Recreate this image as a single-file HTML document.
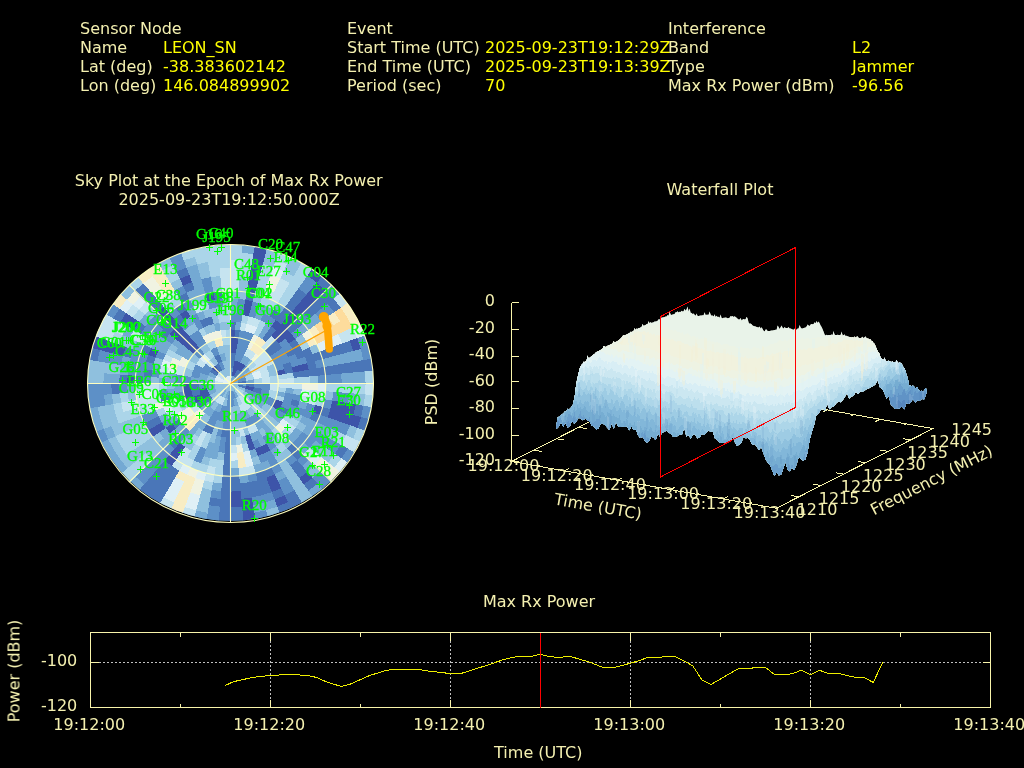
<!DOCTYPE html>
<html><head><meta charset="utf-8"><title>Interference Event Report</title>
<style>
html,body{margin:0;padding:0;background:#000;}
body{width:1024px;height:768px;overflow:hidden;}
svg{display:block;shape-rendering:crispEdges;font-family:"DejaVu Sans","Liberation Sans",sans-serif;}
.sat{font-family:"Liberation Serif","DejaVu Serif",serif;font-size:15px;fill:#00ff00;stroke:#00ff00;stroke-width:0.3px;}
</style></head><body>
<svg width="1024" height="768" viewBox="0 0 1024 768">
<rect width="1024" height="768" fill="#000"/>
<g style="will-change:opacity">
<text x="80" y="34" fill="#f4f0b0" text-anchor="start" font-size="16" >Sensor Node</text>
<text x="80" y="53" fill="#f4f0b0" text-anchor="start" font-size="16" >Name</text>
<text x="80" y="72" fill="#f4f0b0" text-anchor="start" font-size="16" >Lat (deg)</text>
<text x="80" y="91" fill="#f4f0b0" text-anchor="start" font-size="16" >Lon (deg)</text>
<text x="163" y="53" fill="#ffff00" text-anchor="start" font-size="16" >LEON_SN</text>
<text x="163" y="72" fill="#ffff00" text-anchor="start" font-size="16" >-38.383602142</text>
<text x="163" y="91" fill="#ffff00" text-anchor="start" font-size="16" >146.084899902</text>
<text x="347" y="34" fill="#f4f0b0" text-anchor="start" font-size="16" >Event</text>
<text x="347" y="53" fill="#f4f0b0" text-anchor="start" font-size="16" >Start Time (UTC)</text>
<text x="347" y="72" fill="#f4f0b0" text-anchor="start" font-size="16" >End Time (UTC)</text>
<text x="347" y="91" fill="#f4f0b0" text-anchor="start" font-size="16" >Period (sec)</text>
<text x="485" y="53" fill="#ffff00" text-anchor="start" font-size="16" >2025-09-23T19:12:29Z</text>
<text x="485" y="72" fill="#ffff00" text-anchor="start" font-size="16" >2025-09-23T19:13:39Z</text>
<text x="485" y="91" fill="#ffff00" text-anchor="start" font-size="16" >70</text>
<text x="668" y="34" fill="#f4f0b0" text-anchor="start" font-size="16" >Interference</text>
<text x="668" y="53" fill="#f4f0b0" text-anchor="start" font-size="16" >Band</text>
<text x="668" y="72" fill="#f4f0b0" text-anchor="start" font-size="16" >Type</text>
<text x="668" y="91" fill="#f4f0b0" text-anchor="start" font-size="16" >Max Rx Power (dBm)</text>
<text x="852" y="53" fill="#ffff00" text-anchor="start" font-size="16" >L2</text>
<text x="852" y="72" fill="#ffff00" text-anchor="start" font-size="16" >Jammer</text>
<text x="852" y="91" fill="#ffff00" text-anchor="start" font-size="16" >-96.56</text>
<text x="228.7" y="186" fill="#f4f0b0" text-anchor="middle" font-size="16" >Sky Plot at the Epoch of Max Rx Power</text>
<text x="229" y="205" fill="#f4f0b0" text-anchor="middle" font-size="16" >2025-09-23T19:12:50.000Z</text>
<text x="720" y="195" fill="#f4f0b0" text-anchor="middle" font-size="16" >Waterfall Plot</text>
<text x="539" y="607" fill="#f4f0b0" text-anchor="middle" font-size="16" >Max Rx Power</text>
<text x="538.3" y="758" fill="#f4f0b0" text-anchor="middle" font-size="16" >Time (UTC)</text>
<clipPath id="skyclip"><ellipse cx="230.5" cy="382.8" rx="143.0" ry="138.0"/></clipPath>
<g clip-path="url(#skyclip)">
<ellipse cx="230.5" cy="383.5" rx="143.0" ry="139.0" fill="#74a9d3"/>
<polygon fill="#abd5e9" points="230.5,383.5 230.5,375.2 230.9,375.2 231.3,375.2 230.5,383.5"/>
<polygon fill="#5d90c7" points="230.5,375.8 230.4,367.5 231.2,367.5 232.0,367.5 231.2,375.8"/>
<polygon fill="#4a76b8" points="230.4,368.1 230.4,352.0 231.9,352.0 233.5,352.2 232.0,368.1"/>
<polygon fill="#3d54a9" points="230.4,352.6 230.3,328.9 233.0,328.8 235.6,329.1 233.4,352.7"/>
<polygon fill="#4a76b8" points="230.3,329.4 230.2,321.1 233.3,321.1 236.4,321.4 235.6,329.7"/>
<polygon fill="#5d90c7" points="230.2,321.7 230.2,313.4 233.7,313.3 237.1,313.7 236.3,322.0"/>
<polygon fill="#74a9d3" points="230.2,314.0 230.1,298.0 234.3,297.9 238.6,298.3 237.0,314.3"/>
<polygon fill="#8fc0de" points="230.1,298.6 230.1,290.3 234.7,290.2 239.3,290.6 238.5,298.9"/>
<polygon fill="#c6e4f0" points="230.1,290.8 229.9,259.4 236.1,259.2 242.2,259.9 239.2,291.2"/>
<polygon fill="#abd5e9" points="229.9,259.9 229.9,242.6 236.8,242.4 243.8,243.1 242.1,260.5"/>
<polygon fill="#abd5e9" points="230.5,383.5 231.2,375.2 231.6,375.2 232.0,375.3 230.5,383.5"/>
<polygon fill="#5d90c7" points="231.2,375.8 231.9,367.5 232.7,367.6 233.4,367.7 231.9,375.9"/>
<polygon fill="#4a76b8" points="231.8,368.1 233.2,352.1 234.7,352.2 236.3,352.5 233.3,368.3"/>
<polygon fill="#3d54a9" points="233.1,352.7 234.5,336.7 236.8,336.9 239.1,337.3 236.2,353.1"/>
<polygon fill="#4a76b8" points="234.4,337.3 235.2,329.0 237.9,329.2 240.5,329.7 239.0,337.9"/>
<polygon fill="#74a9d3" points="235.1,329.6 235.8,321.4 238.9,321.5 241.9,322.1 240.4,330.3"/>
<polygon fill="#5d90c7" points="235.8,321.9 237.8,298.3 242.0,298.5 246.2,299.3 241.8,322.7"/>
<polygon fill="#8fc0de" points="237.7,298.8 239.8,275.2 245.1,275.5 250.4,276.5 246.1,299.9"/>
<polygon fill="#abd5e9" points="239.7,275.8 241.7,252.1 248.2,252.5 254.6,253.7 250.3,277.1"/>
<polygon fill="#74a9d3" points="241.7,252.7 242.5,243.0 249.5,243.5 256.3,244.8 254.5,254.3"/>
<polygon fill="#74a9d3" points="230.5,383.5 231.9,375.3 232.4,375.4 232.7,375.5 230.5,383.5"/>
<polygon fill="#3d54a9" points="231.8,375.9 234.6,360.1 235.8,360.3 236.9,360.6 232.6,376.0"/>
<polygon fill="#5d90c7" points="234.5,360.7 240.0,329.7 242.7,330.0 245.3,330.8 236.8,361.1"/>
<polygon fill="#c6e4f0" points="239.9,330.2 241.4,322.0 244.4,322.5 247.4,323.3 245.1,331.3"/>
<polygon fill="#abd5e9" points="241.3,322.6 242.7,314.4 246.1,314.9 249.5,315.9 247.2,323.9"/>
<polygon fill="#3d54a9" points="242.6,315.0 245.4,299.2 249.6,299.8 253.6,301.0 249.3,316.4"/>
<polygon fill="#4a76b8" points="245.3,299.8 246.7,291.6 251.3,292.3 255.7,293.5 253.5,301.5"/>
<polygon fill="#3d54a9" points="246.6,292.2 255.1,244.6 261.9,245.6 268.6,247.5 255.6,294.1"/>
<polygon fill="#74a9d3" points="230.5,383.5 232.7,375.5 233.1,375.6 233.5,375.7 230.5,383.5"/>
<polygon fill="#3d54a9" points="232.5,376.0 236.7,360.5 237.9,360.8 239.0,361.2 233.2,376.3"/>
<polygon fill="#5d90c7" points="236.6,361.1 244.8,330.7 247.4,331.3 250.0,332.2 238.7,361.8"/>
<polygon fill="#dff0f6" points="244.7,331.2 246.8,323.2 249.8,323.9 252.7,325.0 249.7,332.8"/>
<polygon fill="#c6e4f0" points="246.7,323.8 248.9,315.7 252.2,316.5 255.5,317.7 252.5,325.5"/>
<polygon fill="#5d90c7" points="248.7,316.3 252.9,300.8 257.0,301.8 261.0,303.3 255.2,318.3"/>
<polygon fill="#8fc0de" points="252.7,301.4 256.9,285.9 261.8,287.0 266.5,288.8 260.7,303.8"/>
<polygon fill="#abd5e9" points="256.8,286.4 263.0,263.5 269.0,264.9 274.7,267.0 266.2,289.3"/>
<polygon fill="#8fc0de" points="262.9,264.0 267.4,247.2 274.2,248.8 280.7,251.3 274.5,267.6"/>
<polygon fill="#74a9d3" points="230.5,383.5 233.4,375.7 233.8,375.8 234.1,376.0 230.5,383.5"/>
<polygon fill="#3d54a9" points="233.2,376.2 238.8,361.1 239.9,361.5 240.9,362.0 233.9,376.5"/>
<polygon fill="#5d90c7" points="238.6,361.7 249.5,332.1 252.1,332.9 254.5,334.1 240.7,362.5"/>
<polygon fill="#dff0f6" points="249.3,332.6 252.2,324.8 255.1,325.8 257.9,327.1 254.2,334.6"/>
<polygon fill="#c6e4f0" points="252.0,325.4 254.9,317.5 258.1,318.6 261.3,320.1 257.6,327.6"/>
<polygon fill="#74a9d3" points="254.7,318.1 260.2,303.0 264.2,304.3 268.0,306.1 261.0,320.6"/>
<polygon fill="#abd5e9" points="260.0,303.6 262.9,295.7 267.3,297.2 271.4,299.2 267.8,306.7"/>
<polygon fill="#c6e4f0" points="262.7,296.3 265.6,288.5 270.3,290.0 274.8,292.2 271.2,299.7"/>
<polygon fill="#f0f3e2" points="265.4,289.0 271.0,273.9 276.4,275.7 281.6,278.2 274.6,292.7"/>
<polygon fill="#dff0f6" points="270.8,274.5 273.7,266.7 279.5,268.6 285.0,271.2 281.3,278.7"/>
<polygon fill="#c6e4f0" points="273.5,267.2 276.3,259.4 282.5,261.4 288.4,264.2 284.7,271.7"/>
<polygon fill="#abd5e9" points="276.1,259.9 279.5,250.8 286.1,253.0 292.4,256.0 288.1,264.8"/>
<polygon fill="#74a9d3" points="230.5,383.5 234.1,376.0 234.5,376.1 234.8,376.3 230.5,383.5"/>
<polygon fill="#4a76b8" points="233.8,376.5 237.4,368.9 238.1,369.3 238.8,369.7 234.5,376.8"/>
<polygon fill="#3d54a9" points="237.2,369.5 240.7,361.9 241.8,362.4 242.8,363.0 238.5,370.2"/>
<polygon fill="#74a9d3" points="240.5,362.5 244.1,354.9 245.5,355.5 246.8,356.3 242.5,363.5"/>
<polygon fill="#c6e4f0" points="243.8,355.4 247.4,347.9 249.2,348.7 250.8,349.6 246.5,356.8"/>
<polygon fill="#f0f3e2" points="247.1,348.4 254.0,333.9 256.5,334.9 258.8,336.3 250.5,350.1"/>
<polygon fill="#abd5e9" points="253.8,334.4 260.7,319.9 263.9,321.2 266.8,323.0 258.5,336.8"/>
<polygon fill="#5d90c7" points="260.4,320.4 264.0,312.8 267.5,314.3 270.8,316.3 266.5,323.5"/>
<polygon fill="#74a9d3" points="263.8,313.4 267.3,305.8 271.2,307.5 274.8,309.6 270.5,316.8"/>
<polygon fill="#abd5e9" points="267.1,306.4 270.7,298.8 274.9,300.6 278.8,302.9 274.5,310.1"/>
<polygon fill="#c6e4f0" points="270.4,299.3 280.6,277.8 285.9,280.0 290.8,282.9 278.5,303.5"/>
<polygon fill="#abd5e9" points="280.4,278.3 284.0,270.8 289.6,273.2 294.8,276.3 290.5,283.4"/>
<polygon fill="#8fc0de" points="283.7,271.3 291.2,255.5 297.6,258.2 303.5,261.7 294.5,276.8"/>
<polygon fill="#74a9d3" points="230.5,383.5 234.7,376.3 235.1,376.5 235.4,376.7 230.5,383.5"/>
<polygon fill="#4a76b8" points="234.4,376.8 238.7,369.6 239.4,370.0 240.0,370.4 235.1,377.2"/>
<polygon fill="#3d54a9" points="238.4,370.1 242.6,362.9 243.7,363.4 244.6,364.1 239.7,370.9"/>
<polygon fill="#74a9d3" points="242.3,363.4 246.6,356.2 247.9,356.9 249.2,357.8 244.3,364.6"/>
<polygon fill="#c6e4f0" points="246.3,356.7 250.5,349.5 252.2,350.4 253.8,351.5 248.8,358.3"/>
<polygon fill="#f8edc4" points="250.2,350.0 258.4,336.1 260.8,337.3 262.9,338.9 253.4,352.0"/>
<polygon fill="#74a9d3" points="258.1,336.6 266.3,322.7 269.3,324.3 272.1,326.3 262.6,339.4"/>
<polygon fill="#5d90c7" points="266.0,323.2 270.2,315.9 273.6,317.7 276.7,320.0 271.8,326.7"/>
<polygon fill="#4a76b8" points="269.9,316.5 274.2,309.2 277.9,311.2 281.3,313.7 276.4,320.4"/>
<polygon fill="#74a9d3" points="273.9,309.8 278.1,302.5 282.1,304.7 285.9,307.3 280.9,314.1"/>
<polygon fill="#abd5e9" points="277.8,303.0 302.5,261.1 308.6,264.4 314.2,268.4 285.5,307.8"/>
<polygon fill="#74a9d3" points="230.5,383.5 235.4,376.7 235.7,376.9 236.0,377.2 230.5,383.5"/>
<polygon fill="#4a76b8" points="235.0,377.2 239.9,370.3 240.6,370.8 241.2,371.3 235.6,377.6"/>
<polygon fill="#3d54a9" points="239.6,370.8 244.4,364.0 245.4,364.6 246.3,365.4 240.8,371.7"/>
<polygon fill="#74a9d3" points="244.1,364.5 249.0,357.6 250.2,358.5 251.4,359.5 245.9,365.8"/>
<polygon fill="#c6e4f0" points="248.6,358.1 253.5,351.3 255.1,352.3 256.6,353.6 251.0,359.9"/>
<polygon fill="#f8edc4" points="253.1,351.8 262.5,338.6 264.8,340.1 266.8,341.8 256.2,354.0"/>
<polygon fill="#4a76b8" points="262.2,339.1 271.6,325.9 274.5,327.8 277.1,330.0 266.4,342.2"/>
<polygon fill="#3d54a9" points="271.3,326.4 276.1,319.6 279.3,321.6 282.2,324.1 276.7,330.5"/>
<polygon fill="#4a76b8" points="275.8,320.1 298.8,287.8 303.6,291.0 307.9,294.6 281.8,324.6"/>
<polygon fill="#5d90c7" points="298.4,288.3 307.8,275.2 313.2,278.7 318.2,282.9 307.5,295.1"/>
<polygon fill="#3d54a9" points="307.5,275.6 313.1,267.7 318.9,271.5 324.2,275.9 317.8,283.3"/>
<polygon fill="#74a9d3" points="230.5,383.5 236.0,377.1 236.3,377.4 236.6,377.7 230.5,383.5"/>
<polygon fill="#5d90c7" points="235.6,377.6 246.1,365.2 247.0,366.0 247.9,366.8 236.1,378.1"/>
<polygon fill="#8fc0de" points="245.7,365.7 251.2,359.3 252.4,360.2 253.5,361.3 247.4,367.2"/>
<polygon fill="#f0f3e2" points="250.8,359.8 256.3,353.4 257.8,354.5 259.1,355.9 253.1,361.8"/>
<polygon fill="#f8edc4" points="255.9,353.8 261.4,347.4 263.2,348.8 264.8,350.5 258.7,356.3"/>
<polygon fill="#c6e4f0" points="261.0,347.9 271.5,335.6 273.9,337.4 276.1,339.6 264.4,350.9"/>
<polygon fill="#3d54a9" points="271.1,336.0 317.2,282.1 322.3,286.1 326.8,290.7 275.6,340.0"/>
<polygon fill="#4a76b8" points="316.9,282.6 323.2,275.1 328.7,279.4 333.5,284.3 326.4,291.1"/>
<polygon fill="#74a9d3" points="230.5,383.5 247.7,366.6 248.6,367.4 249.3,368.3 230.5,383.5"/>
<polygon fill="#abd5e9" points="247.3,367.0 253.3,361.1 254.4,362.2 255.4,363.4 248.8,368.7"/>
<polygon fill="#c6e4f0" points="252.9,361.6 264.5,350.2 266.2,351.7 267.6,353.5 254.9,363.7"/>
<polygon fill="#4a76b8" points="264.1,350.6 275.7,339.2 277.9,341.3 279.8,343.6 267.1,353.9"/>
<polygon fill="#3d54a9" points="275.2,339.6 286.9,328.2 289.6,330.8 292.0,333.7 279.4,344.0"/>
<polygon fill="#4a76b8" points="286.4,328.7 298.0,317.3 301.4,320.4 304.3,323.9 291.6,334.1"/>
<polygon fill="#5d90c7" points="297.6,317.7 303.6,311.8 307.2,315.1 310.4,318.9 303.8,324.2"/>
<polygon fill="#4a76b8" points="303.2,312.2 326.0,289.9 330.7,294.2 334.8,299.2 309.9,319.3"/>
<polygon fill="#5d90c7" points="325.6,290.3 332.6,283.4 337.6,288.1 342.0,293.4 334.3,299.6"/>
<polygon fill="#74a9d3" points="230.5,383.5 249.1,368.2 249.9,369.0 250.6,370.0 230.5,383.5"/>
<polygon fill="#abd5e9" points="248.7,368.5 255.2,363.2 256.2,364.3 257.1,365.6 250.1,370.3"/>
<polygon fill="#c6e4f0" points="254.8,363.5 267.3,353.2 268.9,354.9 270.2,356.8 256.6,365.9"/>
<polygon fill="#4a76b8" points="266.9,353.6 279.5,343.2 281.5,345.5 283.2,348.0 269.7,357.1"/>
<polygon fill="#5d90c7" points="279.0,343.6 285.5,338.2 287.8,340.8 289.7,343.6 282.7,348.3"/>
<polygon fill="#3d54a9" points="285.1,338.6 291.6,333.2 294.1,336.0 296.3,339.2 289.2,343.9"/>
<polygon fill="#5d90c7" points="291.1,333.6 297.7,328.2 300.4,331.3 302.8,334.7 295.8,339.5"/>
<polygon fill="#74a9d3" points="297.2,328.6 315.8,313.3 319.4,317.2 322.4,321.5 302.3,335.1"/>
<polygon fill="#5d90c7" points="315.4,313.6 328.0,303.3 332.0,307.8 335.4,312.7 321.9,321.9"/>
<polygon fill="#4a76b8" points="327.5,303.7 334.0,298.3 338.3,303.1 342.0,308.3 334.9,313.1"/>
<polygon fill="#c6e4f0" points="333.6,298.7 341.2,292.4 345.8,297.5 349.6,303.2 341.5,308.7"/>
<polygon fill="#74a9d3" points="230.5,383.5 244.0,374.2 244.4,374.9 244.8,375.5 230.5,383.5"/>
<polygon fill="#8fc0de" points="243.5,374.6 250.5,369.8 251.1,370.7 251.7,371.7 244.3,375.8"/>
<polygon fill="#c6e4f0" points="250.0,370.1 269.9,356.4 271.3,358.2 272.4,360.2 251.2,372.0"/>
<polygon fill="#5d90c7" points="269.4,356.8 289.4,343.1 291.4,345.8 293.1,348.7 271.9,360.5"/>
<polygon fill="#4a76b8" points="288.9,343.4 295.9,338.6 298.1,341.6 300.0,344.9 292.6,349.0"/>
<polygon fill="#8fc0de" points="295.4,338.9 302.4,334.1 304.9,337.5 306.9,341.1 299.5,345.2"/>
<polygon fill="#f0f3e2" points="301.9,334.5 308.8,329.7 311.6,333.3 313.8,337.2 306.4,341.3"/>
<polygon fill="#f8edc4" points="308.4,330.0 315.3,325.2 318.3,329.1 320.7,333.4 313.3,337.5"/>
<polygon fill="#fddc9c" points="314.8,325.6 328.3,316.3 331.7,320.8 334.5,325.7 320.2,333.7"/>
<polygon fill="#f8edc4" points="327.8,316.6 334.8,311.9 338.4,316.7 341.4,321.9 334.0,326.0"/>
<polygon fill="#fddc9c" points="334.3,312.2 341.3,307.4 345.1,312.5 348.3,318.1 340.9,322.2"/>
<polygon fill="#f8edc4" points="340.8,307.7 348.9,302.2 353.0,307.6 356.4,313.6 347.8,318.4"/>
<polygon fill="#74a9d3" points="230.5,383.5 244.7,375.4 245.2,376.1 245.5,376.8 230.5,383.5"/>
<polygon fill="#8fc0de" points="244.2,375.7 251.6,371.5 252.2,372.5 252.7,373.6 244.9,377.0"/>
<polygon fill="#c6e4f0" points="251.1,371.8 272.2,359.9 273.4,361.8 274.3,363.9 252.1,373.8"/>
<polygon fill="#5d90c7" points="271.7,360.2 285.9,352.1 287.5,354.6 288.8,357.4 273.8,364.1"/>
<polygon fill="#4a76b8" points="285.4,352.4 299.6,344.3 301.6,347.5 303.2,350.9 288.2,357.6"/>
<polygon fill="#abd5e9" points="299.1,344.6 306.5,340.4 308.7,343.9 310.4,347.7 302.6,351.2"/>
<polygon fill="#f8edc4" points="306.0,340.7 313.4,336.5 315.8,340.4 317.6,344.5 309.9,347.9"/>
<polygon fill="#fddc9c" points="312.9,336.8 347.7,317.1 351.1,322.5 353.7,328.3 317.1,344.7"/>
<polygon fill="#f8edc4" points="347.2,317.4 355.8,312.5 359.4,318.3 362.2,324.5 353.1,328.5"/>
<polygon fill="#74a9d3" points="230.5,383.5 238.2,380.0 238.4,380.3 238.5,380.7 230.5,383.5"/>
<polygon fill="#5d90c7" points="237.7,380.2 245.4,376.7 245.8,377.4 246.0,378.1 238.0,380.9"/>
<polygon fill="#abd5e9" points="244.9,376.9 252.6,373.4 253.1,374.4 253.5,375.5 245.5,378.3"/>
<polygon fill="#dff0f6" points="252.1,373.6 259.8,370.1 260.5,371.4 261.0,372.9 252.9,375.7"/>
<polygon fill="#c6e4f0" points="259.2,370.3 267.0,366.8 267.8,368.5 268.5,370.3 260.4,373.1"/>
<polygon fill="#8fc0de" points="266.4,367.0 274.2,363.5 275.2,365.5 275.9,367.6 267.9,370.5"/>
<polygon fill="#5d90c7" points="273.6,363.7 295.7,353.6 297.2,356.6 298.4,359.8 275.4,367.8"/>
<polygon fill="#4a76b8" points="295.2,353.9 310.1,347.0 312.0,350.7 313.3,354.6 297.8,360.0"/>
<polygon fill="#8fc0de" points="309.5,347.3 317.3,343.7 319.3,347.7 320.8,352.0 312.7,354.8"/>
<polygon fill="#dff0f6" points="316.7,344.0 338.8,333.8 341.4,338.9 343.2,344.2 320.2,352.2"/>
<polygon fill="#c6e4f0" points="338.3,334.1 353.2,327.3 356.1,332.9 358.2,338.9 342.7,344.4"/>
<polygon fill="#dff0f6" points="352.7,327.5 361.6,323.4 364.7,329.5 367.0,335.9 357.6,339.1"/>
<polygon fill="#74a9d3" points="230.5,383.5 238.5,380.6 238.7,381.0 238.8,381.4 230.5,383.5"/>
<polygon fill="#5d90c7" points="238.0,380.8 246.0,378.0 246.3,378.7 246.4,379.4 238.2,381.5"/>
<polygon fill="#abd5e9" points="245.4,378.2 253.4,375.3 253.8,376.3 254.1,377.5 245.9,379.6"/>
<polygon fill="#dff0f6" points="252.9,375.5 260.9,372.6 261.4,374.0 261.8,375.5 253.5,377.6"/>
<polygon fill="#c6e4f0" points="260.3,372.8 268.3,369.9 269.0,371.7 269.5,373.5 261.2,375.6"/>
<polygon fill="#8fc0de" points="267.8,370.1 275.8,367.3 276.6,369.4 277.2,371.6 268.9,373.7"/>
<polygon fill="#5d90c7" points="275.2,367.5 283.2,364.6 284.2,367.0 284.9,369.6 276.6,371.7"/>
<polygon fill="#4a76b8" points="282.7,364.8 290.7,361.9 291.8,364.7 292.5,367.6 284.3,369.7"/>
<polygon fill="#5d90c7" points="290.1,362.1 305.6,356.6 307.0,360.1 307.9,363.7 292.0,367.8"/>
<polygon fill="#4a76b8" points="305.0,356.8 350.3,340.5 352.5,346.1 354.0,351.9 307.3,363.8"/>
<polygon fill="#3d54a9" points="349.8,340.7 357.8,337.9 360.1,343.8 361.7,349.9 353.4,352.0"/>
<polygon fill="#5d90c7" points="357.2,338.1 366.5,334.7 369.1,341.0 370.7,347.6 361.1,350.1"/>
<polygon fill="#74a9d3" points="230.5,383.5 238.7,381.3 238.9,381.7 238.9,382.1 230.5,383.5"/>
<polygon fill="#5d90c7" points="238.2,381.5 246.4,379.3 246.6,380.0 246.8,380.8 238.3,382.2"/>
<polygon fill="#abd5e9" points="245.8,379.4 254.1,377.3 254.4,378.3 254.6,379.5 246.2,380.9"/>
<polygon fill="#dff0f6" points="253.5,377.4 261.7,375.2 262.2,376.7 262.4,378.2 254.0,379.6"/>
<polygon fill="#c6e4f0" points="261.2,375.4 269.4,373.2 269.9,375.0 270.2,376.9 261.8,378.3"/>
<polygon fill="#8fc0de" points="268.8,373.3 277.1,371.2 277.7,373.3 278.1,375.6 269.6,377.0"/>
<polygon fill="#3d54a9" points="276.5,371.3 284.7,369.1 285.5,371.7 285.9,374.2 277.5,375.7"/>
<polygon fill="#4a76b8" points="284.2,369.3 292.4,367.1 293.3,370.0 293.7,372.9 285.3,374.3"/>
<polygon fill="#3d54a9" points="291.8,367.3 307.7,363.0 308.8,366.6 309.4,370.3 293.1,373.0"/>
<polygon fill="#4a76b8" points="307.1,363.2 315.4,361.0 316.6,365.0 317.2,369.0 308.8,370.4"/>
<polygon fill="#5d90c7" points="314.8,361.2 323.1,359.0 324.3,363.3 325.0,367.7 316.6,369.1"/>
<polygon fill="#74a9d3" points="322.5,359.1 361.4,348.8 363.2,354.9 364.2,361.2 324.5,367.8"/>
<polygon fill="#5d90c7" points="360.8,349.0 370.4,346.4 372.3,352.9 373.4,359.6 363.6,361.3"/>
<polygon fill="#74a9d3" points="230.5,383.5 238.9,382.0 239.0,382.4 239.0,382.8 230.5,383.5"/>
<polygon fill="#4a76b8" points="238.3,382.1 246.7,380.6 246.9,381.4 246.9,382.2 238.4,382.9"/>
<polygon fill="#74a9d3" points="246.1,380.8 254.5,379.3 254.8,380.4 254.8,381.5 246.3,382.2"/>
<polygon fill="#abd5e9" points="254.0,379.4 262.4,377.9 262.7,379.4 262.8,380.9 254.3,381.6"/>
<polygon fill="#c6e4f0" points="261.8,378.0 270.2,376.5 270.6,378.4 270.7,380.3 262.2,380.9"/>
<polygon fill="#abd5e9" points="269.6,376.6 293.6,372.4 294.2,375.3 294.4,378.3 270.1,380.3"/>
<polygon fill="#4a76b8" points="293.0,372.5 373.2,358.4 374.5,365.1 375.0,371.8 293.8,378.4"/>
<polygon fill="#74a9d3" points="230.5,383.5 239.0,382.7 239.1,383.1 239.0,383.5 230.5,383.5"/>
<polygon fill="#4a76b8" points="238.4,382.8 246.9,382.0 247.0,382.8 247.0,383.6 238.4,383.5"/>
<polygon fill="#74a9d3" points="246.3,382.1 254.8,381.3 255.0,382.5 254.9,383.6 246.4,383.6"/>
<polygon fill="#abd5e9" points="254.2,381.4 262.7,380.6 262.9,382.1 262.9,383.6 254.3,383.6"/>
<polygon fill="#c6e4f0" points="262.1,380.7 270.7,379.9 270.9,381.8 270.8,383.7 262.3,383.6"/>
<polygon fill="#abd5e9" points="270.1,380.0 278.6,379.2 278.8,381.4 278.8,383.7 270.2,383.7"/>
<polygon fill="#c6e4f0" points="278.0,379.3 294.4,377.8 294.7,380.8 294.7,383.8 278.2,383.7"/>
<polygon fill="#abd5e9" points="293.8,377.8 310.2,376.4 310.6,380.1 310.5,383.8 294.1,383.8"/>
<polygon fill="#8fc0de" points="309.6,376.4 318.1,375.7 318.6,379.8 318.5,383.9 309.9,383.8"/>
<polygon fill="#5d90c7" points="317.5,375.7 341.9,373.6 342.4,378.7 342.3,384.0 317.9,383.9"/>
<polygon fill="#74a9d3" points="341.3,373.6 365.6,371.4 366.3,377.7 366.2,384.1 341.7,384.0"/>
<polygon fill="#abd5e9" points="365.0,371.5 374.9,370.6 375.7,377.3 375.5,384.1 365.6,384.1"/>
<polygon fill="#8fc0de" points="230.5,383.5 239.0,383.5 239.1,383.9 239.0,384.3 230.5,383.5"/>
<polygon fill="#74a9d3" points="238.4,383.5 247.0,383.4 247.0,384.2 246.9,385.0 238.4,384.2"/>
<polygon fill="#4a76b8" points="246.4,383.4 254.9,383.4 255.0,384.5 254.8,385.7 246.3,384.9"/>
<polygon fill="#5d90c7" points="254.3,383.4 270.8,383.3 270.9,385.2 270.7,387.1 254.2,385.6"/>
<polygon fill="#c6e4f0" points="270.2,383.3 302.6,383.2 302.7,386.6 302.3,389.9 270.1,387.0"/>
<polygon fill="#f0f3e2" points="302.0,383.2 318.5,383.1 318.6,387.2 318.1,391.3 301.7,389.9"/>
<polygon fill="#dff0f6" points="317.9,383.1 326.4,383.1 326.5,387.6 326.0,392.0 317.5,391.3"/>
<polygon fill="#abd5e9" points="325.8,383.1 366.2,382.9 366.3,389.3 365.6,395.6 325.4,392.0"/>
<polygon fill="#c6e4f0" points="365.6,382.9 375.5,382.9 375.7,389.7 374.9,396.4 365.0,395.5"/>
<polygon fill="#8fc0de" points="230.5,383.5 239.0,384.2 239.0,384.6 238.9,385.0 230.5,383.5"/>
<polygon fill="#74a9d3" points="238.4,384.1 246.9,384.8 246.9,385.6 246.7,386.4 238.3,384.9"/>
<polygon fill="#4a76b8" points="246.3,384.8 254.8,385.5 254.8,386.6 254.5,387.7 246.1,386.2"/>
<polygon fill="#5d90c7" points="254.3,385.4 270.7,386.7 270.6,388.6 270.2,390.5 254.0,387.6"/>
<polygon fill="#c6e4f0" points="270.1,386.7 278.6,387.4 278.4,389.6 278.0,391.8 269.6,390.4"/>
<polygon fill="#abd5e9" points="278.0,387.3 286.5,388.0 286.3,390.6 285.8,393.2 277.4,391.7"/>
<polygon fill="#74a9d3" points="285.9,388.0 294.4,388.7 294.2,391.7 293.6,394.6 285.2,393.1"/>
<polygon fill="#8fc0de" points="293.8,388.6 302.4,389.3 302.1,392.7 301.4,396.0 293.0,394.5"/>
<polygon fill="#dff0f6" points="301.8,389.3 310.3,389.9 310.0,393.7 309.3,397.3 300.9,395.9"/>
<polygon fill="#c6e4f0" points="309.7,389.9 326.1,391.2 325.8,395.7 324.9,400.1 308.7,397.2"/>
<polygon fill="#8fc0de" points="325.5,391.2 334.0,391.9 333.7,396.7 332.7,401.5 324.3,400.0"/>
<polygon fill="#5d90c7" points="333.4,391.8 349.9,393.1 349.5,398.7 348.4,404.2 332.1,401.4"/>
<polygon fill="#74a9d3" points="349.3,393.1 357.8,393.8 357.4,399.7 356.2,405.6 347.8,404.1"/>
<polygon fill="#8fc0de" points="357.2,393.7 365.7,394.4 365.3,400.7 364.0,407.0 355.6,405.5"/>
<polygon fill="#abd5e9" points="365.1,394.4 375.0,395.2 374.5,401.9 373.2,408.6 363.4,406.9"/>
<polygon fill="#8fc0de" points="230.5,383.5 238.9,384.9 238.9,385.3 238.7,385.7 230.5,383.5"/>
<polygon fill="#4a76b8" points="238.3,384.8 246.8,386.2 246.6,387.0 246.4,387.7 238.2,385.5"/>
<polygon fill="#3d54a9" points="246.2,386.1 254.6,387.5 254.4,388.7 254.1,389.7 245.8,387.6"/>
<polygon fill="#4a76b8" points="254.0,387.4 262.4,388.8 262.2,390.3 261.7,391.8 253.5,389.6"/>
<polygon fill="#5d90c7" points="261.8,388.7 270.2,390.1 269.9,392.0 269.4,393.8 261.2,391.6"/>
<polygon fill="#abd5e9" points="269.6,390.0 278.1,391.4 277.7,393.7 277.1,395.8 268.8,393.7"/>
<polygon fill="#74a9d3" points="277.5,391.3 285.9,392.8 285.5,395.3 284.7,397.9 276.5,395.7"/>
<polygon fill="#5d90c7" points="285.3,392.7 301.6,395.4 301.0,398.7 300.1,401.9 284.2,397.7"/>
<polygon fill="#c6e4f0" points="301.0,395.3 317.2,398.0 316.6,402.0 315.4,406.0 299.5,401.8"/>
<polygon fill="#abd5e9" points="316.6,397.9 325.0,399.3 324.3,403.7 323.1,408.0 314.8,405.8"/>
<polygon fill="#5d90c7" points="324.5,399.2 332.9,400.6 332.1,405.4 330.7,410.1 322.5,407.9"/>
<polygon fill="#3d54a9" points="332.3,400.5 356.4,404.5 355.4,410.4 353.7,416.2 330.1,409.9"/>
<polygon fill="#4a76b8" points="355.8,404.4 364.2,405.8 363.2,412.1 361.4,418.2 353.1,416.0"/>
<polygon fill="#5d90c7" points="363.6,405.7 373.4,407.4 372.3,414.1 370.4,420.6 360.8,418.0"/>
<polygon fill="#8fc0de" points="230.5,383.5 238.8,385.6 238.7,386.0 238.5,386.4 230.5,383.5"/>
<polygon fill="#4a76b8" points="238.2,385.5 246.4,387.6 246.3,388.3 246.0,389.0 238.0,386.2"/>
<polygon fill="#3d54a9" points="245.9,387.4 254.1,389.5 253.8,390.7 253.4,391.7 245.4,388.8"/>
<polygon fill="#4a76b8" points="253.5,389.4 261.8,391.5 261.4,393.0 260.9,394.4 252.9,391.5"/>
<polygon fill="#5d90c7" points="261.2,391.4 269.5,393.5 269.0,395.3 268.3,397.1 260.3,394.2"/>
<polygon fill="#abd5e9" points="268.9,393.3 284.9,397.4 284.2,400.0 283.2,402.4 267.8,396.9"/>
<polygon fill="#5d90c7" points="284.3,397.3 292.5,399.4 291.8,402.3 290.7,405.1 282.7,402.2"/>
<polygon fill="#4a76b8" points="292.0,399.2 300.2,401.3 299.4,404.6 298.1,407.8 290.1,404.9"/>
<polygon fill="#74a9d3" points="299.6,401.2 307.9,403.3 307.0,406.9 305.6,410.4 297.6,407.6"/>
<polygon fill="#5d90c7" points="307.3,403.2 315.6,405.3 314.6,409.3 313.1,413.1 305.0,410.2"/>
<polygon fill="#3d54a9" points="315.0,405.1 323.3,407.2 322.2,411.6 320.5,415.8 312.5,412.9"/>
<polygon fill="#4a76b8" points="322.7,407.1 331.0,409.2 329.8,413.9 328.0,418.4 319.9,415.6"/>
<polygon fill="#3d54a9" points="330.4,409.1 361.7,417.1 360.1,423.2 357.8,429.1 327.4,418.2"/>
<polygon fill="#4a76b8" points="361.1,416.9 370.7,419.4 369.1,426.0 366.5,432.3 357.2,428.9"/>
<polygon fill="#8fc0de" points="230.5,383.5 246.0,388.9 245.8,389.6 245.4,390.3 230.5,383.5"/>
<polygon fill="#5d90c7" points="245.5,388.7 275.9,399.4 275.2,401.5 274.2,403.5 244.9,390.1"/>
<polygon fill="#3d54a9" points="275.4,399.2 283.4,402.0 282.5,404.5 281.3,406.8 273.6,403.3"/>
<polygon fill="#5d90c7" points="282.8,401.8 313.3,412.4 312.0,416.3 310.1,420.0 280.8,406.6"/>
<polygon fill="#4a76b8" points="312.7,412.2 320.8,415.0 319.3,419.3 317.3,423.3 309.5,419.7"/>
<polygon fill="#5d90c7" points="320.2,414.8 350.7,425.4 348.7,431.1 346.0,436.5 316.7,423.0"/>
<polygon fill="#8fc0de" points="350.1,425.3 358.2,428.1 356.1,434.1 353.2,439.7 345.5,436.2"/>
<polygon fill="#abd5e9" points="357.6,427.9 367.0,431.1 364.7,437.5 361.6,443.6 352.7,439.5"/>
<polygon fill="#8fc0de" points="230.5,383.5 245.5,390.2 245.2,390.9 244.7,391.6 230.5,383.5"/>
<polygon fill="#5d90c7" points="244.9,390.0 274.3,403.1 273.4,405.2 272.2,407.1 244.2,391.3"/>
<polygon fill="#3d54a9" points="273.8,402.9 281.5,406.4 280.5,408.8 279.1,411.0 271.7,406.8"/>
<polygon fill="#4a76b8" points="281.0,406.1 288.8,409.6 287.5,412.4 285.9,414.9 278.5,410.7"/>
<polygon fill="#5d90c7" points="288.2,409.4 296.0,412.8 294.6,415.9 292.8,418.8 285.4,414.6"/>
<polygon fill="#8fc0de" points="295.4,412.6 303.2,416.1 301.6,419.5 299.6,422.7 292.3,418.5"/>
<polygon fill="#74a9d3" points="302.6,415.8 332.1,429.0 329.9,433.8 327.1,438.3 299.1,422.4"/>
<polygon fill="#8fc0de" points="331.5,428.8 339.3,432.2 336.9,437.4 334.0,442.1 326.6,438.0"/>
<polygon fill="#abd5e9" points="338.7,432.0 346.5,435.5 344.0,440.9 340.8,446.0 333.4,441.9"/>
<polygon fill="#c6e4f0" points="345.9,435.2 362.2,442.5 359.4,448.7 355.8,454.5 340.3,445.7"/>
<polygon fill="#8fc0de" points="230.5,383.5 237.9,387.6 237.7,388.0 237.5,388.3 230.5,383.5"/>
<polygon fill="#abd5e9" points="237.4,387.3 244.8,391.5 244.4,392.1 244.0,392.8 237.0,388.0"/>
<polygon fill="#8fc0de" points="244.3,391.2 251.7,395.3 251.1,396.3 250.5,397.2 243.5,392.4"/>
<polygon fill="#74a9d3" points="251.2,395.0 265.5,402.9 264.6,404.6 263.4,406.1 250.0,396.9"/>
<polygon fill="#8fc0de" points="265.0,402.7 272.4,406.8 271.3,408.8 269.9,410.6 262.9,405.8"/>
<polygon fill="#74a9d3" points="271.9,406.5 279.3,410.6 278.0,412.9 276.4,415.0 269.4,410.2"/>
<polygon fill="#5d90c7" points="278.8,410.3 286.2,414.4 284.7,417.1 282.9,419.5 275.9,414.7"/>
<polygon fill="#abd5e9" points="285.7,414.2 300.0,422.1 298.1,425.4 295.9,428.4 282.4,419.2"/>
<polygon fill="#8fc0de" points="299.5,421.8 306.9,425.9 304.9,429.5 302.4,432.9 295.4,428.1"/>
<polygon fill="#74a9d3" points="306.4,425.7 313.8,429.8 311.6,433.7 308.8,437.3 301.9,432.5"/>
<polygon fill="#5d90c7" points="313.3,429.5 341.4,445.1 338.4,450.3 334.8,455.1 308.4,437.0"/>
<polygon fill="#4a76b8" points="340.9,444.8 348.3,448.9 345.1,454.5 341.3,459.6 334.3,454.8"/>
<polygon fill="#5d90c7" points="347.8,448.6 356.4,453.4 353.0,459.4 348.9,464.8 340.8,459.3"/>
<polygon fill="#8fc0de" points="230.5,383.5 237.5,388.2 237.3,388.6 237.0,388.9 230.5,383.5"/>
<polygon fill="#abd5e9" points="237.0,387.9 244.0,392.6 243.6,393.3 243.1,393.9 236.6,388.5"/>
<polygon fill="#8fc0de" points="243.6,392.3 250.6,397.0 249.9,398.0 249.1,398.8 242.6,393.5"/>
<polygon fill="#74a9d3" points="250.1,396.7 263.6,405.8 262.6,407.4 261.3,408.8 248.7,398.5"/>
<polygon fill="#8fc0de" points="263.1,405.5 270.2,410.2 268.9,412.1 267.3,413.8 260.8,408.4"/>
<polygon fill="#74a9d3" points="269.7,409.9 283.2,419.0 281.5,421.5 279.5,423.8 266.9,413.4"/>
<polygon fill="#dff0f6" points="282.7,418.7 289.7,423.4 287.8,426.2 285.5,428.8 279.0,423.4"/>
<polygon fill="#c6e4f0" points="289.2,423.1 296.3,427.8 294.1,431.0 291.6,433.8 285.1,428.4"/>
<polygon fill="#74a9d3" points="295.8,427.5 302.8,432.3 300.4,435.7 297.7,438.8 291.1,433.4"/>
<polygon fill="#5d90c7" points="302.3,431.9 315.9,441.1 313.1,445.1 309.8,448.7 297.2,438.4"/>
<polygon fill="#74a9d3" points="315.4,440.7 322.4,445.5 319.4,449.8 315.8,453.7 309.3,448.4"/>
<polygon fill="#8fc0de" points="321.9,445.1 335.4,454.3 332.0,459.2 328.0,463.7 315.4,453.4"/>
<polygon fill="#abd5e9" points="334.9,453.9 342.0,458.7 338.3,463.9 334.0,468.7 327.5,463.3"/>
<polygon fill="#dff0f6" points="341.5,458.3 349.6,463.8 345.8,469.5 341.2,474.6 333.6,468.3"/>
<polygon fill="#8fc0de" points="230.5,383.5 237.1,388.8 236.8,389.1 236.5,389.4 230.5,383.5"/>
<polygon fill="#abd5e9" points="236.6,388.4 249.3,398.7 248.6,399.6 247.7,400.4 236.1,389.0"/>
<polygon fill="#8fc0de" points="248.8,398.3 255.4,403.6 254.4,404.8 253.3,405.9 247.3,400.0"/>
<polygon fill="#abd5e9" points="254.9,403.3 267.6,413.5 266.2,415.3 264.5,416.8 252.9,405.4"/>
<polygon fill="#8fc0de" points="267.1,413.1 279.8,423.4 277.9,425.7 275.7,427.8 264.1,416.4"/>
<polygon fill="#f0f3e2" points="279.4,423.0 285.9,428.3 283.8,430.9 281.3,433.3 275.2,427.4"/>
<polygon fill="#abd5e9" points="285.5,427.9 292.0,433.3 289.6,436.2 286.9,438.8 280.8,432.9"/>
<polygon fill="#74a9d3" points="291.6,432.9 298.1,438.2 295.5,441.4 292.4,444.2 286.4,438.3"/>
<polygon fill="#5d90c7" points="297.7,437.8 304.3,443.1 301.4,446.6 298.0,449.7 292.0,443.8"/>
<polygon fill="#74a9d3" points="303.8,442.8 310.4,448.1 307.2,451.9 303.6,455.2 297.6,449.3"/>
<polygon fill="#c6e4f0" points="309.9,447.7 316.5,453.0 313.1,457.1 309.2,460.7 303.2,454.8"/>
<polygon fill="#dff0f6" points="316.0,452.6 322.6,457.9 319.0,462.3 314.8,466.2 308.8,460.3"/>
<polygon fill="#f0f3e2" points="322.1,457.6 342.0,473.6 337.6,478.9 332.6,483.6 314.4,465.8"/>
<polygon fill="#8fc0de" points="230.5,383.5 236.6,389.3 236.3,389.6 236.0,389.9 230.5,383.5"/>
<polygon fill="#abd5e9" points="236.1,388.9 247.9,400.2 247.0,401.0 246.1,401.8 235.6,389.4"/>
<polygon fill="#8fc0de" points="247.4,399.8 253.5,405.7 252.4,406.8 251.2,407.7 245.7,401.3"/>
<polygon fill="#abd5e9" points="253.1,405.2 264.8,416.5 263.2,418.2 261.4,419.6 250.8,407.2"/>
<polygon fill="#8fc0de" points="264.4,416.1 276.1,427.4 273.9,429.6 271.5,431.4 261.0,419.1"/>
<polygon fill="#abd5e9" points="275.6,427.0 281.7,432.8 279.3,435.3 276.6,437.4 271.1,431.0"/>
<polygon fill="#c6e4f0" points="281.3,432.4 287.3,438.3 284.7,441.0 281.7,443.3 276.2,436.9"/>
<polygon fill="#8fc0de" points="286.9,437.9 293.0,443.7 290.1,446.7 286.8,449.3 281.3,442.9"/>
<polygon fill="#4a76b8" points="292.6,443.3 304.3,454.6 300.8,458.1 296.9,461.1 286.4,448.8"/>
<polygon fill="#5d90c7" points="303.8,454.2 309.9,460.0 306.2,463.8 302.0,467.1 296.5,460.7"/>
<polygon fill="#74a9d3" points="309.5,459.6 315.6,465.5 311.6,469.5 307.1,473.0 301.6,466.6"/>
<polygon fill="#8fc0de" points="315.1,465.0 321.2,470.9 317.0,475.2 312.2,478.9 306.7,472.6"/>
<polygon fill="#5d90c7" points="320.8,470.5 333.5,482.7 328.7,487.6 323.2,491.9 311.8,478.5"/>
<polygon fill="#8fc0de" points="230.5,383.5 236.0,389.8 235.7,390.1 235.4,390.3 230.5,383.5"/>
<polygon fill="#abd5e9" points="235.6,389.4 241.2,395.7 240.6,396.2 239.9,396.7 235.0,389.8"/>
<polygon fill="#c6e4f0" points="240.8,395.3 251.4,407.5 250.2,408.5 249.0,409.4 239.6,396.2"/>
<polygon fill="#8fc0de" points="251.0,407.1 256.6,413.4 255.1,414.7 253.5,415.7 248.6,408.9"/>
<polygon fill="#5d90c7" points="256.2,413.0 261.7,419.3 259.9,420.8 258.0,422.0 253.1,415.2"/>
<polygon fill="#74a9d3" points="261.3,418.9 277.1,437.0 274.5,439.2 271.6,441.1 257.7,421.6"/>
<polygon fill="#8fc0de" points="276.7,436.5 282.2,442.9 279.3,445.4 276.1,447.4 271.3,440.6"/>
<polygon fill="#abd5e9" points="281.8,442.4 287.4,448.8 284.2,451.5 280.7,453.8 275.8,446.9"/>
<polygon fill="#8fc0de" points="287.0,448.3 292.5,454.7 289.0,457.6 285.2,460.1 280.3,453.3"/>
<polygon fill="#5d90c7" points="292.1,454.2 297.6,460.6 293.9,463.8 289.7,466.5 284.8,459.6"/>
<polygon fill="#4a76b8" points="297.2,460.1 307.9,472.4 303.6,476.0 298.8,479.2 289.4,466.0"/>
<polygon fill="#3d54a9" points="307.5,471.9 313.0,478.2 308.4,482.2 303.3,485.5 298.4,478.7"/>
<polygon fill="#4a76b8" points="312.6,477.8 318.2,484.1 313.2,488.3 307.8,491.8 303.0,485.0"/>
<polygon fill="#74a9d3" points="317.8,483.7 324.2,491.1 318.9,495.5 313.1,499.3 307.5,491.4"/>
<polygon fill="#8fc0de" points="230.5,383.5 235.4,390.3 235.1,390.5 234.7,390.7 230.5,383.5"/>
<polygon fill="#abd5e9" points="235.1,389.8 240.0,396.6 239.4,397.0 238.7,397.4 234.4,390.2"/>
<polygon fill="#c6e4f0" points="239.7,396.1 249.2,409.2 247.9,410.1 246.6,410.8 238.4,396.9"/>
<polygon fill="#8fc0de" points="248.8,408.7 253.8,415.5 252.2,416.6 250.5,417.5 246.3,410.3"/>
<polygon fill="#5d90c7" points="253.4,415.0 258.4,421.8 256.5,423.1 254.5,424.2 250.2,417.0"/>
<polygon fill="#74a9d3" points="258.0,421.3 262.9,428.1 260.8,429.7 258.4,430.9 254.2,423.7"/>
<polygon fill="#8fc0de" points="262.6,427.6 267.5,434.4 265.0,436.2 262.3,437.6 258.1,430.4"/>
<polygon fill="#5d90c7" points="267.2,434.0 276.7,447.0 273.6,449.3 270.2,451.1 262.0,437.1"/>
<polygon fill="#74a9d3" points="276.4,446.6 281.3,453.3 277.9,455.8 274.2,457.8 269.9,450.5"/>
<polygon fill="#8fc0de" points="280.9,452.9 314.2,498.6 308.6,502.6 302.5,505.9 273.9,457.2"/>
<polygon fill="#8fc0de" points="230.5,383.5 234.8,390.7 234.5,390.9 234.1,391.0 230.5,383.5"/>
<polygon fill="#74a9d3" points="234.5,390.2 238.8,397.3 238.1,397.7 237.4,398.1 233.8,390.5"/>
<polygon fill="#abd5e9" points="238.5,396.8 242.8,404.0 241.8,404.6 240.7,405.1 237.2,397.5"/>
<polygon fill="#c6e4f0" points="242.5,403.5 246.8,410.7 245.5,411.5 244.1,412.1 240.5,404.5"/>
<polygon fill="#74a9d3" points="246.5,410.2 250.8,417.4 249.2,418.3 247.4,419.1 243.8,411.6"/>
<polygon fill="#5d90c7" points="250.5,416.9 254.8,424.0 252.8,425.2 250.7,426.1 247.1,418.6"/>
<polygon fill="#c6e4f0" points="254.5,423.5 258.8,430.7 256.5,432.1 254.0,433.1 250.5,425.6"/>
<polygon fill="#74a9d3" points="258.5,430.2 266.8,444.0 263.9,445.8 260.7,447.1 253.8,432.6"/>
<polygon fill="#3d54a9" points="266.5,443.5 270.8,450.7 267.5,452.7 264.0,454.2 260.4,446.6"/>
<polygon fill="#5d90c7" points="270.5,450.2 282.8,470.7 278.6,473.2 274.0,475.2 263.8,453.6"/>
<polygon fill="#74a9d3" points="282.5,470.2 286.8,477.4 282.2,480.1 277.3,482.2 273.7,474.7"/>
<polygon fill="#5d90c7" points="286.5,476.9 294.8,490.7 289.6,493.8 284.0,496.2 277.1,481.7"/>
<polygon fill="#4a76b8" points="294.5,490.2 303.5,505.3 297.6,508.8 291.2,511.5 283.7,495.7"/>
<polygon fill="#8fc0de" points="230.5,383.5 234.1,391.0 233.8,391.2 233.4,391.3 230.5,383.5"/>
<polygon fill="#74a9d3" points="233.9,390.5 237.5,398.0 236.8,398.3 236.1,398.6 233.2,390.8"/>
<polygon fill="#abd5e9" points="237.3,397.5 240.9,405.0 239.9,405.5 238.8,405.9 235.9,398.0"/>
<polygon fill="#c6e4f0" points="240.7,404.5 244.3,412.0 242.9,412.6 241.4,413.1 238.6,405.3"/>
<polygon fill="#74a9d3" points="244.1,411.4 247.7,418.9 246.0,419.8 244.1,420.4 241.2,412.6"/>
<polygon fill="#5d90c7" points="247.4,418.4 251.1,425.9 249.0,426.9 246.8,427.7 243.9,419.8"/>
<polygon fill="#c6e4f0" points="250.8,425.4 254.5,432.9 252.1,434.1 249.5,434.9 246.6,427.1"/>
<polygon fill="#74a9d3" points="254.2,432.4 257.9,439.9 255.1,441.2 252.2,442.2 249.3,434.4"/>
<polygon fill="#5d90c7" points="257.6,439.4 261.3,446.9 258.1,448.4 254.9,449.5 252.0,441.6"/>
<polygon fill="#3d54a9" points="261.0,446.4 264.6,453.9 261.2,455.5 257.5,456.7 254.7,448.9"/>
<polygon fill="#5d90c7" points="264.4,453.3 268.0,460.9 264.2,462.7 260.2,464.0 257.3,456.2"/>
<polygon fill="#74a9d3" points="267.8,460.3 271.4,467.8 267.3,469.8 262.9,471.3 260.0,463.4"/>
<polygon fill="#4a76b8" points="271.2,467.3 274.8,474.8 270.3,477.0 265.6,478.5 262.7,470.7"/>
<polygon fill="#3d54a9" points="274.6,474.3 281.6,488.8 276.4,491.3 271.0,493.1 265.4,478.0"/>
<polygon fill="#4a76b8" points="281.3,488.3 285.0,495.8 279.5,498.4 273.7,500.3 270.8,492.5"/>
<polygon fill="#3d54a9" points="284.7,495.3 288.4,502.8 282.5,505.6 276.3,507.6 273.5,499.8"/>
<polygon fill="#4a76b8" points="288.1,502.2 292.4,511.0 286.1,514.0 279.5,516.2 276.1,507.1"/>
<polygon fill="#8fc0de" points="230.5,383.5 233.5,391.3 233.1,391.4 232.7,391.5 230.5,383.5"/>
<polygon fill="#5d90c7" points="233.2,390.7 236.2,398.5 235.5,398.8 234.7,399.0 232.5,391.0"/>
<polygon fill="#74a9d3" points="236.0,398.0 239.0,405.8 237.9,406.2 236.7,406.5 234.5,398.4"/>
<polygon fill="#8fc0de" points="238.7,405.2 241.7,413.0 240.3,413.6 238.7,413.9 236.6,405.9"/>
<polygon fill="#74a9d3" points="241.5,412.5 244.5,420.3 242.6,421.0 240.8,421.4 238.6,413.4"/>
<polygon fill="#8fc0de" points="244.2,419.7 250.0,434.8 247.4,435.7 244.8,436.3 240.6,420.8"/>
<polygon fill="#3d54a9" points="249.7,434.2 255.5,449.3 252.2,450.5 248.9,451.3 244.7,435.8"/>
<polygon fill="#74a9d3" points="255.2,448.7 258.2,456.5 254.6,457.9 250.9,458.7 248.7,450.7"/>
<polygon fill="#8fc0de" points="258.0,455.9 261.0,463.7 257.0,465.2 252.9,466.2 250.7,458.2"/>
<polygon fill="#74a9d3" points="260.7,463.2 263.7,471.0 259.4,472.6 254.9,473.7 252.7,465.6"/>
<polygon fill="#4a76b8" points="263.5,470.4 272.0,492.7 266.6,494.8 261.0,496.1 254.8,473.1"/>
<polygon fill="#5d90c7" points="271.7,492.2 274.7,500.0 269.0,502.1 263.0,503.5 260.8,495.5"/>
<polygon fill="#74a9d3" points="274.5,499.4 277.5,507.2 271.4,509.5 265.0,511.0 262.9,503.0"/>
<polygon fill="#8fc0de" points="277.2,506.7 280.7,515.7 274.2,518.2 267.4,519.8 264.9,510.5"/>
<polygon fill="#8fc0de" points="230.5,383.5 232.7,391.5 232.4,391.6 231.9,391.7 230.5,383.5"/>
<polygon fill="#5d90c7" points="232.6,391.0 234.8,399.0 234.1,399.2 233.3,399.3 231.8,391.1"/>
<polygon fill="#74a9d3" points="234.7,398.4 236.9,406.4 235.8,406.7 234.6,406.9 233.2,398.7"/>
<polygon fill="#8fc0de" points="236.8,405.9 239.0,413.9 237.5,414.3 236.0,414.5 234.5,406.3"/>
<polygon fill="#74a9d3" points="238.9,413.3 241.1,421.3 239.2,421.8 237.3,422.1 235.9,413.9"/>
<polygon fill="#8fc0de" points="240.9,420.8 243.2,428.8 241.0,429.4 238.7,429.7 237.2,421.6"/>
<polygon fill="#c6e4f0" points="243.0,428.2 245.3,436.2 242.7,437.0 240.0,437.3 238.6,429.2"/>
<polygon fill="#8fc0de" points="245.1,435.7 247.4,443.7 244.4,444.5 241.4,445.0 239.9,436.8"/>
<polygon fill="#abd5e9" points="247.2,443.1 249.5,451.1 246.1,452.1 242.7,452.6 241.3,444.4"/>
<polygon fill="#dff0f6" points="249.3,450.6 253.6,466.0 249.6,467.2 245.4,467.8 242.6,452.0"/>
<polygon fill="#c6e4f0" points="253.5,465.5 255.7,473.5 251.3,474.7 246.7,475.4 245.3,467.2"/>
<polygon fill="#5d90c7" points="255.6,472.9 257.8,480.9 253.0,482.3 248.1,483.0 246.6,474.8"/>
<polygon fill="#4a76b8" points="257.7,480.4 262.0,495.8 256.5,497.4 250.8,498.2 248.0,482.4"/>
<polygon fill="#5d90c7" points="261.8,495.3 264.1,503.3 258.2,504.9 252.1,505.8 250.7,497.7"/>
<polygon fill="#74a9d3" points="263.9,502.7 266.2,510.7 259.9,512.5 253.5,513.5 252.0,505.3"/>
<polygon fill="#5d90c7" points="266.0,510.2 268.6,519.5 261.9,521.4 255.1,522.4 253.4,512.9"/>
<polygon fill="#8fc0de" points="230.5,383.5 232.0,391.7 231.6,391.8 231.2,391.8 230.5,383.5"/>
<polygon fill="#5d90c7" points="231.9,391.1 234.8,406.9 233.7,407.1 232.5,407.2 231.2,391.2"/>
<polygon fill="#8fc0de" points="234.7,406.3 240.5,437.3 237.9,437.8 235.2,438.0 232.5,406.6"/>
<polygon fill="#abd5e9" points="240.4,436.7 241.9,444.9 238.9,445.5 235.8,445.6 235.1,437.4"/>
<polygon fill="#f0f3e2" points="241.8,444.3 243.3,452.5 239.9,453.1 236.5,453.3 235.8,445.1"/>
<polygon fill="#f8edc4" points="243.2,451.9 246.2,467.7 242.0,468.5 237.8,468.7 236.4,452.8"/>
<polygon fill="#c6e4f0" points="246.1,467.1 247.6,475.3 243.0,476.1 238.4,476.4 237.7,468.2"/>
<polygon fill="#74a9d3" points="247.5,474.7 249.0,482.9 244.1,483.8 239.1,484.1 238.4,475.8"/>
<polygon fill="#4a76b8" points="248.9,482.3 251.8,498.1 246.2,499.2 240.4,499.5 239.1,483.5"/>
<polygon fill="#3d54a9" points="251.7,497.5 256.3,522.2 249.5,523.5 242.5,524.0 240.4,498.9"/>
<polygon fill="#8fc0de" points="230.5,383.5 231.3,391.8 230.9,391.8 230.5,391.8 230.5,383.5"/>
<polygon fill="#5d90c7" points="231.2,391.2 232.7,407.2 231.6,407.3 230.4,407.2 230.5,391.2"/>
<polygon fill="#8fc0de" points="232.7,406.6 236.4,445.6 233.3,445.9 230.2,445.9 230.4,406.7"/>
<polygon fill="#c6e4f0" points="236.3,445.0 237.1,453.3 233.7,453.7 230.2,453.6 230.2,445.3"/>
<polygon fill="#dff0f6" points="237.0,452.7 237.8,461.0 234.0,461.4 230.2,461.3 230.2,453.0"/>
<polygon fill="#abd5e9" points="237.8,460.4 238.6,468.7 234.3,469.1 230.1,469.0 230.2,460.7"/>
<polygon fill="#74a9d3" points="238.5,468.1 239.3,476.4 234.7,476.8 230.1,476.7 230.1,468.4"/>
<polygon fill="#4a76b8" points="239.2,475.8 240.7,491.7 235.4,492.3 230.0,492.2 230.1,476.2"/>
<polygon fill="#3d54a9" points="240.7,491.2 242.2,507.1 236.1,507.8 229.9,507.6 230.0,491.6"/>
<polygon fill="#4a76b8" points="242.1,506.5 243.8,523.9 236.8,524.6 229.9,524.4 229.9,507.1"/>
<polygon fill="#8fc0de" points="230.5,383.5 230.5,391.8 230.1,391.8 229.7,391.8 230.5,383.5"/>
<polygon fill="#5d90c7" points="230.5,391.2 230.7,430.4 228.4,430.5 226.1,430.2 229.8,391.2"/>
<polygon fill="#4a76b8" points="230.7,429.8 231.1,524.4 224.2,524.6 217.2,523.9 226.1,429.6"/>
<polygon fill="#8fc0de" points="230.5,383.5 229.8,391.8 229.4,391.8 229.0,391.7 230.5,383.5"/>
<polygon fill="#5d90c7" points="229.8,391.2 226.5,430.3 224.2,430.1 221.9,429.7 229.1,391.1"/>
<polygon fill="#4a76b8" points="226.6,429.7 225.8,438.0 223.1,437.8 220.5,437.3 222.0,429.1"/>
<polygon fill="#5d90c7" points="225.9,437.4 224.5,453.3 221.1,453.1 217.7,452.5 220.6,436.7"/>
<polygon fill="#8fc0de" points="224.6,452.8 223.9,461.0 220.0,460.8 216.3,460.1 217.8,451.9"/>
<polygon fill="#abd5e9" points="223.9,460.5 221.9,484.1 216.9,483.8 212.0,482.9 216.4,459.5"/>
<polygon fill="#74a9d3" points="221.9,483.5 221.2,491.8 215.9,491.5 210.6,490.5 212.1,482.3"/>
<polygon fill="#5d90c7" points="221.3,491.2 220.6,499.5 214.8,499.2 209.2,498.1 210.7,489.9"/>
<polygon fill="#4a76b8" points="220.6,498.9 219.9,507.2 213.8,506.8 207.8,505.7 209.3,497.5"/>
<polygon fill="#5d90c7" points="220.0,506.6 218.5,524.0 211.5,523.5 204.7,522.2 207.9,505.1"/>
<polygon fill="#8fc0de" points="230.5,383.5 229.1,391.7 228.6,391.6 228.3,391.5 230.5,383.5"/>
<polygon fill="#74a9d3" points="229.2,391.1 227.7,399.3 226.9,399.2 226.2,399.0 228.4,391.0"/>
<polygon fill="#8fc0de" points="227.8,398.7 226.4,406.9 225.2,406.7 224.1,406.4 226.3,398.4"/>
<polygon fill="#5d90c7" points="226.5,406.3 223.7,422.1 221.8,421.8 219.9,421.3 224.2,405.9"/>
<polygon fill="#74a9d3" points="223.8,421.6 222.3,429.7 220.0,429.4 217.8,428.8 220.1,420.8"/>
<polygon fill="#5d90c7" points="222.4,429.2 221.0,437.3 218.3,437.0 215.7,436.2 218.0,428.2"/>
<polygon fill="#74a9d3" points="221.1,436.8 216.9,460.2 213.1,459.6 209.4,458.6 215.9,435.7"/>
<polygon fill="#abd5e9" points="217.0,459.6 215.6,467.8 211.4,467.2 207.4,466.0 209.6,458.0"/>
<polygon fill="#c6e4f0" points="215.7,467.2 212.9,483.0 208.0,482.3 203.2,480.9 207.5,465.5"/>
<polygon fill="#abd5e9" points="213.0,482.4 211.6,490.6 206.2,489.8 201.1,488.4 203.3,480.4"/>
<polygon fill="#8fc0de" points="211.7,490.0 207.5,513.5 201.1,512.5 194.8,510.7 201.2,487.8"/>
<polygon fill="#74a9d3" points="207.6,512.9 205.9,522.4 199.1,521.4 192.4,519.5 195.0,510.2"/>
<polygon fill="#8fc0de" points="230.5,383.5 228.3,391.5 227.9,391.4 227.5,391.3 230.5,383.5"/>
<polygon fill="#74a9d3" points="228.5,391.0 226.3,399.0 225.5,398.8 224.8,398.5 227.8,390.7"/>
<polygon fill="#8fc0de" points="226.5,398.4 224.3,406.5 223.1,406.2 222.0,405.8 225.0,398.0"/>
<polygon fill="#5d90c7" points="224.4,405.9 220.2,421.4 218.4,421.0 216.5,420.3 222.3,405.2"/>
<polygon fill="#74a9d3" points="220.4,420.8 218.2,428.9 216.0,428.3 213.8,427.5 216.8,419.7"/>
<polygon fill="#8fc0de" points="218.4,428.3 214.2,443.8 211.2,443.1 208.3,442.0 214.0,427.0"/>
<polygon fill="#74a9d3" points="214.3,443.2 210.1,458.7 206.4,457.9 202.8,456.5 208.5,441.5"/>
<polygon fill="#8fc0de" points="210.3,458.2 208.1,466.2 204.0,465.2 200.0,463.7 203.0,455.9"/>
<polygon fill="#abd5e9" points="208.3,465.6 206.1,473.7 201.6,472.6 197.3,471.0 200.3,463.2"/>
<polygon fill="#dff0f6" points="206.2,473.1 204.1,481.1 199.2,480.0 194.5,478.2 197.5,470.4"/>
<polygon fill="#f0f3e2" points="204.2,480.6 200.0,496.1 194.4,494.8 189.0,492.7 194.8,477.7"/>
<polygon fill="#dff0f6" points="200.2,495.5 196.0,511.0 189.6,509.5 183.5,507.2 189.3,492.2"/>
<polygon fill="#c6e4f0" points="196.1,510.5 193.6,519.8 186.8,518.2 180.3,515.7 183.8,506.7"/>
<polygon fill="#8fc0de" points="230.5,383.5 224.9,398.6 224.2,398.3 223.5,398.0 230.5,383.5"/>
<polygon fill="#c6e4f0" points="225.1,398.0 222.2,405.9 221.1,405.5 220.1,405.0 223.7,397.5"/>
<polygon fill="#74a9d3" points="222.4,405.3 219.6,413.1 218.1,412.6 216.7,412.0 220.3,404.5"/>
<polygon fill="#5d90c7" points="219.8,412.6 214.2,427.7 212.0,426.9 209.9,425.9 216.9,411.4"/>
<polygon fill="#4a76b8" points="214.4,427.1 211.5,434.9 208.9,434.1 206.5,432.9 210.2,425.4"/>
<polygon fill="#abd5e9" points="211.7,434.4 206.1,449.5 202.9,448.4 199.7,446.9 206.8,432.4"/>
<polygon fill="#5d90c7" points="206.3,448.9 200.8,464.0 196.8,462.7 193.0,460.9 200.0,446.4"/>
<polygon fill="#abd5e9" points="201.0,463.4 198.1,471.3 193.7,469.8 189.6,467.8 193.2,460.3"/>
<polygon fill="#f0f3e2" points="198.3,470.7 195.4,478.5 190.7,477.0 186.2,474.8 189.8,467.3"/>
<polygon fill="#f8edc4" points="195.6,478.0 181.5,516.2 174.9,514.0 168.6,511.0 186.4,474.3"/>
<polygon fill="#8fc0de" points="230.5,383.5 223.6,398.1 222.9,397.7 222.2,397.3 230.5,383.5"/>
<polygon fill="#c6e4f0" points="223.8,397.5 220.3,405.1 219.2,404.6 218.2,404.0 222.5,396.8"/>
<polygon fill="#74a9d3" points="220.5,404.5 216.9,412.1 215.5,411.5 214.2,410.7 218.5,403.5"/>
<polygon fill="#5d90c7" points="217.2,411.6 210.3,426.1 208.2,425.2 206.2,424.0 214.5,410.2"/>
<polygon fill="#4a76b8" points="210.5,425.6 207.0,433.1 204.5,432.1 202.2,430.7 206.5,423.5"/>
<polygon fill="#c6e4f0" points="207.2,432.6 200.3,447.1 197.1,445.8 194.2,444.0 202.5,430.2"/>
<polygon fill="#abd5e9" points="200.6,446.6 193.7,461.2 189.8,459.5 186.2,457.4 194.5,443.5"/>
<polygon fill="#c6e4f0" points="193.9,460.6 190.3,468.2 186.1,466.4 182.2,464.1 186.5,456.9"/>
<polygon fill="#dff0f6" points="190.6,467.7 187.0,475.2 182.4,473.2 178.2,470.7 182.5,463.5"/>
<polygon fill="#f8edc4" points="187.3,474.7 183.7,482.2 178.8,480.1 174.2,477.4 178.5,470.2"/>
<polygon fill="#dff0f6" points="183.9,481.7 173.7,503.2 167.7,500.7 162.2,497.4 174.5,476.9"/>
<polygon fill="#c6e4f0" points="174.0,502.7 169.8,511.5 163.4,508.8 157.5,505.3 162.5,496.9"/>
<polygon fill="#8fc0de" points="230.5,383.5 226.3,390.7 225.9,390.5 225.6,390.3 230.5,383.5"/>
<polygon fill="#74a9d3" points="226.6,390.2 222.3,397.4 221.6,397.0 221.0,396.6 225.9,389.8"/>
<polygon fill="#c6e4f0" points="222.6,396.9 218.4,404.1 217.3,403.6 216.4,402.9 221.3,396.1"/>
<polygon fill="#8fc0de" points="218.7,403.6 214.4,410.8 213.1,410.1 211.8,409.2 216.7,402.4"/>
<polygon fill="#74a9d3" points="214.7,410.3 210.5,417.5 208.8,416.6 207.2,415.5 212.2,408.7"/>
<polygon fill="#8fc0de" points="210.8,417.0 206.5,424.2 204.5,423.1 202.6,421.8 207.6,415.0"/>
<polygon fill="#74a9d3" points="206.8,423.7 202.6,430.9 200.2,429.7 198.1,428.1 203.0,421.3"/>
<polygon fill="#8fc0de" points="202.9,430.4 198.7,437.6 196.0,436.2 193.5,434.4 198.4,427.6"/>
<polygon fill="#abd5e9" points="199.0,437.1 194.7,444.3 191.7,442.7 188.9,440.7 193.8,434.0"/>
<polygon fill="#8fc0de" points="195.0,443.8 190.8,451.1 187.4,449.3 184.3,447.0 189.2,440.3"/>
<polygon fill="#c6e4f0" points="191.1,450.5 179.0,471.2 174.6,468.8 170.5,466.0 184.6,446.6"/>
<polygon fill="#4a76b8" points="179.3,470.7 158.5,505.9 152.4,502.6 146.8,498.6 170.9,465.5"/>
<polygon fill="#8fc0de" points="230.5,383.5 225.6,390.3 225.3,390.1 225.0,389.8 230.5,383.5"/>
<polygon fill="#74a9d3" points="226.0,389.8 221.1,396.7 220.4,396.2 219.8,395.7 225.4,389.4"/>
<polygon fill="#c6e4f0" points="221.4,396.2 216.6,403.0 215.6,402.4 214.7,401.6 220.2,395.3"/>
<polygon fill="#8fc0de" points="216.9,402.5 212.0,409.4 210.8,408.5 209.6,407.5 215.1,401.2"/>
<polygon fill="#74a9d3" points="212.4,408.9 207.5,415.7 205.9,414.7 204.4,413.4 210.0,407.1"/>
<polygon fill="#8fc0de" points="207.9,415.2 203.0,422.0 201.1,420.8 199.3,419.3 204.8,413.0"/>
<polygon fill="#74a9d3" points="203.3,421.6 189.4,441.1 186.5,439.2 183.9,437.0 199.7,418.9"/>
<polygon fill="#8fc0de" points="189.7,440.6 184.9,447.4 181.7,445.4 178.8,442.9 184.3,436.5"/>
<polygon fill="#3d54a9" points="185.2,446.9 171.3,466.5 167.1,463.8 163.4,460.6 179.2,442.4"/>
<polygon fill="#4a76b8" points="171.6,466.0 147.9,499.3 142.1,495.5 136.8,491.1 163.8,460.1"/>
<polygon fill="#8fc0de" points="230.5,383.5 225.0,389.9 224.7,389.6 224.4,389.3 230.5,383.5"/>
<polygon fill="#abd5e9" points="225.4,389.4 214.9,401.8 214.0,401.0 213.1,400.2 224.9,388.9"/>
<polygon fill="#74a9d3" points="215.3,401.3 204.7,413.6 203.2,412.5 201.9,411.1 213.6,399.8"/>
<polygon fill="#f0f3e2" points="205.1,413.2 199.6,419.6 197.8,418.2 196.2,416.5 202.3,410.7"/>
<polygon fill="#f8edc4" points="200.0,419.1 189.5,431.4 187.1,429.6 184.9,427.4 196.6,416.1"/>
<polygon fill="#5d90c7" points="189.9,431.0 179.3,443.3 176.3,441.0 173.7,438.3 185.4,427.0"/>
<polygon fill="#4a76b8" points="179.7,442.9 174.2,449.3 170.9,446.7 168.0,443.7 174.1,437.9"/>
<polygon fill="#5d90c7" points="174.6,448.8 143.8,484.9 138.7,480.9 134.2,476.3 168.4,443.3"/>
<polygon fill="#74a9d3" points="144.1,484.4 137.8,491.9 132.3,487.6 127.5,482.7 134.6,475.9"/>
<polygon fill="#8fc0de" points="230.5,383.5 224.5,389.4 224.2,389.1 223.9,388.8 230.5,383.5"/>
<polygon fill="#abd5e9" points="224.9,389.0 213.3,400.4 212.4,399.6 211.7,398.7 224.4,388.4"/>
<polygon fill="#74a9d3" points="213.7,400.0 202.1,411.3 200.7,410.0 199.5,408.6 212.2,398.3"/>
<polygon fill="#f0f3e2" points="202.5,410.9 196.5,416.8 194.8,415.3 193.4,413.5 200.0,408.2"/>
<polygon fill="#f8edc4" points="196.9,416.4 185.3,427.8 183.1,425.7 181.2,423.4 193.9,413.1"/>
<polygon fill="#74a9d3" points="185.8,427.4 163.0,449.7 159.6,446.6 156.7,443.1 181.6,423.0"/>
<polygon fill="#8fc0de" points="163.4,449.3 151.8,460.7 147.9,457.1 144.5,453.0 157.2,442.8"/>
<polygon fill="#abd5e9" points="152.2,460.3 128.4,483.6 123.4,478.9 119.0,473.6 145.0,452.6"/>
<polygon fill="#8fc0de" points="230.5,383.5 211.9,398.8 211.1,398.0 210.4,397.0 230.5,383.5"/>
<polygon fill="#4a76b8" points="212.3,398.5 199.7,408.8 198.4,407.4 197.4,405.8 210.9,396.7"/>
<polygon fill="#c6e4f0" points="200.2,408.4 193.7,413.8 192.1,412.1 190.8,410.2 197.9,405.5"/>
<polygon fill="#f0f3e2" points="194.1,413.4 181.5,423.8 179.5,421.5 177.8,419.0 191.3,409.9"/>
<polygon fill="#4a76b8" points="182.0,423.4 175.5,428.8 173.2,426.2 171.3,423.4 178.3,418.7"/>
<polygon fill="#3d54a9" points="175.9,428.4 169.4,433.8 166.9,431.0 164.7,427.8 171.8,423.1"/>
<polygon fill="#74a9d3" points="169.9,433.4 163.3,438.8 160.6,435.7 158.2,432.3 165.2,427.5"/>
<polygon fill="#8fc0de" points="163.8,438.4 127.0,468.7 122.7,463.9 119.0,458.7 158.7,431.9"/>
<polygon fill="#74a9d3" points="127.4,468.3 119.8,474.6 115.2,469.5 111.4,463.8 119.5,458.3"/>
<polygon fill="#8fc0de" points="230.5,383.5 210.5,397.2 209.9,396.3 209.3,395.3 230.5,383.5"/>
<polygon fill="#4a76b8" points="211.0,396.9 197.6,406.1 196.4,404.6 195.5,402.9 209.8,395.0"/>
<polygon fill="#c6e4f0" points="198.1,405.8 191.1,410.6 189.7,408.8 188.6,406.8 196.0,402.7"/>
<polygon fill="#f0f3e2" points="191.6,410.2 178.1,419.5 176.3,417.1 174.8,414.4 189.1,406.5"/>
<polygon fill="#74a9d3" points="178.6,419.2 171.6,423.9 169.6,421.2 167.9,418.3 175.3,414.2"/>
<polygon fill="#5d90c7" points="172.1,423.6 165.1,428.4 162.9,425.4 161.0,422.1 168.4,418.0"/>
<polygon fill="#3d54a9" points="165.6,428.1 152.2,437.3 149.4,433.7 147.2,429.8 161.5,421.8"/>
<polygon fill="#abd5e9" points="152.6,437.0 126.2,455.1 122.6,450.3 119.6,445.1 147.7,429.5"/>
<polygon fill="#8fc0de" points="126.7,454.8 119.7,459.6 115.9,454.5 112.7,448.9 120.1,444.8"/>
<polygon fill="#74a9d3" points="120.2,459.3 112.1,464.8 108.0,459.4 104.6,453.4 113.2,448.6"/>
<polygon fill="#8fc0de" points="230.5,383.5 216.3,391.6 215.8,390.9 215.5,390.2 230.5,383.5"/>
<polygon fill="#74a9d3" points="216.8,391.3 209.4,395.5 208.8,394.5 208.3,393.4 216.1,390.0"/>
<polygon fill="#3d54a9" points="209.9,395.2 195.7,403.2 194.7,401.6 193.9,399.9 208.9,393.2"/>
<polygon fill="#5d90c7" points="196.2,403.0 188.8,407.1 187.6,405.2 186.7,403.1 194.4,399.7"/>
<polygon fill="#abd5e9" points="189.3,406.8 181.9,411.0 180.5,408.8 179.5,406.4 187.2,402.9"/>
<polygon fill="#c6e4f0" points="182.5,410.7 175.1,414.9 173.5,412.4 172.2,409.6 180.0,406.1"/>
<polygon fill="#abd5e9" points="175.6,414.6 168.2,418.8 166.4,415.9 165.0,412.8 172.8,409.4"/>
<polygon fill="#74a9d3" points="168.7,418.5 161.4,422.7 159.4,419.5 157.8,416.1 165.6,412.6"/>
<polygon fill="#4a76b8" points="161.9,422.4 147.6,430.5 145.2,426.6 143.4,422.5 158.4,415.8"/>
<polygon fill="#abd5e9" points="148.1,430.2 120.2,446.0 117.0,440.9 114.5,435.5 143.9,422.3"/>
<polygon fill="#8fc0de" points="120.7,445.7 113.3,449.9 109.9,444.5 107.3,438.7 115.1,435.2"/>
<polygon fill="#74a9d3" points="113.8,449.6 105.2,454.5 101.6,448.7 98.8,442.5 107.9,438.5"/>
<polygon fill="#8fc0de" points="230.5,383.5 215.6,390.3 215.2,389.6 215.0,388.9 230.5,383.5"/>
<polygon fill="#74a9d3" points="216.1,390.1 208.4,393.6 207.9,392.6 207.5,391.5 215.5,388.7"/>
<polygon fill="#3d54a9" points="208.9,393.4 194.0,400.2 193.2,398.5 192.5,396.7 208.1,391.3"/>
<polygon fill="#5d90c7" points="194.6,400.0 186.8,403.5 185.8,401.5 185.1,399.4 193.1,396.5"/>
<polygon fill="#abd5e9" points="187.4,403.3 179.7,406.8 178.5,404.5 177.6,402.0 185.6,399.2"/>
<polygon fill="#c6e4f0" points="180.2,406.6 172.5,410.1 171.1,407.4 170.1,404.6 178.2,401.8"/>
<polygon fill="#dff0f6" points="173.0,409.9 165.3,413.4 163.8,410.4 162.6,407.2 170.7,404.4"/>
<polygon fill="#abd5e9" points="165.8,413.1 158.1,416.7 156.4,413.3 155.2,409.8 163.2,407.0"/>
<polygon fill="#5d90c7" points="158.6,416.4 143.7,423.3 141.7,419.3 140.2,415.0 155.7,409.6"/>
<polygon fill="#8fc0de" points="144.3,423.0 115.0,436.5 112.3,431.1 110.3,425.4 140.8,414.8"/>
<polygon fill="#74a9d3" points="115.5,436.2 107.8,439.7 104.9,434.1 102.8,428.1 110.9,425.3"/>
<polygon fill="#5d90c7" points="108.3,439.5 99.4,443.6 96.3,437.5 94.0,431.1 103.4,427.9"/>
<polygon fill="#8fc0de" points="230.5,383.5 215.0,389.0 214.7,388.3 214.6,387.6 230.5,383.5"/>
<polygon fill="#74a9d3" points="215.6,388.8 207.6,391.7 207.2,390.7 206.9,389.5 215.1,387.4"/>
<polygon fill="#3d54a9" points="208.1,391.5 200.1,394.4 199.6,393.0 199.2,391.5 207.5,389.4"/>
<polygon fill="#4a76b8" points="200.7,394.2 192.7,397.1 192.0,395.3 191.5,393.5 199.8,391.4"/>
<polygon fill="#3d54a9" points="193.2,396.9 185.2,399.7 184.4,397.6 183.8,395.4 192.1,393.3"/>
<polygon fill="#5d90c7" points="185.8,399.5 177.8,402.4 176.8,400.0 176.1,397.4 184.4,395.3"/>
<polygon fill="#c6e4f0" points="178.3,402.2 170.3,405.1 169.2,402.3 168.5,399.4 176.7,397.3"/>
<polygon fill="#f0f3e2" points="170.9,404.9 155.4,410.4 154.0,406.9 153.1,403.3 169.0,399.2"/>
<polygon fill="#c6e4f0" points="156.0,410.2 147.9,413.1 146.4,409.3 145.4,405.3 153.7,403.2"/>
<polygon fill="#abd5e9" points="148.5,412.9 118.1,423.8 116.0,418.6 114.7,413.1 146.0,405.1"/>
<polygon fill="#8fc0de" points="118.7,423.6 103.2,429.1 100.9,423.2 99.3,417.1 115.3,413.0"/>
<polygon fill="#74a9d3" points="103.8,428.9 94.5,432.3 91.9,426.0 90.3,419.4 99.9,416.9"/>
<polygon fill="#8fc0de" points="230.5,383.5 214.6,387.7 214.4,387.0 214.2,386.2 230.5,383.5"/>
<polygon fill="#74a9d3" points="215.2,387.6 206.9,389.7 206.6,388.7 206.4,387.5 214.8,386.1"/>
<polygon fill="#3d54a9" points="207.5,389.6 199.3,391.8 198.8,390.3 198.6,388.8 207.0,387.4"/>
<polygon fill="#4a76b8" points="199.8,391.6 191.6,393.8 191.1,392.0 190.8,390.1 199.2,388.7"/>
<polygon fill="#3d54a9" points="192.2,393.7 183.9,395.8 183.3,393.7 182.9,391.4 191.4,390.0"/>
<polygon fill="#5d90c7" points="184.5,395.7 168.6,399.9 167.7,397.0 167.3,394.1 183.5,391.3"/>
<polygon fill="#4a76b8" points="169.2,399.7 160.9,401.9 160.0,398.7 159.4,395.4 167.9,394.0"/>
<polygon fill="#c6e4f0" points="161.5,401.8 122.6,412.1 121.1,407.1 120.3,401.9 160.0,395.3"/>
<polygon fill="#abd5e9" points="123.2,411.9 115.0,414.1 113.3,408.7 112.5,403.2 120.9,401.8"/>
<polygon fill="#8fc0de" points="115.5,414.0 99.6,418.2 97.8,412.1 96.8,405.8 113.1,403.1"/>
<polygon fill="#74a9d3" points="100.2,418.0 90.6,420.6 88.7,414.1 87.6,407.4 97.4,405.7"/>
<polygon fill="#8fc0de" points="230.5,383.5 214.3,386.4 214.1,385.6 214.1,384.8 230.5,383.5"/>
<polygon fill="#74a9d3" points="214.9,386.2 206.5,387.7 206.2,386.6 206.2,385.5 214.7,384.8"/>
<polygon fill="#5d90c7" points="207.0,387.6 198.6,389.1 198.3,387.6 198.2,386.1 206.7,385.4"/>
<polygon fill="#4a76b8" points="199.2,389.0 190.8,390.5 190.4,388.6 190.3,386.7 198.8,386.1"/>
<polygon fill="#3d54a9" points="191.4,390.4 183.0,391.8 182.6,389.6 182.4,387.4 190.9,386.7"/>
<polygon fill="#74a9d3" points="183.6,391.7 167.4,394.6 166.8,391.7 166.6,388.7 183.0,387.3"/>
<polygon fill="#5d90c7" points="168.0,394.5 159.6,396.0 158.9,392.7 158.6,389.3 167.2,388.6"/>
<polygon fill="#c6e4f0" points="160.1,395.9 151.7,397.3 151.0,393.7 150.7,389.9 159.2,389.3"/>
<polygon fill="#dff0f6" points="152.3,397.2 143.9,398.7 143.1,394.7 142.8,390.6 151.3,389.9"/>
<polygon fill="#c6e4f0" points="144.5,398.6 136.1,400.1 135.2,395.7 134.9,391.2 143.4,390.5"/>
<polygon fill="#8fc0de" points="136.7,400.0 128.3,401.5 127.3,396.7 127.0,391.9 135.5,391.2"/>
<polygon fill="#abd5e9" points="128.9,401.4 120.5,402.8 119.4,397.7 119.1,392.5 127.6,391.8"/>
<polygon fill="#8fc0de" points="121.1,402.7 112.6,404.2 111.5,398.7 111.1,393.1 119.7,392.5"/>
<polygon fill="#74a9d3" points="113.2,404.1 104.8,405.6 103.6,399.7 103.2,393.8 111.7,393.1"/>
<polygon fill="#5d90c7" points="105.4,405.5 87.8,408.6 86.5,401.9 86.0,395.2 103.8,393.7"/>
<polygon fill="#8fc0de" points="230.5,383.5 214.1,385.0 214.0,384.2 214.0,383.4 230.5,383.5"/>
<polygon fill="#74a9d3" points="214.7,384.9 206.2,385.7 206.0,384.5 206.1,383.4 214.6,383.4"/>
<polygon fill="#5d90c7" points="206.8,385.6 198.3,386.4 198.1,384.9 198.1,383.4 206.7,383.4"/>
<polygon fill="#4a76b8" points="198.9,386.3 190.3,387.1 190.1,385.2 190.2,383.3 198.7,383.4"/>
<polygon fill="#3d54a9" points="190.9,387.0 182.4,387.8 182.2,385.6 182.2,383.3 190.8,383.3"/>
<polygon fill="#74a9d3" points="183.0,387.7 174.5,388.5 174.2,385.9 174.3,383.3 182.8,383.3"/>
<polygon fill="#8fc0de" points="175.1,388.4 166.6,389.2 166.3,386.2 166.3,383.2 174.9,383.3"/>
<polygon fill="#abd5e9" points="167.2,389.2 158.7,389.9 158.3,386.6 158.4,383.2 166.9,383.2"/>
<polygon fill="#c6e4f0" points="159.3,389.9 142.9,391.3 142.4,387.2 142.5,383.1 159.0,383.2"/>
<polygon fill="#abd5e9" points="143.5,391.3 135.0,392.0 134.5,387.6 134.6,383.1 143.1,383.1"/>
<polygon fill="#74a9d3" points="135.6,392.0 127.1,392.7 126.5,387.9 126.6,383.1 135.2,383.1"/>
<polygon fill="#5d90c7" points="127.7,392.7 119.1,393.4 118.6,388.3 118.7,383.0 127.2,383.1"/>
<polygon fill="#4a76b8" points="119.7,393.4 111.2,394.2 110.6,388.6 110.7,383.0 119.3,383.0"/>
<polygon fill="#5d90c7" points="111.8,394.1 86.1,396.4 85.3,389.7 85.5,382.9 111.3,383.0"/>
<polygon fill="#dff0f6" points="230.5,383.5 222.0,383.5 221.9,383.1 222.0,382.7 230.5,383.5"/>
<polygon fill="#c6e4f0" points="222.6,383.5 214.0,383.6 214.0,382.8 214.1,382.0 222.6,382.8"/>
<polygon fill="#8fc0de" points="214.6,383.6 206.1,383.6 206.0,382.5 206.2,381.3 214.7,382.1"/>
<polygon fill="#74a9d3" points="206.7,383.6 190.2,383.7 190.1,381.8 190.3,379.9 206.8,381.4"/>
<polygon fill="#5d90c7" points="190.8,383.7 174.3,383.7 174.2,381.1 174.5,378.5 190.9,380.0"/>
<polygon fill="#74a9d3" points="174.9,383.7 158.4,383.8 158.3,380.4 158.7,377.1 175.1,378.6"/>
<polygon fill="#8fc0de" points="159.0,383.8 150.5,383.8 150.4,380.1 150.8,376.4 159.3,377.1"/>
<polygon fill="#5d90c7" points="151.1,383.8 142.5,383.9 142.4,379.8 142.9,375.7 151.4,376.4"/>
<polygon fill="#4a76b8" points="143.1,383.9 134.6,383.9 134.5,379.4 135.0,375.0 143.5,375.7"/>
<polygon fill="#3d54a9" points="135.2,383.9 126.6,383.9 126.5,379.1 127.1,374.3 135.6,375.0"/>
<polygon fill="#4a76b8" points="127.2,383.9 118.7,384.0 118.6,378.7 119.1,373.6 127.7,374.3"/>
<polygon fill="#74a9d3" points="119.3,384.0 102.8,384.0 102.7,378.1 103.3,372.1 119.7,373.6"/>
<polygon fill="#8fc0de" points="103.4,384.0 85.5,384.1 85.3,377.3 86.1,370.6 103.9,372.2"/>
<polygon fill="#dff0f6" points="230.5,383.5 222.0,382.8 222.0,382.4 222.1,382.0 230.5,383.5"/>
<polygon fill="#c6e4f0" points="222.6,382.9 214.1,382.2 214.1,381.4 214.3,380.6 222.7,382.1"/>
<polygon fill="#8fc0de" points="214.7,382.2 206.2,381.5 206.2,380.4 206.5,379.3 214.9,380.8"/>
<polygon fill="#74a9d3" points="206.7,381.6 190.3,380.3 190.4,378.4 190.8,376.5 207.0,379.4"/>
<polygon fill="#5d90c7" points="190.9,380.3 174.5,379.0 174.7,376.4 175.2,373.8 191.4,376.6"/>
<polygon fill="#74a9d3" points="175.1,379.0 166.6,378.3 166.8,375.3 167.4,372.4 175.8,373.9"/>
<polygon fill="#8fc0de" points="167.2,378.4 158.6,377.7 158.9,374.3 159.6,371.0 168.0,372.5"/>
<polygon fill="#5d90c7" points="159.2,377.7 150.7,377.1 151.0,373.3 151.7,369.7 160.1,371.1"/>
<polygon fill="#4a76b8" points="151.3,377.1 142.8,376.4 143.1,372.3 143.9,368.3 152.3,369.8"/>
<polygon fill="#5d90c7" points="143.4,376.5 127.0,375.1 127.3,370.3 128.3,365.5 144.5,368.4"/>
<polygon fill="#74a9d3" points="127.6,375.2 119.1,374.5 119.4,369.3 120.5,364.2 128.9,365.6"/>
<polygon fill="#8fc0de" points="119.7,374.5 86.0,371.8 86.5,365.1 87.8,358.4 121.1,364.3"/>
<polygon fill="#dff0f6" points="230.5,383.5 214.2,380.8 214.4,380.0 214.6,379.3 230.5,383.5"/>
<polygon fill="#8fc0de" points="214.8,380.9 206.4,379.5 206.6,378.3 206.9,377.3 215.2,379.4"/>
<polygon fill="#74a9d3" points="207.0,379.6 198.6,378.2 198.8,376.7 199.3,375.2 207.5,377.4"/>
<polygon fill="#5d90c7" points="199.2,378.3 190.8,376.9 191.1,375.0 191.6,373.2 199.8,375.4"/>
<polygon fill="#8fc0de" points="191.4,377.0 182.9,375.6 183.3,373.3 183.9,371.2 192.2,373.3"/>
<polygon fill="#c6e4f0" points="183.5,375.7 175.1,374.2 175.5,371.7 176.3,369.1 184.5,371.3"/>
<polygon fill="#dff0f6" points="175.7,374.3 167.3,372.9 167.7,370.0 168.6,367.1 176.8,369.3"/>
<polygon fill="#c6e4f0" points="167.9,373.0 159.4,371.6 160.0,368.3 160.9,365.1 169.2,367.3"/>
<polygon fill="#74a9d3" points="160.0,371.7 151.6,370.3 152.2,366.6 153.3,363.0 161.5,365.2"/>
<polygon fill="#5d90c7" points="152.2,370.4 128.1,366.4 128.9,361.6 130.3,356.9 153.9,363.2"/>
<polygon fill="#74a9d3" points="128.7,366.5 120.3,365.1 121.1,359.9 122.6,354.9 130.9,357.1"/>
<polygon fill="#5d90c7" points="120.9,365.2 96.8,361.2 97.8,354.9 99.6,348.8 123.2,355.1"/>
<polygon fill="#4a76b8" points="97.4,361.3 87.6,359.6 88.7,352.9 90.6,346.4 100.2,349.0"/>
<polygon fill="#dff0f6" points="230.5,383.5 214.6,379.4 214.7,378.7 215.0,378.0 230.5,383.5"/>
<polygon fill="#8fc0de" points="215.1,379.6 206.9,377.5 207.2,376.3 207.6,375.3 215.6,378.2"/>
<polygon fill="#74a9d3" points="207.5,377.6 199.2,375.5 199.6,374.0 200.1,372.6 208.1,375.5"/>
<polygon fill="#5d90c7" points="199.8,375.6 191.5,373.5 192.0,371.7 192.7,369.9 200.7,372.8"/>
<polygon fill="#8fc0de" points="192.1,373.7 183.8,371.6 184.4,369.4 185.2,367.3 193.2,370.1"/>
<polygon fill="#c6e4f0" points="184.4,371.7 176.1,369.6 176.8,367.0 177.8,364.6 185.8,367.5"/>
<polygon fill="#f8edc4" points="176.7,369.7 168.5,367.6 169.2,364.7 170.3,361.9 178.3,364.8"/>
<polygon fill="#dff0f6" points="169.0,367.8 160.8,365.7 161.6,362.4 162.9,359.2 170.9,362.1"/>
<polygon fill="#8fc0de" points="161.4,365.8 153.1,363.7 154.0,360.1 155.4,356.6 163.4,359.4"/>
<polygon fill="#4a76b8" points="153.7,363.8 145.4,361.7 146.4,357.7 147.9,353.9 156.0,356.8"/>
<polygon fill="#5d90c7" points="146.0,361.9 130.0,357.8 131.2,353.1 133.0,348.6 148.5,354.1"/>
<polygon fill="#4a76b8" points="130.6,357.9 122.4,355.8 123.6,350.7 125.6,345.9 133.6,348.8"/>
<polygon fill="#3d54a9" points="122.9,356.0 90.3,347.6 91.9,341.0 94.5,334.7 126.2,346.1"/>
<polygon fill="#dff0f6" points="230.5,383.5 215.0,378.1 215.2,377.4 215.6,376.7 230.5,383.5"/>
<polygon fill="#74a9d3" points="215.5,378.3 207.5,375.5 207.9,374.4 208.4,373.4 216.1,376.9"/>
<polygon fill="#5d90c7" points="208.1,375.7 192.5,370.3 193.2,368.5 194.0,366.8 208.9,373.6"/>
<polygon fill="#abd5e9" points="193.1,370.5 185.1,367.6 185.8,365.5 186.8,363.5 194.6,367.0"/>
<polygon fill="#f0f3e2" points="185.6,367.8 170.1,362.4 171.1,359.6 172.5,356.9 187.4,363.7"/>
<polygon fill="#c6e4f0" points="170.7,362.6 162.6,359.8 163.8,356.6 165.3,353.6 173.0,357.1"/>
<polygon fill="#5d90c7" points="163.2,360.0 155.2,357.2 156.4,353.7 158.1,350.3 165.8,353.9"/>
<polygon fill="#3d54a9" points="155.7,357.4 147.7,354.6 149.0,350.7 150.9,347.0 158.6,350.6"/>
<polygon fill="#4a76b8" points="148.3,354.8 140.2,352.0 141.7,347.7 143.7,343.7 151.5,347.3"/>
<polygon fill="#74a9d3" points="140.8,352.2 132.7,349.4 134.3,344.8 136.5,340.4 144.3,344.0"/>
<polygon fill="#8fc0de" points="133.3,349.6 117.8,344.2 119.6,338.9 122.2,333.8 137.1,340.7"/>
<polygon fill="#abd5e9" points="118.3,344.4 110.3,341.6 112.3,335.9 115.0,330.5 122.7,334.1"/>
<polygon fill="#c6e4f0" points="110.9,341.7 94.0,335.9 96.3,329.5 99.4,323.4 115.5,330.8"/>
<polygon fill="#dff0f6" points="230.5,383.5 215.5,376.8 215.8,376.1 216.3,375.4 230.5,383.5"/>
<polygon fill="#74a9d3" points="216.1,377.0 208.3,373.6 208.8,372.5 209.4,371.5 216.8,375.7"/>
<polygon fill="#5d90c7" points="208.9,373.8 193.9,367.1 194.7,365.4 195.7,363.8 209.9,371.8"/>
<polygon fill="#abd5e9" points="194.4,367.3 186.7,363.9 187.6,361.8 188.8,359.9 196.2,364.0"/>
<polygon fill="#f0f3e2" points="187.2,364.1 179.5,360.6 180.5,358.2 181.9,356.0 189.3,360.2"/>
<polygon fill="#abd5e9" points="180.0,360.9 165.0,354.2 166.4,351.1 168.2,348.2 182.5,356.3"/>
<polygon fill="#74a9d3" points="165.6,354.4 150.6,347.7 152.3,343.9 154.5,340.4 168.7,348.5"/>
<polygon fill="#8fc0de" points="151.1,347.9 143.4,344.5 145.2,340.4 147.6,336.5 155.0,340.7"/>
<polygon fill="#c6e4f0" points="143.9,344.7 128.9,338.0 131.1,333.2 133.9,328.7 148.1,336.8"/>
<polygon fill="#74a9d3" points="129.5,338.2 121.7,334.8 124.1,329.6 127.0,324.9 134.4,329.0"/>
<polygon fill="#c6e4f0" points="122.3,335.0 98.8,324.5 101.6,318.3 105.2,312.5 127.6,325.1"/>
<polygon fill="#dff0f6" points="230.5,383.5 223.1,379.4 223.3,379.0 223.5,378.7 230.5,383.5"/>
<polygon fill="#c6e4f0" points="223.6,379.7 216.2,375.5 216.6,374.9 217.0,374.2 224.0,379.0"/>
<polygon fill="#4a76b8" points="216.7,375.8 209.3,371.7 209.9,370.7 210.5,369.8 217.5,374.6"/>
<polygon fill="#5d90c7" points="209.8,372.0 202.4,367.9 203.1,366.6 204.1,365.3 211.0,370.1"/>
<polygon fill="#c6e4f0" points="202.9,368.2 195.5,364.1 196.4,362.4 197.6,360.9 204.5,365.7"/>
<polygon fill="#8fc0de" points="196.0,364.3 188.6,360.2 189.7,358.2 191.1,356.4 198.1,361.2"/>
<polygon fill="#74a9d3" points="189.1,360.5 174.8,352.6 176.3,349.9 178.1,347.5 191.6,356.8"/>
<polygon fill="#8fc0de" points="175.3,352.8 167.9,348.7 169.6,345.8 171.6,343.1 178.6,347.8"/>
<polygon fill="#74a9d3" points="168.4,349.0 147.2,337.2 149.4,333.3 152.2,329.7 172.1,343.4"/>
<polygon fill="#5d90c7" points="147.7,337.5 140.3,333.4 142.7,329.1 145.7,325.2 152.6,330.0"/>
<polygon fill="#4a76b8" points="140.8,333.7 133.4,329.6 136.0,325.0 139.2,320.8 146.2,325.6"/>
<polygon fill="#3d54a9" points="133.9,329.9 119.6,321.9 122.6,316.7 126.2,311.9 139.7,321.1"/>
<polygon fill="#4a76b8" points="120.1,322.2 112.7,318.1 115.9,312.5 119.7,307.4 126.7,312.2"/>
<polygon fill="#5d90c7" points="113.2,318.4 104.6,313.6 108.0,307.6 112.1,302.2 120.2,307.7"/>
<polygon fill="#dff0f6" points="230.5,383.5 223.5,378.8 223.7,378.4 224.0,378.1 230.5,383.5"/>
<polygon fill="#c6e4f0" points="224.0,379.1 217.0,374.4 217.4,373.7 217.9,373.1 224.4,378.5"/>
<polygon fill="#4a76b8" points="217.4,374.7 210.4,370.0 211.1,369.0 211.9,368.2 218.4,373.5"/>
<polygon fill="#5d90c7" points="210.9,370.3 203.9,365.6 204.8,364.3 205.8,363.2 212.3,368.5"/>
<polygon fill="#c6e4f0" points="204.4,365.9 197.4,361.2 198.4,359.6 199.7,358.2 206.2,363.5"/>
<polygon fill="#8fc0de" points="197.9,361.5 190.8,356.8 192.1,354.9 193.7,353.2 200.2,358.6"/>
<polygon fill="#74a9d3" points="191.3,357.1 171.3,343.6 173.2,340.8 175.5,338.2 194.1,353.6"/>
<polygon fill="#5d90c7" points="171.8,343.9 164.7,339.2 166.9,336.0 169.4,333.2 175.9,338.6"/>
<polygon fill="#4a76b8" points="165.2,339.5 158.2,334.7 160.6,331.3 163.3,328.2 169.9,333.6"/>
<polygon fill="#5d90c7" points="158.7,335.1 145.1,325.9 147.9,321.9 151.2,318.3 163.8,328.6"/>
<polygon fill="#74a9d3" points="145.6,326.3 138.6,321.5 141.6,317.2 145.2,313.3 151.7,318.6"/>
<polygon fill="#abd5e9" points="139.1,321.9 132.1,317.1 135.3,312.5 139.1,308.3 145.6,313.6"/>
<polygon fill="#c6e4f0" points="132.6,317.5 125.6,312.7 129.0,307.8 133.0,303.3 139.5,308.7"/>
<polygon fill="#dff0f6" points="126.1,313.1 119.0,308.3 122.7,303.1 127.0,298.3 133.5,303.7"/>
<polygon fill="#f8edc4" points="119.5,308.7 111.4,303.2 115.2,297.5 119.8,292.4 127.4,298.7"/>
<polygon fill="#dff0f6" points="230.5,383.5 223.9,378.2 224.2,377.9 224.5,377.6 230.5,383.5"/>
<polygon fill="#abd5e9" points="224.4,378.6 217.8,373.3 218.3,372.7 218.9,372.1 224.9,378.0"/>
<polygon fill="#3d54a9" points="218.3,373.6 211.7,368.3 212.4,367.4 213.3,366.6 219.3,372.5"/>
<polygon fill="#c6e4f0" points="212.2,368.7 205.6,363.4 206.6,362.2 207.7,361.1 213.7,367.0"/>
<polygon fill="#dff0f6" points="206.1,363.7 199.5,358.4 200.7,357.0 202.1,355.7 208.1,361.6"/>
<polygon fill="#5d90c7" points="200.0,358.8 193.4,353.5 194.8,351.7 196.5,350.2 202.5,356.1"/>
<polygon fill="#3d54a9" points="193.9,353.9 169.0,333.7 171.4,330.8 174.1,328.2 196.9,350.6"/>
<polygon fill="#4a76b8" points="169.4,334.1 156.7,323.9 159.6,320.4 163.0,317.3 174.6,328.7"/>
<polygon fill="#5d90c7" points="157.2,324.2 150.6,318.9 153.8,315.1 157.4,311.8 163.4,317.7"/>
<polygon fill="#8fc0de" points="151.1,319.3 144.5,314.0 147.9,309.9 151.8,306.3 157.8,312.2"/>
<polygon fill="#c6e4f0" points="145.0,314.4 138.4,309.1 142.0,304.7 146.2,300.8 152.2,306.7"/>
<polygon fill="#dff0f6" points="138.9,309.4 132.3,304.1 136.2,299.5 140.6,295.3 146.6,301.2"/>
<polygon fill="#f0f3e2" points="132.8,304.5 126.2,299.2 130.3,294.2 135.0,289.9 141.0,295.8"/>
<polygon fill="#8fc0de" points="126.7,299.6 119.0,293.4 123.4,288.1 128.4,283.4 135.4,290.3"/>
<polygon fill="#dff0f6" points="230.5,383.5 224.4,377.7 224.7,377.4 225.0,377.1 230.5,383.5"/>
<polygon fill="#abd5e9" points="224.9,378.1 218.8,372.2 219.3,371.7 220.0,371.2 225.4,377.6"/>
<polygon fill="#3d54a9" points="219.2,372.6 213.1,366.8 214.0,366.0 214.9,365.2 220.3,371.6"/>
<polygon fill="#c6e4f0" points="213.6,367.2 207.5,361.3 208.6,360.2 209.8,359.3 215.3,365.7"/>
<polygon fill="#dff0f6" points="207.9,361.8 201.9,355.9 203.2,354.5 204.7,353.4 210.2,359.8"/>
<polygon fill="#5d90c7" points="202.3,356.3 196.2,350.5 197.8,348.8 199.6,347.4 205.1,353.8"/>
<polygon fill="#3d54a9" points="196.6,350.9 156.7,312.4 160.2,308.9 164.1,305.9 200.0,347.9"/>
<polygon fill="#4a76b8" points="157.2,312.8 134.2,290.7 138.7,286.1 143.8,282.1 164.5,306.3"/>
<polygon fill="#abd5e9" points="134.6,291.1 127.5,284.3 132.3,279.4 137.8,275.1 144.1,282.6"/>
<polygon fill="#dff0f6" points="230.5,383.5 225.0,377.2 225.3,376.9 225.6,376.7 230.5,383.5"/>
<polygon fill="#8fc0de" points="225.4,377.6 219.8,371.3 220.4,370.8 221.1,370.3 226.0,377.2"/>
<polygon fill="#4a76b8" points="220.2,371.7 214.7,365.4 215.6,364.6 216.6,364.0 221.4,370.8"/>
<polygon fill="#8fc0de" points="215.1,365.8 209.6,359.5 210.8,358.5 212.0,357.6 216.9,364.5"/>
<polygon fill="#abd5e9" points="210.0,359.9 204.4,353.6 205.9,352.3 207.5,351.3 212.4,358.1"/>
<polygon fill="#8fc0de" points="204.8,354.0 199.3,347.7 201.1,346.2 203.0,345.0 207.9,351.8"/>
<polygon fill="#5d90c7" points="199.7,348.1 189.0,335.9 191.4,333.9 193.9,332.3 203.3,345.4"/>
<polygon fill="#8fc0de" points="189.4,336.3 183.9,330.0 186.5,327.8 189.4,325.9 194.3,332.7"/>
<polygon fill="#5d90c7" points="184.3,330.5 178.8,324.1 181.7,321.6 184.9,319.6 189.7,326.4"/>
<polygon fill="#4a76b8" points="179.2,324.6 173.6,318.2 176.8,315.5 180.3,313.2 185.2,320.1"/>
<polygon fill="#5d90c7" points="174.0,318.7 168.5,312.3 172.0,309.4 175.8,306.9 180.7,313.7"/>
<polygon fill="#8fc0de" points="168.9,312.8 163.4,306.4 167.1,303.2 171.3,300.5 176.2,307.4"/>
<polygon fill="#c6e4f0" points="163.8,306.9 158.2,300.5 162.3,297.1 166.8,294.2 171.6,301.0"/>
<polygon fill="#f0f3e2" points="158.6,301.0 142.8,282.9 147.8,278.7 153.2,275.2 167.1,294.7"/>
<polygon fill="#f8edc4" points="143.2,283.3 136.8,275.9 142.1,271.5 147.9,267.7 153.5,275.6"/>
<polygon fill="#dff0f6" points="230.5,383.5 225.6,376.7 225.9,376.5 226.3,376.3 230.5,383.5"/>
<polygon fill="#8fc0de" points="225.9,377.2 221.0,370.4 221.6,370.0 222.3,369.6 226.6,376.8"/>
<polygon fill="#4a76b8" points="221.3,370.9 216.4,364.1 217.3,363.4 218.4,362.9 222.6,370.1"/>
<polygon fill="#8fc0de" points="216.7,364.6 211.8,357.8 213.1,356.9 214.4,356.2 218.7,363.4"/>
<polygon fill="#abd5e9" points="212.2,358.3 207.2,351.5 208.8,350.4 210.5,349.5 214.7,356.7"/>
<polygon fill="#8fc0de" points="207.6,352.0 202.6,345.2 204.5,343.9 206.5,342.8 210.8,350.0"/>
<polygon fill="#5d90c7" points="203.0,345.7 193.5,332.6 196.0,330.8 198.7,329.4 206.8,343.3"/>
<polygon fill="#8fc0de" points="193.8,333.0 188.9,326.3 191.7,324.3 194.7,322.7 199.0,329.9"/>
<polygon fill="#74a9d3" points="189.2,326.7 184.3,320.0 187.4,317.7 190.8,315.9 195.0,323.2"/>
<polygon fill="#3d54a9" points="184.6,320.4 179.7,313.7 183.1,311.2 186.8,309.2 191.1,316.5"/>
<polygon fill="#4a76b8" points="180.1,314.1 175.1,307.3 178.9,304.7 182.9,302.5 187.1,309.8"/>
<polygon fill="#abd5e9" points="175.5,307.8 170.5,301.0 174.6,298.2 179.0,295.8 183.2,303.0"/>
<polygon fill="#c6e4f0" points="170.9,301.5 166.0,294.7 170.3,291.6 175.0,289.1 179.3,296.3"/>
<polygon fill="#f8edc4" points="166.3,295.2 146.8,268.4 152.4,264.4 158.5,261.1 175.3,289.6"/>
<polygon fill="#dff0f6" points="230.5,383.5 226.2,376.3 226.5,376.1 226.9,376.0 230.5,383.5"/>
<polygon fill="#8fc0de" points="226.5,376.8 222.2,369.7 222.9,369.3 223.6,368.9 227.2,376.5"/>
<polygon fill="#5d90c7" points="222.5,370.2 218.2,363.0 219.2,362.4 220.3,361.9 223.8,369.5"/>
<polygon fill="#4a76b8" points="218.5,363.5 214.2,356.3 215.5,355.5 216.9,354.9 220.5,362.5"/>
<polygon fill="#5d90c7" points="214.5,356.8 210.2,349.6 211.8,348.7 213.6,347.9 217.2,355.4"/>
<polygon fill="#abd5e9" points="210.5,350.1 206.2,343.0 208.2,341.8 210.3,340.9 213.9,348.4"/>
<polygon fill="#f0f3e2" points="206.5,343.5 202.2,336.3 204.5,334.9 207.0,333.9 210.5,341.4"/>
<polygon fill="#abd5e9" points="202.5,336.8 198.2,329.6 200.8,328.1 203.6,326.9 207.2,334.4"/>
<polygon fill="#5d90c7" points="198.5,330.1 190.2,316.3 193.5,314.3 197.0,312.8 203.9,327.4"/>
<polygon fill="#74a9d3" points="190.5,316.8 186.2,309.6 189.8,307.5 193.7,305.8 197.2,313.4"/>
<polygon fill="#5d90c7" points="186.5,310.1 182.2,302.9 186.1,300.6 190.3,298.8 193.9,306.4"/>
<polygon fill="#4a76b8" points="182.5,303.5 178.2,296.3 182.4,293.8 187.0,291.8 190.6,299.3"/>
<polygon fill="#5d90c7" points="178.5,296.8 174.2,289.6 178.8,286.9 183.7,284.8 187.3,292.3"/>
<polygon fill="#8fc0de" points="174.5,290.1 170.2,282.9 175.1,280.0 180.4,277.8 183.9,285.3"/>
<polygon fill="#abd5e9" points="170.5,283.4 162.2,269.6 167.7,266.3 173.7,263.8 180.6,278.3"/>
<polygon fill="#8fc0de" points="162.5,270.1 157.5,261.7 163.4,258.2 169.8,255.5 174.0,264.3"/>
<polygon fill="#dff0f6" points="230.5,383.5 226.9,376.0 227.2,375.8 227.6,375.7 230.5,383.5"/>
<polygon fill="#8fc0de" points="227.1,376.5 223.5,369.0 224.2,368.7 224.9,368.4 227.8,376.2"/>
<polygon fill="#5d90c7" points="223.7,369.5 220.1,362.0 221.1,361.5 222.2,361.1 225.1,369.0"/>
<polygon fill="#4a76b8" points="220.3,362.5 216.7,355.0 218.1,354.4 219.6,353.9 222.4,361.7"/>
<polygon fill="#5d90c7" points="216.9,355.6 213.3,348.1 215.0,347.2 216.9,346.6 219.8,354.4"/>
<polygon fill="#abd5e9" points="213.6,348.6 209.9,341.1 212.0,340.1 214.2,339.3 217.1,347.2"/>
<polygon fill="#f0f3e2" points="210.2,341.6 206.5,334.1 208.9,332.9 211.5,332.1 214.4,339.9"/>
<polygon fill="#8fc0de" points="206.8,334.6 203.1,327.1 205.9,325.8 208.8,324.8 211.7,332.6"/>
<polygon fill="#4a76b8" points="203.4,327.6 199.7,320.1 202.9,318.6 206.1,317.5 209.0,325.4"/>
<polygon fill="#74a9d3" points="200.0,320.6 196.4,313.1 199.8,311.5 203.5,310.3 206.3,318.1"/>
<polygon fill="#c6e4f0" points="196.6,313.7 193.0,306.1 196.8,304.3 200.8,303.0 203.7,310.8"/>
<polygon fill="#8fc0de" points="193.2,306.7 189.6,299.2 193.7,297.2 198.1,295.7 201.0,303.6"/>
<polygon fill="#74a9d3" points="189.8,299.7 186.2,292.2 190.7,290.0 195.4,288.5 198.3,296.3"/>
<polygon fill="#4a76b8" points="186.4,292.7 182.8,285.2 187.6,282.9 192.7,281.2 195.6,289.0"/>
<polygon fill="#3d54a9" points="183.1,285.7 179.4,278.2 184.6,275.7 190.0,273.9 192.9,281.7"/>
<polygon fill="#4a76b8" points="179.7,278.7 176.0,271.2 181.5,268.6 187.3,266.7 190.2,274.5"/>
<polygon fill="#5d90c7" points="176.3,271.7 168.6,256.0 174.9,253.0 181.5,250.8 187.5,267.2"/>
<polygon fill="#dff0f6" points="230.5,383.5 227.5,375.7 227.9,375.6 228.3,375.5 230.5,383.5"/>
<polygon fill="#8fc0de" points="227.8,376.3 222.0,361.2 223.1,360.8 224.3,360.5 228.5,376.0"/>
<polygon fill="#74a9d3" points="222.3,361.8 219.3,354.0 220.7,353.4 222.3,353.1 224.4,361.1"/>
<polygon fill="#8fc0de" points="219.5,354.5 216.5,346.7 218.4,346.0 220.2,345.6 222.4,353.6"/>
<polygon fill="#f8edc4" points="216.8,347.3 213.8,339.5 216.0,338.7 218.2,338.1 220.4,346.2"/>
<polygon fill="#f0f3e2" points="214.0,340.0 211.0,332.2 213.6,331.3 216.2,330.7 218.4,338.7"/>
<polygon fill="#8fc0de" points="211.3,332.8 208.3,325.0 211.2,323.9 214.2,323.2 216.3,331.2"/>
<polygon fill="#4a76b8" points="208.5,325.5 205.5,317.7 208.8,316.5 212.1,315.7 214.3,323.8"/>
<polygon fill="#8fc0de" points="205.8,318.3 202.8,310.5 206.4,309.1 210.1,308.3 212.3,316.3"/>
<polygon fill="#abd5e9" points="203.0,311.1 200.0,303.3 204.0,301.8 208.1,300.8 210.3,308.8"/>
<polygon fill="#8fc0de" points="200.3,303.8 197.3,296.0 201.6,294.4 206.1,293.3 208.3,301.4"/>
<polygon fill="#74a9d3" points="197.5,296.6 186.3,267.0 192.0,264.9 198.0,263.5 206.2,293.9"/>
<polygon fill="#8fc0de" points="186.5,267.6 183.5,259.8 189.6,257.5 196.0,256.0 198.1,264.0"/>
<polygon fill="#abd5e9" points="183.8,260.3 180.3,251.3 186.8,248.8 193.6,247.2 196.1,256.5"/>
<polygon fill="#dff0f6" points="230.5,383.5 228.3,375.5 228.6,375.4 229.1,375.3 230.5,383.5"/>
<polygon fill="#8fc0de" points="228.4,376.0 224.1,360.6 225.2,360.3 226.4,360.1 229.2,375.9"/>
<polygon fill="#74a9d3" points="224.2,361.1 222.0,353.1 223.5,352.7 225.0,352.5 226.5,360.7"/>
<polygon fill="#8fc0de" points="222.1,353.7 219.9,345.7 221.8,345.2 223.7,344.9 225.1,353.1"/>
<polygon fill="#f8edc4" points="220.1,346.2 217.8,338.2 220.0,337.6 222.3,337.3 223.8,345.4"/>
<polygon fill="#f0f3e2" points="218.0,338.8 215.7,330.8 218.3,330.0 221.0,329.7 222.4,337.8"/>
<polygon fill="#74a9d3" points="215.9,331.3 213.6,323.3 216.6,322.5 219.6,322.0 221.1,330.2"/>
<polygon fill="#8fc0de" points="213.8,323.9 209.4,308.4 213.1,307.4 216.9,306.8 219.7,322.6"/>
<polygon fill="#5d90c7" points="209.6,309.0 207.4,301.0 211.4,299.8 215.6,299.2 217.0,307.4"/>
<polygon fill="#3d54a9" points="207.5,301.5 205.3,293.5 209.7,292.3 214.3,291.6 215.7,299.8"/>
<polygon fill="#5d90c7" points="205.4,294.1 201.1,278.6 206.2,277.2 211.6,276.4 214.4,292.2"/>
<polygon fill="#8fc0de" points="201.2,279.2 196.9,263.7 202.8,262.1 208.9,261.2 211.7,277.0"/>
<polygon fill="#abd5e9" points="197.1,264.3 192.4,247.5 199.1,245.6 205.9,244.6 209.0,261.7"/>
<polygon fill="#dff0f6" points="230.5,383.5 229.0,375.3 229.4,375.2 229.8,375.2 230.5,383.5"/>
<polygon fill="#8fc0de" points="229.1,375.9 223.3,344.9 225.2,344.6 227.2,344.4 229.8,375.8"/>
<polygon fill="#abd5e9" points="223.4,345.5 221.9,337.3 224.2,336.9 226.5,336.7 227.2,345.0"/>
<polygon fill="#c6e4f0" points="222.0,337.9 220.5,329.7 223.1,329.2 225.8,329.0 226.6,337.3"/>
<polygon fill="#8fc0de" points="220.6,330.3 219.1,322.1 222.1,321.5 225.2,321.4 225.9,329.6"/>
<polygon fill="#abd5e9" points="219.2,322.7 217.7,314.5 221.1,313.9 224.5,313.7 225.2,321.9"/>
<polygon fill="#8fc0de" points="217.8,315.1 216.3,306.9 220.0,306.2 223.9,306.0 224.6,314.2"/>
<polygon fill="#5d90c7" points="216.4,307.5 214.8,299.3 219.0,298.5 223.2,298.3 223.9,306.5"/>
<polygon fill="#4a76b8" points="214.9,299.9 213.4,291.7 218.0,290.9 222.6,290.6 223.3,298.8"/>
<polygon fill="#8fc0de" points="213.5,292.3 210.6,276.5 215.9,275.5 221.2,275.2 222.6,291.2"/>
<polygon fill="#abd5e9" points="210.7,277.1 204.7,244.8 211.5,243.5 218.5,243.0 221.3,275.8"/>
<polygon fill="#dff0f6" points="230.5,383.5 229.7,375.2 230.1,375.2 230.5,375.2 230.5,383.5"/>
<polygon fill="#8fc0de" points="229.8,375.8 226.8,344.5 228.7,344.3 230.7,344.3 230.5,375.8"/>
<polygon fill="#abd5e9" points="226.9,345.1 225.4,329.1 228.0,328.8 230.7,328.9 230.7,344.9"/>
<polygon fill="#8fc0de" points="225.4,329.7 224.6,321.4 227.7,321.1 230.8,321.1 230.7,329.4"/>
<polygon fill="#abd5e9" points="224.7,322.0 223.2,306.0 227.0,305.6 230.8,305.7 230.8,321.7"/>
<polygon fill="#8fc0de" points="223.2,306.6 222.4,298.3 226.7,297.9 230.9,298.0 230.8,306.3"/>
<polygon fill="#abd5e9" points="222.5,298.9 221.7,290.6 226.3,290.2 230.9,290.3 230.9,298.6"/>
<polygon fill="#c6e4f0" points="221.8,291.2 219.5,267.6 225.3,267.0 231.0,267.1 230.9,290.8"/>
<polygon fill="#abd5e9" points="219.6,268.2 217.2,243.1 224.2,242.4 231.1,242.6 231.0,267.7"/>
</g>
<g fill="none" stroke="#ffffbf" shape-rendering="auto" stroke-width="1.1">
<ellipse cx="230.5" cy="383.5" rx="143.0" ry="139.0"/>
<ellipse cx="230.5" cy="383.5" rx="95.3" ry="92.7"/>
<ellipse cx="230.5" cy="383.5" rx="47.7" ry="46.3"/>
<path d="M230.5 383.5L230.5 244.5M230.5 383.5L331.6 285.2M230.5 383.5L373.5 383.5M230.5 383.5L331.6 481.8M230.5 383.5L230.5 522.5M230.5 383.5L129.4 481.8M230.5 383.5L87.5 383.5M230.5 383.5L129.4 285.2"/>
</g>
<line x1="230.5" y1="383.5" x2="325" y2="331" stroke="#ffa500" stroke-width="1.2" shape-rendering="auto"/>
<polyline points="324,317 326.5,323 327.8,331 328.6,341 329.2,349" fill="none" stroke="#ffa500" stroke-width="7.6" stroke-linecap="round" stroke-linejoin="round" shape-rendering="auto"/>
<circle cx="323.8" cy="317" r="5" fill="#ffa500" shape-rendering="auto"/>
<circle cx="327" cy="326" r="4.6" fill="#ffa500" shape-rendering="auto"/>
<path d="M206.0 247.5h7M209.5 244.0v7M214.0 251.5h7M217.5 248.0v7M218.0 247.5h7M221.5 244.0v7M267.0 258.5h7M270.5 255.0v7M285.0 260.5h7M288.5 257.0v7M283.0 271.5h7M286.5 268.0v7M244.0 277.5h7M247.5 274.0v7M245.0 288.5h7M248.5 285.0v7M266.0 284.5h7M269.5 281.0v7M313.0 285.5h7M316.5 282.0v7M321.0 306.5h7M324.5 303.0v7M255.0 306.5h7M258.5 303.0v7M257.0 306.5h7M260.5 303.0v7M265.0 323.5h7M268.5 320.0v7M225.0 306.5h7M228.5 303.0v7M213.0 312.5h7M216.5 309.0v7M218.0 310.5h7M221.5 307.0v7M227.0 323.5h7M230.5 320.0v7M294.0 332.5h7M297.5 329.0v7M359.0 342.5h7M362.5 339.0v7M162.0 283.5h7M165.5 280.0v7M153.0 310.5h7M156.5 307.0v7M165.0 308.5h7M168.5 305.0v7M158.0 322.5h7M161.5 319.0v7M189.0 318.5h7M192.5 315.0v7M156.0 334.5h7M159.5 331.0v7M171.0 336.5h7M174.5 333.0v7M123.0 340.5h7M126.5 337.0v7M125.0 340.5h7M128.5 337.0v7M106.0 357.5h7M109.5 354.0v7M110.0 355.5h7M113.5 352.0v7M139.0 353.5h7M142.5 350.0v7M141.0 354.5h7M144.5 351.0v7M152.0 350.5h7M155.5 347.0v7M125.0 364.5h7M128.5 361.0v7M119.0 380.5h7M122.5 377.0v7M134.0 380.5h7M137.5 377.0v7M161.0 382.5h7M164.5 379.0v7M136.0 394.5h7M139.5 391.0v7M171.0 394.5h7M174.5 391.0v7M198.0 399.5h7M201.5 396.0v7M128.0 402.5h7M131.5 399.0v7M151.0 407.5h7M154.5 404.0v7M140.0 422.5h7M143.5 419.0v7M171.0 414.5h7M174.5 411.0v7M166.0 411.5h7M169.5 408.0v7M196.0 415.5h7M199.5 412.0v7M178.0 415.5h7M181.5 412.0v7M172.0 433.5h7M175.5 430.0v7M132.0 442.5h7M135.5 439.0v7M178.0 452.5h7M181.5 449.0v7M137.0 469.5h7M140.5 466.0v7M153.0 476.5h7M156.5 473.0v7M254.0 413.5h7M257.5 410.0v7M309.0 411.5h7M312.5 408.0v7M346.0 405.5h7M349.5 402.0v7M346.0 414.5h7M349.5 411.0v7M284.0 427.5h7M287.5 424.0v7M231.0 430.5h7M234.5 427.0v7M324.0 445.5h7M327.5 442.0v7M330.0 455.5h7M333.5 452.0v7M309.0 465.5h7M312.5 462.0v7M321.0 464.5h7M324.5 461.0v7M316.0 484.5h7M319.5 481.0v7M274.0 452.5h7M277.5 449.0v7M251.0 518.5h7M254.5 515.0v7" stroke="#00ff00" stroke-width="1" fill="none"/>
<text class="sat" x="208.9" y="238.9" text-anchor="middle">G16</text>
<text class="sat" x="216.6" y="242.1" text-anchor="middle">J195</text>
<text class="sat" x="221.0" y="238.2" text-anchor="middle">C40</text>
<text class="sat" x="270.5" y="249.0" text-anchor="middle">C20</text>
<text class="sat" x="287.7" y="251.7" text-anchor="middle">C47</text>
<text class="sat" x="285.5" y="262.2" text-anchor="middle">E14</text>
<text class="sat" x="246.6" y="268.5" text-anchor="middle">C48</text>
<text class="sat" x="248.5" y="279.5" text-anchor="middle">R01</text>
<text class="sat" x="268.6" y="275.8" text-anchor="middle">E27</text>
<text class="sat" x="315.7" y="276.7" text-anchor="middle">G04</text>
<text class="sat" x="323.6" y="298.0" text-anchor="middle">C30</text>
<text class="sat" x="258.0" y="298.0" text-anchor="middle">C04</text>
<text class="sat" x="260.0" y="297.5" text-anchor="middle">C02</text>
<text class="sat" x="267.9" y="314.9" text-anchor="middle">G09</text>
<text class="sat" x="228.3" y="298.0" text-anchor="middle">C01</text>
<text class="sat" x="216.5" y="303.0" text-anchor="middle">C19</text>
<text class="sat" x="221.0" y="301.5" text-anchor="middle">C38</text>
<text class="sat" x="229.8" y="314.9" text-anchor="middle">J196</text>
<text class="sat" x="297.2" y="324.0" text-anchor="middle">J193</text>
<text class="sat" x="362.4" y="333.9" text-anchor="middle">R22</text>
<text class="sat" x="165.4" y="274.3" text-anchor="middle">E13</text>
<text class="sat" x="156.5" y="301.8" text-anchor="middle">G22</text>
<text class="sat" x="168.3" y="299.5" text-anchor="middle">C38</text>
<text class="sat" x="161.0" y="313.1" text-anchor="middle">G06</text>
<text class="sat" x="192.5" y="309.7" text-anchor="middle">J199</text>
<text class="sat" x="158.7" y="325.3" text-anchor="middle">C08</text>
<text class="sat" x="174.5" y="328.0" text-anchor="middle">G14</text>
<text class="sat" x="126.0" y="331.7" text-anchor="middle">J200</text>
<text class="sat" x="127.5" y="331.5" text-anchor="middle">J202</text>
<text class="sat" x="109.3" y="348.2" text-anchor="middle">C60</text>
<text class="sat" x="113.0" y="346.5" text-anchor="middle">G01</text>
<text class="sat" x="141.5" y="344.5" text-anchor="middle">C59</text>
<text class="sat" x="143.5" y="345.0" text-anchor="middle">C56</text>
<text class="sat" x="155.0" y="342.0" text-anchor="middle">E15</text>
<text class="sat" x="127.6" y="355.9" text-anchor="middle">C45</text>
<text class="sat" x="121.5" y="372.0" text-anchor="middle">G26</text>
<text class="sat" x="137.0" y="371.7" text-anchor="middle">E21</text>
<text class="sat" x="164.2" y="373.9" text-anchor="middle">R13</text>
<text class="sat" x="139.3" y="386.0" text-anchor="middle">E26</text>
<text class="sat" x="174.0" y="386.0" text-anchor="middle">C22</text>
<text class="sat" x="201.2" y="390.3" text-anchor="middle">C36</text>
<text class="sat" x="131.3" y="393.0" text-anchor="middle">C09</text>
<text class="sat" x="154.0" y="398.8" text-anchor="middle">C06</text>
<text class="sat" x="142.7" y="413.8" text-anchor="middle">E33</text>
<text class="sat" x="174.5" y="405.7" text-anchor="middle">E05</text>
<text class="sat" x="168.6" y="402.8" text-anchor="middle">C39</text>
<text class="sat" x="198.6" y="406.9" text-anchor="middle">G30</text>
<text class="sat" x="181.0" y="406.5" text-anchor="middle">G18</text>
<text class="sat" x="175.2" y="424.5" text-anchor="middle">R02</text>
<text class="sat" x="135.4" y="433.9" text-anchor="middle">G05</text>
<text class="sat" x="180.8" y="444.0" text-anchor="middle">R03</text>
<text class="sat" x="140.0" y="460.5" text-anchor="middle">G13</text>
<text class="sat" x="156.5" y="467.9" text-anchor="middle">C21</text>
<text class="sat" x="256.7" y="404.3" text-anchor="middle">G07</text>
<text class="sat" x="312.5" y="402.1" text-anchor="middle">G08</text>
<text class="sat" x="348.6" y="396.5" text-anchor="middle">C27</text>
<text class="sat" x="348.6" y="405.3" text-anchor="middle">E30</text>
<text class="sat" x="287.4" y="418.2" text-anchor="middle">C46</text>
<text class="sat" x="234.4" y="421.1" text-anchor="middle">R12</text>
<text class="sat" x="326.7" y="436.5" text-anchor="middle">E03</text>
<text class="sat" x="333.3" y="446.7" text-anchor="middle">R21</text>
<text class="sat" x="312.0" y="456.5" text-anchor="middle">G27</text>
<text class="sat" x="323.5" y="455.5" text-anchor="middle">E11</text>
<text class="sat" x="318.6" y="475.9" text-anchor="middle">C28</text>
<text class="sat" x="277.3" y="443.0" text-anchor="middle">E08</text>
<text class="sat" x="254.2" y="509.6" text-anchor="middle">R20</text>
<clipPath id="wfclip"><polygon points="556.6,424.6 557.6,417.8 558.6,417.0 559.6,416.3 560.6,415.5 561.6,414.5 562.6,414.0 563.6,413.3 564.6,411.8 565.6,411.8 566.6,411.0 567.6,408.8 568.6,409.6 569.6,408.9 570.6,408.2 571.6,406.2 572.6,406.0 573.6,401.5 574.6,397.7 575.6,388.9 576.6,382.3 577.6,377.5 578.6,373.3 579.6,368.8 580.6,366.4 581.6,364.8 582.6,364.0 583.6,361.7 584.6,362.1 585.6,361.5 586.6,360.5 587.6,355.4 588.6,358.7 589.6,357.8 590.6,357.0 591.6,356.3 592.6,355.5 593.6,354.6 594.6,354.0 595.6,352.8 596.6,352.1 597.6,351.6 598.6,351.2 599.6,350.5 600.6,349.9 601.6,349.3 602.6,348.7 603.6,345.9 604.6,346.5 605.6,346.9 606.6,346.4 607.6,345.8 608.6,345.4 609.6,344.9 610.6,344.4 611.6,343.9 612.6,343.4 613.6,341.0 614.6,342.4 615.6,341.9 616.6,341.4 617.6,340.9 618.6,340.2 619.6,339.4 620.6,338.6 621.6,337.5 622.6,335.9 623.6,335.0 624.6,335.5 625.6,335.0 626.6,334.5 627.6,334.0 628.6,333.5 629.6,333.0 630.6,331.7 631.6,332.0 632.6,331.5 633.6,331.0 634.6,328.0 635.6,330.0 636.6,328.4 637.6,329.0 638.6,327.9 639.6,328.0 640.6,327.5 641.6,327.0 642.6,324.1 643.6,326.0 644.6,325.5 645.6,325.0 646.6,324.3 647.6,324.2 648.6,321.3 649.6,323.6 650.6,322.1 651.6,323.0 652.6,322.6 653.6,322.3 654.6,321.5 655.6,321.6 656.6,321.3 657.6,320.8 658.6,319.3 659.6,319.5 660.6,318.8 661.6,317.5 662.6,317.6 663.6,317.3 664.6,317.0 665.6,316.6 666.6,316.4 667.6,315.0 668.6,315.8 669.6,311.6 670.6,314.6 671.6,314.9 672.6,314.6 673.6,314.3 674.6,313.9 675.6,312.2 676.6,312.2 677.6,311.3 678.6,312.6 679.6,311.7 680.6,312.1 681.6,310.7 682.6,311.6 683.6,311.3 684.6,308.7 685.6,310.7 686.6,309.3 687.6,306.5 688.6,311.6 689.6,308.6 690.6,312.7 691.6,312.9 692.6,314.0 693.6,313.5 694.6,314.7 695.6,315.8 696.6,313.4 697.6,316.0 698.6,315.9 699.6,315.7 700.6,315.6 701.6,315.5 702.6,315.3 703.6,315.2 704.6,312.2 705.6,314.9 706.6,314.8 707.6,314.7 708.6,314.8 709.6,311.6 710.6,314.4 711.6,315.8 712.6,315.4 713.6,316.5 714.6,314.3 715.6,317.1 716.6,315.8 717.6,316.9 718.6,316.7 719.6,317.7 720.6,314.5 721.6,318.0 722.6,318.2 723.6,317.7 724.6,317.7 725.6,317.6 726.6,317.7 727.6,318.2 728.6,318.0 729.6,317.8 730.6,315.9 731.6,316.4 732.6,316.0 733.6,316.9 734.6,316.3 735.6,316.9 736.6,317.8 737.6,318.8 738.6,319.6 739.6,319.5 740.6,317.9 741.6,320.6 742.6,319.4 743.6,319.1 744.6,319.6 745.6,319.3 746.6,316.8 747.6,318.6 748.6,322.5 749.6,323.7 750.6,323.6 751.6,324.2 752.6,325.6 753.6,326.0 754.6,326.3 755.6,326.6 756.6,326.9 757.6,327.3 758.6,327.6 759.6,326.4 760.6,328.6 761.6,327.3 762.6,328.9 763.6,330.7 764.6,331.4 765.6,329.6 766.6,329.6 767.6,331.1 768.6,331.1 769.6,330.9 770.6,330.8 771.6,330.6 772.6,330.4 773.6,330.2 774.6,330.0 775.6,329.8 776.6,329.7 777.6,325.4 778.6,326.9 779.6,329.1 780.6,327.2 781.6,325.6 782.6,327.8 783.6,328.5 784.6,326.9 785.6,328.1 786.6,328.0 787.6,328.1 788.6,327.0 789.6,328.6 790.6,328.6 791.6,329.1 792.6,329.5 793.6,329.7 794.6,328.7 795.6,328.2 796.6,330.0 797.6,328.6 798.6,328.5 799.6,325.0 800.6,327.4 801.6,328.6 802.6,328.4 803.6,328.1 804.6,327.8 805.6,327.5 806.6,326.6 807.6,324.5 808.6,325.4 809.6,326.0 810.6,324.5 811.6,324.0 812.6,324.3 813.6,324.1 814.6,322.2 815.6,323.2 816.6,320.9 817.6,322.9 818.6,321.5 819.6,323.2 820.6,325.6 821.6,326.9 822.6,329.3 823.6,331.8 824.6,334.4 825.6,335.4 826.6,334.8 827.6,335.3 828.6,335.1 829.6,335.2 830.6,335.1 831.6,334.5 832.6,335.0 833.6,331.0 834.6,334.9 835.6,334.9 836.6,334.9 837.6,334.8 838.6,335.0 839.6,335.2 840.6,335.2 841.6,331.6 842.6,335.7 843.6,335.3 844.6,334.4 845.6,336.3 846.6,335.7 847.6,336.6 848.6,336.8 849.6,337.0 850.6,337.2 851.6,337.4 852.6,336.9 853.6,337.7 854.6,336.4 855.6,337.8 856.6,336.7 857.6,336.6 858.6,338.0 859.6,338.1 860.6,338.2 861.6,337.8 862.6,336.8 863.6,338.4 864.6,337.4 865.6,336.6 866.6,338.6 867.6,338.6 868.6,338.7 869.6,339.4 870.6,339.3 871.6,341.4 872.6,341.0 873.6,343.4 874.6,343.8 875.6,346.4 876.6,348.8 877.6,351.2 878.6,352.6 879.6,354.0 880.6,358.1 881.6,358.8 882.6,359.4 883.6,360.0 884.6,357.6 885.6,361.1 886.6,361.2 887.6,360.9 888.6,360.8 889.6,361.7 890.6,361.8 891.6,361.9 892.6,361.4 893.6,362.2 894.6,362.2 895.6,362.5 896.6,359.8 897.6,362.7 898.6,362.9 899.6,362.4 900.6,363.1 901.6,363.6 902.6,365.8 903.6,367.7 904.6,368.4 905.6,371.4 906.6,375.6 907.6,377.5 908.6,383.2 909.6,386.7 910.6,385.6 911.6,386.5 912.6,385.7 913.6,386.1 914.6,387.6 915.6,388.7 916.6,387.5 917.6,387.3 918.6,391.3 919.6,390.3 920.6,391.4 921.6,390.7 922.6,391.4 923.6,391.4 924.6,389.3 925.6,387.9 926.6,389.5 926.2,393.4 924.0,399.5 921.8,398.7 919.6,400.8 917.4,400.1 915.2,402.6 913.0,398.7 910.8,402.3 908.6,403.7 906.4,402.7 904.2,409.2 902.0,406.0 899.8,408.2 897.6,408.2 895.4,409.0 893.2,406.5 891.0,404.8 888.8,395.4 886.6,398.4 884.4,393.0 882.2,388.7 880.0,387.6 877.8,380.0 875.6,384.0 873.4,386.0 871.2,387.1 869.0,388.2 866.8,388.9 864.6,390.6 862.4,391.8 860.2,391.2 858.0,394.0 855.8,391.4 853.6,396.0 851.4,396.3 849.2,398.5 847.0,393.0 844.8,397.1 842.6,400.2 840.4,402.3 838.2,401.6 836.0,403.5 833.8,406.6 831.6,406.9 829.4,409.2 827.2,403.5 825.0,410.7 822.8,408.8 820.6,410.2 818.4,413.7 816.2,415.5 814.0,425.3 811.8,431.8 809.6,440.1 807.4,452.8 805.2,459.4 803.0,460.6 800.8,458.6 798.6,457.5 796.4,464.8 794.2,470.0 792.0,467.5 789.8,471.2 787.6,469.5 785.4,461.7 783.2,468.8 781.0,474.8 778.8,475.3 776.6,472.2 774.4,475.9 772.2,470.3 770.0,464.5 767.8,462.8 765.6,459.0 763.4,453.0 761.2,446.6 759.0,450.3 756.8,446.6 754.6,444.1 752.4,444.8 750.2,440.6 748.0,437.8 745.8,438.3 743.6,436.3 741.4,442.6 739.2,444.6 737.0,445.9 734.8,442.0 732.6,436.6 730.4,441.3 728.2,442.1 726.0,444.1 723.8,442.8 721.6,442.8 719.4,442.6 717.2,439.4 715.0,438.4 712.8,431.6 710.6,431.8 708.4,430.2 706.2,433.1 704.0,435.0 701.8,433.7 699.6,437.7 697.4,438.2 695.2,434.4 693.0,434.3 690.8,438.8 688.6,435.1 686.4,436.5 684.2,427.2 682.0,434.4 679.8,434.4 677.6,436.0 675.4,436.8 673.2,436.8 671.0,433.9 668.8,432.5 666.6,429.9 664.4,431.9 662.2,432.2 660.0,436.5 657.8,433.7 655.6,440.0 653.4,437.5 651.2,436.4 649.0,441.2 646.8,442.6 644.6,440.2 642.4,436.6 640.2,438.0 638.0,434.9 635.8,429.2 633.6,430.0 631.4,426.3 629.2,430.2 627.0,426.3 624.8,426.8 622.6,426.6 620.4,426.9 618.2,426.6 616.0,421.4 613.8,428.6 611.6,423.3 609.4,430.0 607.2,427.4 605.0,425.1 602.8,423.6 600.6,423.7 598.4,428.4 596.2,429.6 594.0,426.2 591.8,425.7 589.6,421.5 587.4,420.0 585.2,418.4 583.0,420.2 580.8,418.7 578.6,417.6 576.4,421.6 574.2,423.5 572.0,420.9 569.8,426.2 567.6,427.4 565.4,422.6 563.2,426.7 561.0,421.9 558.8,426.4 556.6,428.7"/></clipPath>
<path d="M511.5 461.5L776.3 508.3L933.0 428.6L668.2 381.8ZM511.5 461.5l7.9 1.4M776.3 508.3l-7.9 -1.4M533.9 450.1l7.9 1.4M798.7 496.9l-7.9 -1.4M556.3 438.7l7.9 1.4M821.1 485.5l-7.9 -1.4M578.7 427.3l7.9 1.4M843.5 474.1l-7.9 -1.4M601.0 416.0l7.9 1.4M865.8 462.8l-7.9 -1.4M623.4 404.6l7.9 1.4M888.2 451.4l-7.9 -1.4M645.8 393.2l7.9 1.4M910.6 440.0l-7.9 -1.4M668.2 381.8l7.9 1.4M933.0 428.6l-7.9 -1.4M511.5 461.5l4.5 -2.3M668.2 381.8l-4.5 2.3M538.0 466.2l2.2 -1.1M694.7 386.5l-2.2 1.1M564.5 470.9l4.5 -2.3M721.2 391.2l-4.5 2.3M590.9 475.5l2.2 -1.1M747.6 395.8l-2.2 1.1M617.4 480.2l4.5 -2.3M774.1 400.5l-4.5 2.3M643.9 484.9l2.2 -1.1M800.6 405.2l-2.2 1.1M670.4 489.6l4.5 -2.3M827.1 409.9l-4.5 2.3M696.9 494.3l2.2 -1.1M853.6 414.6l-2.2 1.1M723.3 498.9l4.5 -2.3M880.0 419.2l-4.5 2.3M749.8 503.6l2.2 -1.1M906.5 423.9l-2.2 1.1M776.3 508.3l4.5 -2.3M933.0 428.6l-4.5 2.3" stroke="#f8f4aa" fill="none"/>
<g clip-path="url(#wfclip)">
<rect x="550" y="300" width="385" height="185" fill="#e9f3e9"/>
<polygon fill="#ecf3e5" points="552.0,377.8 553.5,377.7 555.0,378.4 556.5,377.4 558.0,374.3 559.5,369.1 561.0,367.3 562.5,364.2 564.0,360.0 565.5,355.3 567.0,352.5 568.5,348.4 570.0,345.4 571.5,343.7 573.0,339.5 574.5,336.2 576.0,333.1 577.5,329.9 579.0,325.8 580.5,323.2 582.0,322.5 583.5,321.9 585.0,320.8 586.5,320.3 588.0,318.4 589.5,318.7 591.0,317.4 592.5,317.3 594.0,315.0 595.5,314.4 597.0,313.2 598.5,314.2 600.0,313.8 601.5,313.6 603.0,313.4 604.5,314.9 606.0,315.3 607.5,315.2 609.0,314.9 610.5,315.5 612.0,316.2 613.5,316.4 615.0,317.1 616.5,318.1 618.0,319.2 619.5,317.6 621.0,319.0 622.5,317.9 624.0,318.2 625.5,320.0 627.0,319.5 628.5,320.5 630.0,319.5 631.5,318.6 633.0,319.6 634.5,320.2 636.0,321.1 637.5,321.4 639.0,320.3 640.5,320.3 642.0,320.0 643.5,321.7 645.0,321.0 646.5,321.3 648.0,321.3 649.5,321.7 651.0,323.7 652.5,322.7 654.0,325.2 655.5,323.4 657.0,325.7 658.5,324.3 660.0,324.4 661.5,326.6 663.0,326.0 664.5,327.6 666.0,326.8 667.5,327.0 669.0,329.2 670.5,329.6 672.0,330.4 673.5,330.6 675.0,329.6 676.5,331.4 678.0,332.0 679.5,331.9 681.0,333.6 682.5,332.4 684.0,334.6 685.5,334.5 687.0,333.3 688.5,333.8 690.0,335.9 691.5,336.8 693.0,335.5 694.5,336.5 696.0,338.0 697.5,337.2 699.0,339.3 700.5,338.9 702.0,338.2 703.5,339.3 705.0,340.1 706.5,340.1 708.0,341.0 709.5,340.0 711.0,341.9 712.5,341.2 714.0,342.2 715.5,342.5 717.0,342.3 718.5,342.6 720.0,343.9 721.5,344.6 723.0,344.5 724.5,344.4 726.0,344.0 727.5,343.8 729.0,346.3 730.5,346.0 732.0,346.6 733.5,345.8 735.0,346.8 736.5,348.0 738.0,348.0 739.5,347.7 741.0,347.2 742.5,347.5 744.0,348.7 745.5,347.5 747.0,348.3 748.5,348.1 750.0,348.9 751.5,348.7 753.0,347.5 754.5,346.8 756.0,347.5 757.5,347.9 759.0,348.4 760.5,348.8 762.0,348.4 763.5,345.8 765.0,347.1 766.5,346.5 768.0,346.1 769.5,344.9 771.0,343.6 772.5,344.4 774.0,343.8 775.5,342.9 777.0,342.9 778.5,341.0 780.0,339.8 781.5,340.7 783.0,341.2 784.5,339.5 786.0,340.7 787.5,340.9 789.0,339.1 790.5,339.8 792.0,339.8 793.5,339.1 795.0,338.3 796.5,338.2 798.0,339.2 799.5,339.2 801.0,338.3 802.5,337.4 804.0,339.1 805.5,338.9 807.0,337.6 808.5,338.4 810.0,339.2 811.5,339.1 813.0,338.2 814.5,338.1 816.0,338.3 817.5,337.3 819.0,337.3 820.5,337.1 822.0,338.0 823.5,336.9 825.0,337.1 826.5,336.3 828.0,336.3 829.5,335.1 831.0,334.5 832.5,336.4 834.0,334.6 835.5,333.6 837.0,334.6 838.5,334.6 840.0,332.8 841.5,333.1 843.0,331.7 844.5,331.4 846.0,329.4 847.5,328.7 849.0,330.3 850.5,329.2 852.0,327.6 853.5,327.0 855.0,325.5 856.5,326.0 858.0,324.4 859.5,324.9 861.0,323.9 862.5,323.6 864.0,323.5 865.5,321.3 867.0,320.3 868.5,320.3 870.0,319.8 871.5,319.1 873.0,318.5 874.5,319.3 876.0,320.3 877.5,319.9 879.0,321.8 880.5,322.3 882.0,320.9 883.5,322.8 885.0,323.0 886.5,321.7 888.0,323.1 889.5,320.8 891.0,320.9 892.5,320.4 894.0,320.6 895.5,319.3 897.0,318.0 898.5,317.5 900.0,316.2 901.5,317.0 903.0,316.0 904.5,313.0 906.0,311.5 907.5,310.9 909.0,310.0 910.5,310.4 912.0,309.9 913.5,309.3 915.0,306.9 916.5,308.1 918.0,307.5 919.5,306.8 921.0,307.1 922.5,304.4 924.0,304.1 925.5,305.1 927.0,305.0 928.5,303.9 930.0,302.5 931.5,303.2 932.0,490.0 552.0,490.0"/>
<polygon fill="#f1f2de" points="552.0,382.6 553.5,381.0 555.0,381.6 556.5,380.3 558.0,376.9 559.5,374.6 561.0,370.7 562.5,367.7 564.0,364.3 565.5,362.4 567.0,357.7 568.5,356.2 570.0,351.8 571.5,348.3 573.0,347.2 574.5,342.4 576.0,340.9 577.5,337.6 579.0,334.5 580.5,330.4 582.0,330.5 583.5,328.9 585.0,330.3 586.5,329.4 588.0,328.2 589.5,327.1 591.0,326.2 592.5,326.7 594.0,325.2 595.5,324.8 597.0,323.0 598.5,322.5 600.0,321.5 601.5,323.5 603.0,323.5 604.5,323.0 606.0,325.2 607.5,324.2 609.0,325.0 610.5,324.8 612.0,325.6 613.5,327.4 615.0,326.6 616.5,326.7 618.0,327.9 619.5,327.9 621.0,329.6 622.5,327.9 624.0,330.1 625.5,328.0 627.0,330.2 628.5,329.8 630.0,328.9 631.5,329.7 633.0,329.4 634.5,329.5 636.0,329.5 637.5,330.1 639.0,331.7 640.5,332.0 642.0,332.2 643.5,330.6 645.0,331.5 646.5,333.4 648.0,331.7 649.5,333.8 651.0,333.1 652.5,335.2 654.0,333.3 655.5,335.6 657.0,334.9 658.5,334.8 660.0,334.8 661.5,337.3 663.0,337.0 664.5,336.7 666.0,337.8 667.5,339.4 669.0,338.2 670.5,339.5 672.0,338.9 673.5,339.5 675.0,341.4 676.5,341.7 678.0,340.9 679.5,341.1 681.0,341.6 682.5,343.3 684.0,343.5 685.5,343.5 687.0,343.8 688.5,345.2 690.0,345.9 691.5,346.6 693.0,346.5 694.5,346.1 696.0,346.2 697.5,348.3 699.0,348.0 700.5,349.2 702.0,347.9 703.5,350.0 705.0,349.2 706.5,350.7 708.0,351.1 709.5,350.6 711.0,349.7 712.5,352.2 714.0,351.5 715.5,352.8 717.0,351.6 718.5,351.8 720.0,353.6 721.5,352.8 723.0,352.7 724.5,353.5 726.0,354.4 727.5,353.3 729.0,354.8 730.5,355.0 732.0,355.5 733.5,354.8 735.0,356.6 736.5,357.1 738.0,357.6 739.5,356.6 741.0,357.7 742.5,357.0 744.0,358.0 745.5,356.4 747.0,358.4 748.5,358.7 750.0,357.7 751.5,357.8 753.0,358.0 754.5,358.1 756.0,356.9 757.5,359.3 759.0,357.6 760.5,357.4 762.0,356.7 763.5,356.6 765.0,357.6 766.5,355.2 768.0,354.9 769.5,355.9 771.0,354.3 772.5,353.4 774.0,354.3 775.5,353.8 777.0,353.3 778.5,353.3 780.0,351.4 781.5,353.0 783.0,352.4 784.5,350.6 786.0,350.6 787.5,351.3 789.0,351.1 790.5,350.3 792.0,349.8 793.5,350.2 795.0,349.4 796.5,350.3 798.0,350.7 799.5,348.8 801.0,349.6 802.5,349.8 804.0,348.2 805.5,349.6 807.0,349.7 808.5,348.2 810.0,348.1 811.5,348.9 813.0,348.0 814.5,347.5 816.0,348.6 817.5,348.0 819.0,346.7 820.5,346.3 822.0,346.1 823.5,346.0 825.0,347.0 826.5,346.2 828.0,346.1 829.5,345.5 831.0,345.2 832.5,343.0 834.0,343.7 835.5,344.4 837.0,344.0 838.5,342.0 840.0,342.1 841.5,341.8 843.0,340.4 844.5,340.1 846.0,338.2 847.5,338.3 849.0,337.8 850.5,335.8 852.0,335.4 853.5,336.6 855.0,335.4 856.5,335.0 858.0,333.6 859.5,333.2 861.0,332.8 862.5,332.3 864.0,329.8 865.5,330.7 867.0,329.3 868.5,329.8 870.0,328.3 871.5,328.4 873.0,328.8 874.5,327.6 876.0,326.8 877.5,327.8 879.0,328.0 880.5,329.6 882.0,328.4 883.5,328.8 885.0,330.0 886.5,328.1 888.0,328.6 889.5,328.9 891.0,327.2 892.5,325.9 894.0,325.8 895.5,325.3 897.0,323.7 898.5,323.0 900.0,322.4 901.5,321.8 903.0,321.0 904.5,319.7 906.0,318.6 907.5,317.2 909.0,317.2 910.5,317.1 912.0,316.1 913.5,315.5 915.0,315.2 916.5,313.7 918.0,314.4 919.5,313.4 921.0,313.1 922.5,312.8 924.0,312.0 925.5,311.1 927.0,310.5 928.5,310.0 930.0,310.2 931.5,309.9 932.0,490.0 552.0,490.0"/>
<polygon fill="#eef3e3" points="552.0,388.1 553.5,386.6 555.0,387.5 556.5,387.9 558.0,383.5 559.5,381.7 561.0,378.8 562.5,375.5 564.0,374.7 565.5,370.1 567.0,368.6 568.5,364.3 570.0,361.3 571.5,360.8 573.0,356.9 574.5,353.2 576.0,351.3 577.5,348.7 579.0,346.8 580.5,343.2 582.0,343.0 583.5,344.4 585.0,343.3 586.5,341.3 588.0,341.2 589.5,340.8 591.0,341.1 592.5,340.5 594.0,340.6 595.5,340.0 597.0,338.7 598.5,338.8 600.0,338.3 601.5,338.8 603.0,338.5 604.5,339.7 606.0,340.0 607.5,341.0 609.0,339.3 610.5,341.8 612.0,339.9 613.5,342.4 615.0,342.4 616.5,342.6 618.0,344.3 619.5,343.7 621.0,343.6 622.5,344.8 624.0,345.2 625.5,344.7 627.0,344.4 628.5,344.8 630.0,345.0 631.5,345.9 633.0,345.0 634.5,345.5 636.0,346.2 637.5,345.9 639.0,346.0 640.5,347.5 642.0,348.1 643.5,347.6 645.0,347.9 646.5,347.6 648.0,348.4 649.5,348.4 651.0,349.9 652.5,350.4 654.0,349.5 655.5,352.1 657.0,351.0 658.5,352.8 660.0,353.2 661.5,353.9 663.0,352.3 664.5,353.4 666.0,355.1 667.5,353.1 669.0,353.6 670.5,355.4 672.0,355.7 673.5,357.2 675.0,357.3 676.5,357.1 678.0,358.7 679.5,357.9 681.0,358.3 682.5,359.2 684.0,358.8 685.5,359.1 687.0,360.2 688.5,360.0 690.0,362.0 691.5,361.7 693.0,361.7 694.5,361.0 696.0,362.2 697.5,362.7 699.0,363.5 700.5,363.9 702.0,365.1 703.5,365.6 705.0,364.6 706.5,364.8 708.0,365.6 709.5,366.9 711.0,365.5 712.5,366.3 714.0,367.4 715.5,366.0 717.0,366.7 718.5,368.8 720.0,368.7 721.5,368.2 723.0,367.4 724.5,369.8 726.0,369.6 727.5,370.2 729.0,371.0 730.5,371.0 732.0,370.1 733.5,369.7 735.0,370.4 736.5,371.3 738.0,371.6 739.5,371.0 741.0,371.2 742.5,372.6 744.0,372.7 745.5,372.1 747.0,374.0 748.5,373.2 750.0,371.8 751.5,372.9 753.0,374.0 754.5,372.9 756.0,374.1 757.5,372.4 759.0,373.3 760.5,374.8 762.0,373.8 763.5,373.8 765.0,372.2 766.5,372.7 768.0,372.6 769.5,371.6 771.0,372.3 772.5,371.7 774.0,372.7 775.5,371.3 777.0,370.6 778.5,369.5 780.0,369.3 781.5,370.7 783.0,368.7 784.5,368.4 786.0,368.4 787.5,369.1 789.0,369.6 790.5,368.8 792.0,369.1 793.5,366.8 795.0,366.5 796.5,368.2 798.0,366.8 799.5,367.6 801.0,366.2 802.5,365.3 804.0,365.1 805.5,364.2 807.0,365.9 808.5,364.6 810.0,363.6 811.5,363.4 813.0,362.8 814.5,361.4 816.0,363.2 817.5,362.0 819.0,362.5 820.5,360.7 822.0,360.8 823.5,359.4 825.0,358.5 826.5,360.4 828.0,359.8 829.5,358.0 831.0,359.1 832.5,358.5 834.0,356.8 835.5,357.2 837.0,357.7 838.5,356.1 840.0,356.9 841.5,354.2 843.0,353.9 844.5,354.0 846.0,351.9 847.5,351.4 849.0,352.2 850.5,350.4 852.0,350.5 853.5,348.2 855.0,347.3 856.5,347.1 858.0,345.8 859.5,347.2 861.0,344.7 862.5,344.8 864.0,343.1 865.5,343.6 867.0,342.6 868.5,342.0 870.0,340.5 871.5,340.1 873.0,341.4 874.5,339.5 876.0,339.0 877.5,338.9 879.0,339.1 880.5,339.0 882.0,338.5 883.5,340.2 885.0,339.3 886.5,338.2 888.0,339.0 889.5,336.7 891.0,336.5 892.5,337.3 894.0,334.8 895.5,334.9 897.0,335.3 898.5,334.6 900.0,332.2 901.5,331.8 903.0,331.9 904.5,330.1 906.0,330.7 907.5,327.8 909.0,328.9 910.5,327.0 912.0,325.8 913.5,326.0 915.0,324.7 916.5,325.8 918.0,324.2 919.5,325.4 921.0,324.2 922.5,323.2 924.0,322.4 925.5,323.0 927.0,321.5 928.5,322.8 930.0,320.4 931.5,321.4 932.0,490.0 552.0,490.0"/>
<polygon fill="#e9f4ec" points="552.0,390.9 553.5,390.0 555.0,391.7 556.5,389.6 558.0,388.0 559.5,385.2 561.0,381.8 562.5,379.6 564.0,376.1 565.5,373.9 567.0,373.6 568.5,369.4 570.0,368.0 571.5,363.7 573.0,362.7 574.5,359.5 576.0,357.5 577.5,354.3 579.0,351.0 580.5,350.0 582.0,349.3 583.5,348.6 585.0,350.1 586.5,348.3 588.0,348.2 589.5,349.5 591.0,348.6 592.5,348.6 594.0,348.1 595.5,345.3 597.0,345.3 598.5,344.1 600.0,345.8 601.5,346.2 603.0,345.6 604.5,346.3 606.0,347.5 607.5,348.1 609.0,347.1 610.5,349.5 612.0,348.3 613.5,349.7 615.0,348.7 616.5,348.9 618.0,352.0 619.5,351.8 621.0,352.1 622.5,350.1 624.0,350.4 625.5,351.0 627.0,351.4 628.5,352.0 630.0,352.5 631.5,351.6 633.0,352.8 634.5,354.1 636.0,352.9 637.5,355.3 639.0,354.7 640.5,355.5 642.0,354.4 643.5,355.4 645.0,356.7 646.5,356.0 648.0,355.3 649.5,358.5 651.0,358.7 652.5,357.5 654.0,357.2 655.5,360.3 657.0,359.9 658.5,358.5 660.0,359.6 661.5,359.5 663.0,362.2 664.5,360.7 666.0,363.4 667.5,363.2 669.0,361.5 670.5,363.9 672.0,363.3 673.5,364.9 675.0,365.5 676.5,364.1 678.0,363.9 679.5,367.1 681.0,365.8 682.5,367.9 684.0,367.5 685.5,368.1 687.0,368.8 688.5,368.5 690.0,368.3 691.5,367.4 693.0,370.0 694.5,369.5 696.0,370.2 697.5,371.9 699.0,369.7 700.5,372.2 702.0,370.1 703.5,372.6 705.0,373.2 706.5,371.7 708.0,373.0 709.5,374.7 711.0,373.9 712.5,373.9 714.0,373.2 715.5,372.9 717.0,374.2 718.5,374.7 720.0,374.3 721.5,375.0 723.0,374.7 724.5,376.9 726.0,377.1 727.5,376.0 729.0,376.3 730.5,377.5 732.0,377.6 733.5,379.5 735.0,377.9 736.5,378.0 738.0,380.3 739.5,378.1 741.0,379.7 742.5,379.2 744.0,380.9 745.5,380.2 747.0,381.1 748.5,379.3 750.0,381.1 751.5,381.1 753.0,380.8 754.5,382.0 756.0,382.4 757.5,380.2 759.0,381.0 760.5,381.3 762.0,380.6 763.5,379.9 765.0,380.4 766.5,380.0 768.0,381.4 769.5,380.4 771.0,379.1 772.5,379.6 774.0,379.9 775.5,379.3 777.0,378.5 778.5,378.0 780.0,377.6 781.5,380.5 783.0,379.5 784.5,377.0 786.0,378.8 787.5,379.4 789.0,377.8 790.5,376.0 792.0,377.0 793.5,376.6 795.0,375.5 796.5,376.4 798.0,374.3 799.5,377.1 801.0,375.7 802.5,375.1 804.0,375.5 805.5,374.0 807.0,372.1 808.5,371.5 810.0,370.6 811.5,369.7 813.0,371.6 814.5,371.2 816.0,368.9 817.5,367.9 819.0,368.8 820.5,369.0 822.0,368.8 823.5,365.9 825.0,367.5 826.5,367.3 828.0,366.6 829.5,364.8 831.0,363.9 832.5,365.6 834.0,363.5 835.5,363.2 837.0,363.4 838.5,362.4 840.0,363.5 841.5,360.8 843.0,359.4 844.5,360.4 846.0,359.8 847.5,359.7 849.0,358.6 850.5,358.5 852.0,357.9 853.5,355.6 855.0,354.9 856.5,353.0 858.0,352.7 859.5,352.9 861.0,350.6 862.5,351.9 864.0,349.6 865.5,349.9 867.0,351.0 868.5,347.4 870.0,346.6 871.5,347.3 873.0,345.8 874.5,346.9 876.0,344.2 877.5,346.8 879.0,346.7 880.5,346.3 882.0,344.9 883.5,344.3 885.0,345.3 886.5,344.2 888.0,343.2 889.5,342.2 891.0,341.9 892.5,341.9 894.0,341.8 895.5,341.4 897.0,338.3 898.5,338.0 900.0,337.8 901.5,337.4 903.0,335.8 904.5,334.5 906.0,333.3 907.5,333.2 909.0,332.8 910.5,333.8 912.0,333.2 913.5,332.7 915.0,332.6 916.5,332.2 918.0,330.6 919.5,330.9 921.0,328.0 922.5,329.6 924.0,329.0 925.5,327.5 927.0,328.0 928.5,328.9 930.0,326.9 931.5,327.5 932.0,490.0 552.0,490.0"/>
<polygon fill="#e3f3f4" points="552.0,392.6 553.5,392.7 555.0,394.8 556.5,390.8 558.0,389.1 559.5,388.6 561.0,385.4 562.5,381.7 564.0,381.6 565.5,378.2 567.0,376.7 568.5,373.7 570.0,371.9 571.5,369.7 573.0,366.7 574.5,363.3 576.0,361.3 577.5,361.7 579.0,358.0 580.5,354.7 582.0,357.2 583.5,354.6 585.0,353.6 586.5,354.9 588.0,353.5 589.5,354.1 591.0,354.0 592.5,352.4 594.0,353.3 595.5,351.3 597.0,352.4 598.5,352.4 600.0,350.1 601.5,351.8 603.0,351.0 604.5,352.8 606.0,354.9 607.5,354.1 609.0,355.2 610.5,355.8 612.0,353.8 613.5,357.6 615.0,357.0 616.5,355.1 618.0,358.3 619.5,357.1 621.0,356.6 622.5,359.9 624.0,358.7 625.5,359.8 627.0,357.6 628.5,360.3 630.0,357.9 631.5,358.8 633.0,359.6 634.5,358.6 636.0,361.0 637.5,359.9 639.0,360.5 640.5,362.4 642.0,361.8 643.5,364.0 645.0,363.4 646.5,364.8 648.0,364.0 649.5,365.8 651.0,366.1 652.5,363.9 654.0,366.5 655.5,365.4 657.0,367.5 658.5,367.6 660.0,368.6 661.5,366.3 663.0,367.7 664.5,369.4 666.0,370.6 667.5,370.1 669.0,367.9 670.5,370.5 672.0,368.9 673.5,371.0 675.0,372.4 676.5,370.1 678.0,373.6 679.5,373.1 681.0,371.8 682.5,372.0 684.0,373.3 685.5,375.2 687.0,374.6 688.5,373.2 690.0,373.3 691.5,374.0 693.0,377.0 694.5,375.1 696.0,376.9 697.5,376.2 699.0,378.1 700.5,377.3 702.0,376.7 703.5,379.8 705.0,378.8 706.5,379.7 708.0,380.5 709.5,381.3 711.0,378.1 712.5,379.6 714.0,379.2 715.5,380.8 717.0,382.5 718.5,382.6 720.0,380.0 721.5,380.8 723.0,383.5 724.5,383.3 726.0,382.5 727.5,383.1 729.0,382.2 730.5,385.2 732.0,383.7 733.5,385.9 735.0,385.2 736.5,383.4 738.0,384.7 739.5,384.6 741.0,387.4 742.5,386.4 744.0,384.6 745.5,385.3 747.0,386.2 748.5,386.8 750.0,387.4 751.5,386.9 753.0,387.0 754.5,385.9 756.0,388.3 757.5,387.5 759.0,386.6 760.5,388.3 762.0,390.2 763.5,386.5 765.0,386.8 766.5,388.6 768.0,387.0 769.5,386.9 771.0,387.6 772.5,386.6 774.0,387.6 775.5,387.4 777.0,388.9 778.5,388.9 780.0,385.1 781.5,386.8 783.0,387.3 784.5,387.4 786.0,386.8 787.5,385.9 789.0,385.7 790.5,384.3 792.0,383.7 793.5,385.4 795.0,385.4 796.5,385.4 798.0,384.1 799.5,382.4 801.0,383.6 802.5,382.8 804.0,381.3 805.5,381.1 807.0,379.3 808.5,379.4 810.0,378.2 811.5,376.2 813.0,376.5 814.5,375.8 816.0,377.7 817.5,375.1 819.0,373.9 820.5,372.9 822.0,372.4 823.5,372.4 825.0,371.2 826.5,370.2 828.0,373.1 829.5,371.0 831.0,370.6 832.5,370.6 834.0,369.2 835.5,368.2 837.0,367.4 838.5,367.8 840.0,367.4 841.5,368.3 843.0,366.9 844.5,367.6 846.0,364.6 847.5,366.0 849.0,364.0 850.5,361.3 852.0,360.9 853.5,361.7 855.0,362.5 856.5,359.4 858.0,360.2 859.5,358.1 861.0,359.1 862.5,355.4 864.0,356.3 865.5,357.2 867.0,354.2 868.5,353.4 870.0,351.8 871.5,351.7 873.0,351.4 874.5,352.4 876.0,350.1 877.5,350.4 879.0,349.3 880.5,350.5 882.0,351.2 883.5,350.0 885.0,348.0 886.5,349.3 888.0,349.5 889.5,347.4 891.0,344.8 892.5,346.8 894.0,346.4 895.5,343.7 897.0,342.2 898.5,341.7 900.0,342.3 901.5,342.8 903.0,341.2 904.5,341.5 906.0,338.0 907.5,337.6 909.0,338.4 910.5,337.4 912.0,336.1 913.5,336.7 915.0,335.1 916.5,333.6 918.0,334.6 919.5,332.8 921.0,334.6 922.5,333.1 924.0,333.3 925.5,333.3 927.0,331.6 928.5,332.0 930.0,329.9 931.5,333.4 932.0,490.0 552.0,490.0"/>
<polygon fill="#d8eef5" points="552.0,396.5 553.5,398.4 555.0,394.3 556.5,396.1 558.0,394.5 559.5,390.6 561.0,387.5 562.5,385.7 564.0,383.5 565.5,384.2 567.0,379.1 568.5,380.2 570.0,376.4 571.5,374.8 573.0,372.9 574.5,370.7 576.0,369.0 577.5,366.7 579.0,363.4 580.5,363.7 582.0,361.3 583.5,363.1 585.0,363.0 586.5,362.8 588.0,360.5 589.5,362.3 591.0,362.9 592.5,360.4 594.0,359.3 595.5,360.1 597.0,361.7 598.5,357.9 600.0,357.1 601.5,359.6 603.0,360.8 604.5,361.8 606.0,360.4 607.5,363.7 609.0,360.7 610.5,363.5 612.0,361.0 613.5,361.2 615.0,362.1 616.5,362.2 618.0,364.6 619.5,365.3 621.0,364.0 622.5,367.7 624.0,365.5 625.5,364.8 627.0,365.3 628.5,368.1 630.0,369.2 631.5,366.1 633.0,365.9 634.5,369.5 636.0,367.4 637.5,371.0 639.0,369.2 640.5,370.2 642.0,369.3 643.5,371.8 645.0,370.8 646.5,370.6 648.0,373.6 649.5,370.6 651.0,373.8 652.5,371.3 654.0,374.3 655.5,373.7 657.0,376.2 658.5,373.1 660.0,375.8 661.5,375.4 663.0,378.1 664.5,378.5 666.0,377.5 667.5,376.1 669.0,376.6 670.5,377.0 672.0,378.1 673.5,377.6 675.0,377.8 676.5,380.7 678.0,380.5 679.5,379.3 681.0,382.8 682.5,379.7 684.0,381.6 685.5,380.2 687.0,383.7 688.5,384.1 690.0,381.8 691.5,384.3 693.0,385.0 694.5,382.9 696.0,383.5 697.5,384.6 699.0,386.7 700.5,383.8 702.0,386.4 703.5,386.4 705.0,386.0 706.5,386.9 708.0,388.5 709.5,385.8 711.0,389.1 712.5,387.1 714.0,389.3 715.5,389.9 717.0,387.2 718.5,390.5 720.0,391.4 721.5,388.6 723.0,387.7 724.5,388.4 726.0,392.5 727.5,388.5 729.0,392.8 730.5,389.7 732.0,392.6 733.5,390.1 735.0,390.7 736.5,393.3 738.0,391.0 739.5,392.4 741.0,395.2 742.5,394.5 744.0,395.5 745.5,396.2 747.0,392.2 748.5,393.4 750.0,396.1 751.5,395.8 753.0,393.2 754.5,395.5 756.0,394.5 757.5,395.7 759.0,394.5 760.5,394.2 762.0,398.5 763.5,395.5 765.0,397.9 766.5,394.5 768.0,396.1 769.5,394.5 771.0,395.8 772.5,394.6 774.0,396.8 775.5,394.4 777.0,397.0 778.5,395.9 780.0,394.1 781.5,394.9 783.0,395.2 784.5,396.8 786.0,393.9 787.5,393.0 789.0,396.1 790.5,395.4 792.0,394.4 793.5,392.1 795.0,391.3 796.5,391.4 798.0,390.2 799.5,389.8 801.0,391.2 802.5,390.0 804.0,389.8 805.5,388.2 807.0,385.8 808.5,388.0 810.0,387.0 811.5,385.8 813.0,385.0 814.5,384.8 816.0,385.3 817.5,384.0 819.0,382.5 820.5,380.4 822.0,379.6 823.5,379.6 825.0,381.6 826.5,378.5 828.0,378.0 829.5,377.7 831.0,376.1 832.5,379.4 834.0,374.5 835.5,376.7 837.0,377.7 838.5,374.3 840.0,375.4 841.5,373.6 843.0,372.2 844.5,371.3 846.0,370.2 847.5,372.6 849.0,371.6 850.5,371.4 852.0,366.9 853.5,369.0 855.0,366.6 856.5,367.3 858.0,366.1 859.5,364.3 861.0,366.5 862.5,361.5 864.0,364.1 865.5,363.8 867.0,361.6 868.5,361.2 870.0,362.3 871.5,358.2 873.0,359.2 874.5,359.0 876.0,356.8 877.5,357.8 879.0,355.8 880.5,355.9 882.0,355.7 883.5,355.5 885.0,353.4 886.5,354.0 888.0,352.9 889.5,350.8 891.0,351.8 892.5,349.6 894.0,351.7 895.5,349.1 897.0,349.5 898.5,347.9 900.0,347.0 901.5,345.1 903.0,344.1 904.5,346.8 906.0,344.3 907.5,343.6 909.0,342.9 910.5,343.5 912.0,340.6 913.5,340.0 915.0,342.5 916.5,340.5 918.0,340.9 919.5,341.4 921.0,341.3 922.5,340.9 924.0,336.8 925.5,338.0 927.0,339.6 928.5,339.2 930.0,335.7 931.5,335.9 932.0,490.0 552.0,490.0"/>
<polygon fill="#cbe7f1" points="552.0,397.9 553.5,397.2 555.0,398.5 556.5,400.1 558.0,396.8 559.5,394.6 561.0,390.9 562.5,390.5 564.0,391.7 565.5,388.3 567.0,385.2 568.5,383.5 570.0,383.2 571.5,381.1 573.0,376.2 574.5,377.0 576.0,373.5 577.5,372.4 579.0,369.1 580.5,368.5 582.0,368.2 583.5,368.2 585.0,366.2 586.5,366.9 588.0,368.6 589.5,365.8 591.0,366.3 592.5,368.8 594.0,366.4 595.5,366.5 597.0,365.9 598.5,368.7 600.0,364.7 601.5,367.9 603.0,369.5 604.5,366.6 606.0,368.2 607.5,370.5 609.0,370.1 610.5,369.3 612.0,368.1 613.5,370.6 615.0,370.6 616.5,372.8 618.0,371.2 619.5,372.2 621.0,373.8 622.5,374.9 624.0,373.0 625.5,373.5 627.0,374.8 628.5,376.9 630.0,373.5 631.5,377.8 633.0,376.9 634.5,375.5 636.0,377.3 637.5,376.0 639.0,375.0 640.5,378.8 642.0,377.4 643.5,378.6 645.0,378.9 646.5,381.4 648.0,381.2 649.5,378.0 651.0,381.3 652.5,381.1 654.0,381.5 655.5,383.9 657.0,382.2 658.5,383.0 660.0,385.6 661.5,383.6 663.0,384.2 664.5,384.7 666.0,386.6 667.5,386.2 669.0,386.9 670.5,385.5 672.0,384.0 673.5,387.6 675.0,387.3 676.5,388.8 678.0,389.1 679.5,386.2 681.0,387.0 682.5,386.6 684.0,390.7 685.5,387.5 687.0,387.7 688.5,391.4 690.0,390.8 691.5,388.6 693.0,392.1 694.5,392.6 696.0,391.8 697.5,390.0 699.0,393.5 700.5,392.5 702.0,393.6 703.5,396.0 705.0,395.4 706.5,395.9 708.0,392.6 709.5,393.8 711.0,395.0 712.5,392.7 714.0,398.0 715.5,394.7 717.0,394.9 718.5,395.5 720.0,395.5 721.5,398.8 723.0,397.6 724.5,397.6 726.0,397.5 727.5,395.9 729.0,397.5 730.5,400.6 732.0,400.6 733.5,401.1 735.0,398.4 736.5,398.4 738.0,398.0 739.5,400.7 741.0,400.1 742.5,400.9 744.0,401.3 745.5,402.0 747.0,401.2 748.5,403.6 750.0,400.9 751.5,404.8 753.0,403.2 754.5,400.9 756.0,402.5 757.5,403.9 759.0,403.6 760.5,404.5 762.0,403.4 763.5,403.2 765.0,405.8 766.5,403.3 768.0,405.5 769.5,406.0 771.0,405.0 772.5,404.3 774.0,406.8 775.5,404.4 777.0,406.6 778.5,402.5 780.0,404.5 781.5,405.2 783.0,401.9 784.5,405.6 786.0,401.3 787.5,403.6 789.0,401.2 790.5,404.6 792.0,402.5 793.5,403.3 795.0,401.5 796.5,402.0 798.0,401.7 799.5,399.5 801.0,398.3 802.5,400.6 804.0,396.1 805.5,399.1 807.0,394.6 808.5,393.1 810.0,392.2 811.5,394.7 813.0,394.6 814.5,391.0 816.0,391.3 817.5,388.3 819.0,390.7 820.5,388.8 822.0,385.6 823.5,384.6 825.0,387.4 826.5,383.6 828.0,387.1 829.5,383.9 831.0,383.1 832.5,384.4 834.0,382.6 835.5,383.3 837.0,380.8 838.5,384.2 840.0,380.7 841.5,382.6 843.0,378.3 844.5,380.9 846.0,381.0 847.5,377.3 849.0,374.7 850.5,375.7 852.0,376.3 853.5,373.5 855.0,374.3 856.5,371.3 858.0,372.4 859.5,373.0 861.0,370.7 862.5,371.2 864.0,367.6 865.5,370.5 867.0,366.1 868.5,369.4 870.0,369.0 871.5,368.0 873.0,365.1 874.5,363.2 876.0,362.8 877.5,364.1 879.0,362.1 880.5,363.5 882.0,358.6 883.5,359.8 885.0,361.0 886.5,359.0 888.0,358.0 889.5,355.0 891.0,354.5 892.5,354.4 894.0,356.9 895.5,355.9 897.0,352.1 898.5,354.9 900.0,349.6 901.5,351.8 903.0,353.0 904.5,349.2 906.0,351.6 907.5,349.5 909.0,345.8 910.5,346.6 912.0,346.9 913.5,345.5 915.0,347.7 916.5,344.5 918.0,347.2 919.5,344.4 921.0,342.9 922.5,345.0 924.0,342.3 925.5,344.3 927.0,345.1 928.5,343.8 930.0,342.8 931.5,340.6 932.0,490.0 552.0,490.0"/>
<polygon fill="#bcdfed" points="552.0,402.2 553.5,399.9 555.0,403.0 556.5,399.5 558.0,400.4 559.5,397.4 561.0,395.9 562.5,395.9 564.0,391.4 565.5,389.8 567.0,392.5 568.5,387.4 570.0,388.6 571.5,387.1 573.0,383.3 574.5,379.7 576.0,377.8 577.5,380.5 579.0,374.6 580.5,375.6 582.0,375.7 583.5,373.3 585.0,375.1 586.5,373.3 588.0,375.3 589.5,375.1 591.0,374.2 592.5,373.1 594.0,374.2 595.5,373.0 597.0,372.4 598.5,373.0 600.0,376.5 601.5,374.8 603.0,377.5 604.5,373.0 606.0,378.7 607.5,376.5 609.0,378.7 610.5,377.9 612.0,379.0 613.5,376.9 615.0,380.3 616.5,377.4 618.0,378.4 619.5,377.6 621.0,380.0 622.5,381.1 624.0,380.2 625.5,383.9 627.0,379.8 628.5,382.9 630.0,381.4 631.5,383.8 633.0,385.2 634.5,385.2 636.0,381.9 637.5,383.3 639.0,385.7 640.5,388.3 642.0,383.4 643.5,387.2 645.0,388.1 646.5,389.2 648.0,387.0 649.5,390.1 651.0,388.7 652.5,391.7 654.0,387.1 655.5,392.8 657.0,390.3 658.5,390.7 660.0,389.4 661.5,390.6 663.0,393.7 664.5,393.7 666.0,391.0 667.5,392.5 669.0,391.6 670.5,392.3 672.0,392.7 673.5,393.7 675.0,397.7 676.5,398.1 678.0,397.3 679.5,395.8 681.0,396.2 682.5,398.2 684.0,399.2 685.5,398.7 687.0,398.3 688.5,396.2 690.0,398.9 691.5,400.5 693.0,400.5 694.5,396.9 696.0,400.7 697.5,399.0 699.0,398.2 700.5,403.1 702.0,401.7 703.5,402.4 705.0,399.3 706.5,403.5 708.0,404.4 709.5,404.5 711.0,403.9 712.5,404.6 714.0,404.8 715.5,403.8 717.0,403.2 718.5,405.7 720.0,405.8 721.5,406.6 723.0,403.6 724.5,407.7 726.0,405.5 727.5,408.1 729.0,403.7 730.5,408.9 732.0,408.1 733.5,405.4 735.0,409.0 736.5,405.8 738.0,405.9 739.5,407.7 741.0,406.7 742.5,408.5 744.0,411.1 745.5,410.2 747.0,410.6 748.5,409.1 750.0,411.6 751.5,412.0 753.0,411.7 754.5,413.4 756.0,413.1 757.5,411.0 759.0,409.5 760.5,412.9 762.0,414.1 763.5,411.4 765.0,413.0 766.5,414.5 768.0,414.4 769.5,410.1 771.0,412.9 772.5,410.4 774.0,411.0 775.5,415.1 777.0,413.0 778.5,414.2 780.0,413.5 781.5,412.5 783.0,411.4 784.5,411.9 786.0,414.3 787.5,412.7 789.0,410.5 790.5,409.0 792.0,409.7 793.5,411.7 795.0,409.9 796.5,410.8 798.0,411.3 799.5,407.1 801.0,409.4 802.5,404.7 804.0,408.1 805.5,403.4 807.0,402.9 808.5,405.7 810.0,401.3 811.5,399.4 813.0,402.1 814.5,399.5 816.0,400.0 817.5,396.2 819.0,395.7 820.5,397.4 822.0,394.4 823.5,396.6 825.0,391.6 826.5,394.7 828.0,390.4 829.5,392.0 831.0,388.5 832.5,389.0 834.0,392.8 835.5,389.6 837.0,391.1 838.5,387.4 840.0,387.5 841.5,385.3 843.0,387.1 844.5,388.1 846.0,385.4 847.5,383.9 849.0,386.2 850.5,385.3 852.0,383.3 853.5,379.2 855.0,381.5 856.5,379.8 858.0,381.9 859.5,377.8 861.0,378.7 862.5,377.7 864.0,375.5 865.5,375.5 867.0,375.6 868.5,376.1 870.0,373.0 871.5,371.4 873.0,374.1 874.5,368.1 876.0,371.6 877.5,369.8 879.0,368.2 880.5,366.7 882.0,367.5 883.5,367.4 885.0,365.5 886.5,364.9 888.0,360.1 889.5,361.0 891.0,359.3 892.5,363.1 894.0,362.0 895.5,357.1 897.0,358.9 898.5,358.1 900.0,354.3 901.5,355.7 903.0,357.1 904.5,355.9 906.0,353.3 907.5,355.4 909.0,352.1 910.5,353.1 912.0,352.0 913.5,354.9 915.0,352.7 916.5,353.2 918.0,352.2 919.5,350.2 921.0,353.2 922.5,351.4 924.0,351.0 925.5,348.3 927.0,347.3 928.5,349.3 930.0,350.4 931.5,350.3 932.0,490.0 552.0,490.0"/>
<polygon fill="#add6e9" points="552.0,404.1 553.5,402.8 555.0,405.2 556.5,407.0 558.0,401.0 559.5,403.2 561.0,398.2 562.5,397.7 564.0,394.6 565.5,394.7 567.0,393.8 568.5,396.0 570.0,394.6 571.5,388.3 573.0,387.6 574.5,390.1 576.0,384.0 577.5,383.4 579.0,382.7 580.5,379.6 582.0,380.6 583.5,381.4 585.0,381.3 586.5,384.9 588.0,380.6 589.5,380.1 591.0,384.6 592.5,381.7 594.0,384.1 595.5,382.8 597.0,383.7 598.5,380.8 600.0,379.7 601.5,384.0 603.0,382.6 604.5,383.6 606.0,384.8 607.5,385.8 609.0,383.2 610.5,384.2 612.0,388.1 613.5,386.2 615.0,385.1 616.5,387.7 618.0,385.8 619.5,389.5 621.0,385.3 622.5,390.6 624.0,389.4 625.5,388.5 627.0,392.6 628.5,388.8 630.0,389.0 631.5,388.4 633.0,391.8 634.5,393.5 636.0,393.4 637.5,392.1 639.0,395.0 640.5,391.1 642.0,392.8 643.5,395.4 645.0,397.9 646.5,396.3 648.0,397.2 649.5,398.2 651.0,396.3 652.5,400.2 654.0,399.4 655.5,397.4 657.0,398.2 658.5,401.3 660.0,398.9 661.5,398.2 663.0,402.8 664.5,400.9 666.0,401.2 667.5,402.4 669.0,404.2 670.5,399.7 672.0,401.3 673.5,399.8 675.0,402.3 676.5,403.2 678.0,405.7 679.5,404.8 681.0,404.6 682.5,403.8 684.0,405.2 685.5,403.6 687.0,407.5 688.5,407.4 690.0,408.0 691.5,404.0 693.0,407.6 694.5,408.4 696.0,407.1 697.5,409.9 699.0,410.2 700.5,409.5 702.0,410.3 703.5,409.5 705.0,411.2 706.5,406.8 708.0,410.7 709.5,411.0 711.0,410.7 712.5,408.9 714.0,407.8 715.5,411.5 717.0,413.1 718.5,410.0 720.0,409.9 721.5,410.2 723.0,409.7 724.5,413.6 726.0,415.8 727.5,415.0 729.0,412.5 730.5,414.9 732.0,411.3 733.5,416.3 735.0,413.4 736.5,411.7 738.0,415.9 739.5,413.1 741.0,414.3 742.5,413.2 744.0,416.0 745.5,417.0 747.0,418.9 748.5,414.4 750.0,419.7 751.5,415.6 753.0,416.6 754.5,419.5 756.0,418.0 757.5,418.3 759.0,420.1 760.5,418.2 762.0,422.0 763.5,418.6 765.0,422.7 766.5,422.7 768.0,421.2 769.5,418.3 771.0,423.2 772.5,418.7 774.0,421.9 775.5,421.6 777.0,419.6 778.5,423.3 780.0,424.1 781.5,422.9 783.0,421.3 784.5,421.7 786.0,421.8 787.5,419.1 789.0,422.8 790.5,423.2 792.0,421.7 793.5,422.3 795.0,417.9 796.5,421.7 798.0,415.6 799.5,417.7 801.0,414.7 802.5,415.5 804.0,415.8 805.5,414.7 807.0,412.0 808.5,410.1 810.0,407.9 811.5,408.1 813.0,406.2 814.5,404.4 816.0,406.6 817.5,404.1 819.0,402.4 820.5,399.9 822.0,402.6 823.5,398.9 825.0,398.8 826.5,400.1 828.0,400.5 829.5,401.7 831.0,399.7 832.5,400.5 834.0,399.8 835.5,398.0 837.0,397.5 838.5,392.8 840.0,393.2 841.5,391.2 843.0,395.8 844.5,394.2 846.0,392.9 847.5,389.8 849.0,389.6 850.5,387.7 852.0,389.9 853.5,391.4 855.0,386.3 856.5,383.9 858.0,384.0 859.5,384.4 861.0,387.0 862.5,385.5 864.0,382.5 865.5,379.5 867.0,378.6 868.5,378.1 870.0,381.2 871.5,378.4 873.0,380.8 874.5,379.5 876.0,377.7 877.5,374.6 879.0,375.7 880.5,370.2 882.0,369.0 883.5,370.8 885.0,369.3 886.5,366.7 888.0,366.2 889.5,364.0 891.0,368.9 892.5,366.9 894.0,367.6 895.5,367.1 897.0,362.9 898.5,364.0 900.0,361.1 901.5,363.2 903.0,362.9 904.5,357.9 906.0,356.6 907.5,357.3 909.0,359.1 910.5,357.4 912.0,354.8 913.5,359.6 915.0,359.0 916.5,356.7 918.0,353.8 919.5,358.8 921.0,356.2 922.5,353.0 924.0,354.3 925.5,355.9 927.0,357.2 928.5,354.4 930.0,355.1 931.5,352.4 932.0,490.0 552.0,490.0"/>
<polygon fill="#9ecce4" points="552.0,406.3 553.5,410.8 555.0,407.2 556.5,404.9 558.0,407.0 559.5,402.6 561.0,401.9 562.5,402.4 564.0,402.1 565.5,401.2 567.0,400.5 568.5,397.4 570.0,393.7 571.5,397.0 573.0,391.1 574.5,392.8 576.0,391.1 577.5,391.7 579.0,390.8 580.5,386.8 582.0,389.6 583.5,390.0 585.0,388.6 586.5,386.4 588.0,391.7 589.5,389.7 591.0,386.0 592.5,387.3 594.0,392.5 595.5,387.4 597.0,388.6 598.5,391.4 600.0,391.7 601.5,390.9 603.0,392.0 604.5,387.6 606.0,388.5 607.5,395.0 609.0,394.3 610.5,389.4 612.0,390.0 613.5,391.7 615.0,396.9 616.5,392.5 618.0,396.1 619.5,398.3 621.0,396.7 622.5,399.1 624.0,395.0 625.5,394.7 627.0,394.2 628.5,399.7 630.0,395.7 631.5,402.1 633.0,400.7 634.5,397.6 636.0,402.3 637.5,398.3 639.0,401.1 640.5,398.8 642.0,404.0 643.5,405.2 645.0,405.9 646.5,400.1 648.0,406.4 649.5,404.9 651.0,407.2 652.5,405.5 654.0,406.8 655.5,407.1 657.0,409.0 658.5,404.6 660.0,404.9 661.5,408.6 663.0,407.1 664.5,408.1 666.0,405.7 667.5,411.1 669.0,406.4 670.5,412.2 672.0,412.4 673.5,410.2 675.0,408.2 676.5,412.1 678.0,409.3 679.5,411.1 681.0,409.2 682.5,415.5 684.0,412.8 685.5,411.7 687.0,410.2 688.5,414.9 690.0,416.0 691.5,416.3 693.0,411.4 694.5,413.5 696.0,413.4 697.5,416.8 699.0,412.9 700.5,416.3 702.0,419.1 703.5,418.0 705.0,413.0 706.5,413.8 708.0,414.3 709.5,418.6 711.0,418.2 712.5,417.9 714.0,417.8 715.5,417.7 717.0,419.4 718.5,419.9 720.0,422.0 721.5,421.0 723.0,421.8 724.5,422.8 726.0,422.6 727.5,422.0 729.0,417.6 730.5,422.4 732.0,423.8 733.5,421.2 735.0,424.5 736.5,420.0 738.0,425.5 739.5,422.4 741.0,424.5 742.5,421.8 744.0,422.5 745.5,423.2 747.0,423.4 748.5,422.1 750.0,424.9 751.5,429.0 753.0,427.1 754.5,429.4 756.0,428.6 757.5,429.4 759.0,430.9 760.5,429.6 762.0,426.6 763.5,426.7 765.0,428.1 766.5,425.7 768.0,427.4 769.5,432.3 771.0,432.8 772.5,429.0 774.0,432.4 775.5,432.7 777.0,433.8 778.5,433.4 780.0,431.9 781.5,428.6 783.0,433.1 784.5,429.2 786.0,431.0 787.5,428.8 789.0,429.6 790.5,432.1 792.0,426.2 793.5,428.4 795.0,428.8 796.5,427.6 798.0,430.0 799.5,425.9 801.0,428.4 802.5,425.6 804.0,426.2 805.5,418.8 807.0,418.4 808.5,417.6 810.0,420.5 811.5,413.1 813.0,413.5 814.5,415.3 816.0,415.9 817.5,409.0 819.0,409.4 820.5,410.1 822.0,409.6 823.5,409.4 825.0,408.9 826.5,404.9 828.0,404.4 829.5,402.3 831.0,406.3 832.5,402.5 834.0,402.3 835.5,406.6 837.0,403.8 838.5,402.9 840.0,402.8 841.5,401.7 843.0,401.6 844.5,398.2 846.0,395.8 847.5,395.0 849.0,393.9 850.5,395.6 852.0,393.3 853.5,392.3 855.0,394.2 856.5,396.7 858.0,394.1 859.5,390.4 861.0,393.0 862.5,388.1 864.0,386.6 865.5,387.2 867.0,387.0 868.5,388.0 870.0,385.5 871.5,386.5 873.0,381.3 874.5,386.2 876.0,381.0 877.5,383.0 879.0,376.2 880.5,380.4 882.0,375.0 883.5,378.1 885.0,376.4 886.5,374.7 888.0,371.3 889.5,368.7 891.0,369.1 892.5,373.3 894.0,367.4 895.5,370.1 897.0,368.8 898.5,368.6 900.0,364.5 901.5,363.8 903.0,363.0 904.5,368.6 906.0,364.0 907.5,365.4 909.0,364.4 910.5,361.6 912.0,360.2 913.5,359.6 915.0,365.0 916.5,359.8 918.0,365.2 919.5,360.8 921.0,363.0 922.5,358.7 924.0,362.9 925.5,358.9 927.0,359.4 928.5,360.2 930.0,357.1 931.5,358.1 932.0,490.0 552.0,490.0"/>
<polygon fill="#8fc1de" points="552.0,413.2 553.5,409.3 555.0,410.1 556.5,412.6 558.0,407.6 559.5,406.3 561.0,405.5 562.5,405.8 564.0,404.6 565.5,405.7 567.0,403.4 568.5,405.4 570.0,398.3 571.5,401.9 573.0,402.2 574.5,396.6 576.0,394.1 577.5,396.2 579.0,392.7 580.5,394.7 582.0,396.8 583.5,392.3 585.0,392.6 586.5,395.5 588.0,393.3 589.5,393.9 591.0,395.7 592.5,393.4 594.0,393.2 595.5,395.5 597.0,396.5 598.5,400.2 600.0,397.5 601.5,394.3 603.0,395.9 604.5,400.2 606.0,399.3 607.5,402.1 609.0,403.2 610.5,402.9 612.0,397.7 613.5,404.4 615.0,401.7 616.5,400.0 618.0,400.0 619.5,405.6 621.0,401.2 622.5,400.7 624.0,402.5 625.5,407.9 627.0,404.9 628.5,407.4 630.0,403.0 631.5,406.3 633.0,405.8 634.5,405.4 636.0,409.3 637.5,407.5 639.0,406.2 640.5,413.1 642.0,409.9 643.5,408.1 645.0,407.3 646.5,412.7 648.0,412.1 649.5,409.0 651.0,412.8 652.5,415.3 654.0,414.3 655.5,412.6 657.0,415.1 658.5,416.4 660.0,417.2 661.5,413.7 663.0,418.9 664.5,420.2 666.0,418.9 667.5,420.1 669.0,416.7 670.5,420.9 672.0,415.8 673.5,416.4 675.0,419.4 676.5,422.0 678.0,416.1 679.5,417.3 681.0,416.3 682.5,419.5 684.0,417.6 685.5,418.2 687.0,422.6 688.5,421.7 690.0,424.6 691.5,420.8 693.0,423.2 694.5,418.4 696.0,425.7 697.5,420.6 699.0,422.7 700.5,423.2 702.0,426.8 703.5,423.6 705.0,427.6 706.5,425.1 708.0,422.4 709.5,427.3 711.0,422.8 712.5,429.1 714.0,425.2 715.5,423.8 717.0,429.6 718.5,425.1 720.0,426.0 721.5,425.8 723.0,428.5 724.5,423.9 726.0,426.8 727.5,425.5 729.0,430.8 730.5,424.8 732.0,429.6 733.5,427.3 735.0,429.0 736.5,430.1 738.0,431.5 739.5,427.5 741.0,428.6 742.5,428.1 744.0,434.8 745.5,429.1 747.0,429.4 748.5,432.7 750.0,433.5 751.5,436.2 753.0,430.4 754.5,432.1 756.0,432.0 757.5,435.5 759.0,434.9 760.5,435.0 762.0,439.0 763.5,437.7 765.0,439.5 766.5,440.6 768.0,435.9 769.5,441.3 771.0,437.7 772.5,435.4 774.0,442.2 775.5,436.5 777.0,436.3 778.5,438.7 780.0,439.1 781.5,443.7 783.0,442.6 784.5,438.8 786.0,439.2 787.5,441.2 789.0,440.5 790.5,438.9 792.0,437.4 793.5,434.0 795.0,434.6 796.5,437.3 798.0,436.3 799.5,437.5 801.0,437.2 802.5,436.2 804.0,429.0 805.5,426.7 807.0,431.4 808.5,427.5 810.0,423.2 811.5,425.6 813.0,420.9 814.5,419.3 816.0,418.8 817.5,418.6 819.0,418.3 820.5,412.6 822.0,417.1 823.5,415.6 825.0,413.9 826.5,414.8 828.0,415.2 829.5,408.7 831.0,411.7 832.5,412.6 834.0,412.3 835.5,411.3 837.0,407.2 838.5,412.5 840.0,410.6 841.5,405.7 843.0,406.5 844.5,409.7 846.0,403.3 847.5,404.0 849.0,407.4 850.5,406.2 852.0,400.5 853.5,403.5 855.0,399.9 856.5,401.5 858.0,401.5 859.5,395.9 861.0,395.8 862.5,394.8 864.0,394.2 865.5,391.6 867.0,391.4 868.5,392.5 870.0,391.7 871.5,388.2 873.0,391.1 874.5,392.8 876.0,388.8 877.5,385.7 879.0,386.8 880.5,383.3 882.0,379.9 883.5,380.7 885.0,375.7 886.5,379.9 888.0,375.3 889.5,376.1 891.0,379.7 892.5,377.5 894.0,377.2 895.5,375.0 897.0,374.2 898.5,373.9 900.0,375.1 901.5,368.9 903.0,372.8 904.5,368.9 906.0,368.1 907.5,372.0 909.0,369.9 910.5,371.4 912.0,371.3 913.5,368.9 915.0,365.7 916.5,364.1 918.0,367.7 919.5,368.9 921.0,365.3 922.5,363.5 924.0,362.7 925.5,363.7 927.0,367.4 928.5,361.9 930.0,363.4 931.5,363.6 932.0,490.0 552.0,490.0"/>
<polygon fill="#82b7d9" points="552.0,415.6 553.5,417.9 555.0,410.0 556.5,410.5 558.0,416.4 559.5,415.9 561.0,408.4 562.5,409.2 564.0,409.9 565.5,407.5 567.0,407.5 568.5,407.2 570.0,404.6 571.5,402.2 573.0,401.7 574.5,401.5 576.0,400.2 577.5,403.7 579.0,403.5 580.5,399.6 582.0,404.1 583.5,403.8 585.0,400.9 586.5,402.4 588.0,400.1 589.5,406.4 591.0,403.7 592.5,399.8 594.0,400.8 595.5,405.4 597.0,403.2 598.5,406.1 600.0,402.4 601.5,407.5 603.0,408.0 604.5,402.7 606.0,407.1 607.5,404.3 609.0,409.0 610.5,410.2 612.0,410.6 613.5,406.5 615.0,405.8 616.5,410.9 618.0,410.5 619.5,407.5 621.0,408.4 622.5,412.1 624.0,408.8 625.5,413.5 627.0,410.8 628.5,411.5 630.0,413.3 631.5,414.7 633.0,416.8 634.5,411.6 636.0,417.8 637.5,414.2 639.0,415.3 640.5,418.6 642.0,419.5 643.5,419.4 645.0,422.3 646.5,417.1 648.0,418.5 649.5,421.9 651.0,419.2 652.5,418.8 654.0,419.9 655.5,424.9 657.0,425.8 658.5,425.4 660.0,427.9 661.5,426.8 663.0,423.1 664.5,423.4 666.0,427.0 667.5,421.8 669.0,426.5 670.5,422.5 672.0,422.5 673.5,426.5 675.0,423.8 676.5,430.3 678.0,430.1 679.5,427.0 681.0,425.1 682.5,424.7 684.0,428.1 685.5,428.5 687.0,427.4 688.5,430.5 690.0,429.2 691.5,431.5 693.0,426.3 694.5,426.2 696.0,429.0 697.5,430.1 699.0,428.4 700.5,432.1 702.0,428.7 703.5,429.7 705.0,431.3 706.5,433.5 708.0,434.2 709.5,431.2 711.0,432.1 712.5,436.3 714.0,436.6 715.5,434.3 717.0,430.4 718.5,433.5 720.0,435.3 721.5,432.6 723.0,430.9 724.5,438.9 726.0,438.5 727.5,432.5 729.0,435.5 730.5,437.0 732.0,434.7 733.5,433.0 735.0,438.8 736.5,439.3 738.0,436.8 739.5,434.2 741.0,437.1 742.5,435.1 744.0,442.6 745.5,435.6 747.0,438.0 748.5,442.3 750.0,437.6 751.5,437.8 753.0,437.9 754.5,439.1 756.0,442.5 757.5,445.4 759.0,440.4 760.5,440.9 762.0,446.2 763.5,443.9 765.0,443.6 766.5,442.4 768.0,443.8 769.5,450.2 771.0,443.7 772.5,445.3 774.0,449.7 775.5,451.4 777.0,452.0 778.5,448.9 780.0,453.3 781.5,450.0 783.0,447.0 784.5,448.0 786.0,449.6 787.5,449.3 789.0,444.0 790.5,444.1 792.0,449.8 793.5,442.5 795.0,447.8 796.5,443.5 798.0,442.3 799.5,442.0 801.0,442.5 802.5,445.2 804.0,436.8 805.5,441.0 807.0,435.1 808.5,432.3 810.0,435.4 811.5,430.6 813.0,427.7 814.5,428.1 816.0,429.8 817.5,428.5 819.0,424.6 820.5,418.8 822.0,424.4 823.5,422.5 825.0,424.3 826.5,424.1 828.0,418.5 829.5,422.1 831.0,421.3 832.5,416.2 834.0,416.5 835.5,415.9 837.0,415.2 838.5,414.8 840.0,412.0 841.5,412.2 843.0,417.0 844.5,412.2 846.0,413.3 847.5,414.6 849.0,412.8 850.5,407.9 852.0,412.6 853.5,410.9 855.0,411.7 856.5,408.8 858.0,408.3 859.5,408.0 861.0,402.5 862.5,404.8 864.0,401.6 865.5,404.4 867.0,397.7 868.5,400.0 870.0,397.4 871.5,400.4 873.0,395.5 874.5,398.6 876.0,397.2 877.5,395.8 879.0,388.1 880.5,393.0 882.0,389.7 883.5,387.5 885.0,385.6 886.5,379.9 888.0,385.8 889.5,382.4 891.0,380.9 892.5,379.1 894.0,382.0 895.5,381.2 897.0,381.1 898.5,375.0 900.0,375.2 901.5,374.1 903.0,372.6 904.5,374.1 906.0,371.3 907.5,377.2 909.0,372.2 910.5,370.6 912.0,370.4 913.5,375.6 915.0,371.0 916.5,372.9 918.0,372.1 919.5,375.1 921.0,376.1 922.5,370.7 924.0,373.0 925.5,374.9 927.0,371.2 928.5,374.5 930.0,372.9 931.5,369.5 932.0,490.0 552.0,490.0"/>
<polygon fill="#76add2" points="552.0,420.1 553.5,417.5 555.0,413.4 556.5,417.4 558.0,419.0 559.5,415.7 561.0,414.8 562.5,413.7 564.0,417.2 565.5,414.7 567.0,410.2 568.5,411.0 570.0,410.4 571.5,415.0 573.0,412.2 574.5,406.6 576.0,413.0 577.5,404.7 579.0,409.0 580.5,407.4 582.0,410.2 583.5,408.0 585.0,405.4 586.5,409.5 588.0,412.4 589.5,412.4 591.0,409.0 592.5,408.1 594.0,413.0 595.5,413.8 597.0,409.1 598.5,415.2 600.0,416.5 601.5,412.0 603.0,412.0 604.5,415.3 606.0,417.7 607.5,411.8 609.0,413.1 610.5,413.8 612.0,417.8 613.5,413.5 615.0,417.1 616.5,417.1 618.0,419.0 619.5,414.9 621.0,422.5 622.5,423.4 624.0,420.1 625.5,422.7 627.0,417.9 628.5,424.8 630.0,422.2 631.5,424.5 633.0,426.0 634.5,422.1 636.0,427.6 637.5,421.8 639.0,420.8 640.5,425.5 642.0,429.5 643.5,430.0 645.0,431.0 646.5,427.7 648.0,431.9 649.5,429.1 651.0,426.0 652.5,430.8 654.0,432.9 655.5,430.1 657.0,432.2 658.5,429.7 660.0,430.4 661.5,431.8 663.0,432.9 664.5,432.7 666.0,429.6 667.5,429.1 669.0,432.2 670.5,435.7 672.0,436.2 673.5,432.0 675.0,432.4 676.5,434.9 678.0,432.1 679.5,436.1 681.0,438.9 682.5,433.0 684.0,436.6 685.5,438.0 687.0,438.4 688.5,438.3 690.0,438.5 691.5,434.9 693.0,440.1 694.5,441.1 696.0,433.7 697.5,441.7 699.0,437.5 700.5,434.6 702.0,434.7 703.5,441.4 705.0,440.6 706.5,436.2 708.0,439.2 709.5,441.0 711.0,444.4 712.5,438.9 714.0,442.9 715.5,438.6 717.0,438.5 718.5,438.4 720.0,440.9 721.5,442.9 723.0,440.4 724.5,439.5 726.0,440.2 727.5,439.3 729.0,440.5 730.5,441.9 732.0,443.8 733.5,441.2 735.0,444.1 736.5,444.0 738.0,448.9 739.5,444.9 741.0,449.3 742.5,445.6 744.0,443.7 745.5,447.6 747.0,444.2 748.5,444.8 750.0,444.5 751.5,450.4 753.0,453.2 754.5,448.7 756.0,448.7 757.5,449.8 759.0,449.6 760.5,453.1 762.0,451.0 763.5,449.5 765.0,456.3 766.5,454.3 768.0,449.9 769.5,457.8 771.0,457.3 772.5,454.5 774.0,457.5 775.5,460.6 777.0,456.6 778.5,457.4 780.0,456.8 781.5,458.6 783.0,459.1 784.5,459.2 786.0,460.7 787.5,453.2 789.0,454.7 790.5,458.4 792.0,457.5 793.5,455.2 795.0,455.5 796.5,452.1 798.0,457.0 799.5,453.1 801.0,450.5 802.5,446.9 804.0,444.6 805.5,449.8 807.0,447.2 808.5,438.8 810.0,439.7 811.5,439.4 813.0,437.8 814.5,435.0 816.0,437.9 817.5,431.5 819.0,431.4 820.5,433.5 822.0,430.4 823.5,428.4 825.0,426.5 826.5,426.4 828.0,427.7 829.5,428.7 831.0,423.5 832.5,423.8 834.0,423.4 835.5,422.5 837.0,426.7 838.5,422.9 840.0,420.0 841.5,419.7 843.0,423.2 844.5,416.7 846.0,420.6 847.5,414.0 849.0,414.7 850.5,412.8 852.0,418.6 853.5,412.1 855.0,412.0 856.5,409.8 858.0,410.9 859.5,414.2 861.0,413.2 862.5,413.8 864.0,413.1 865.5,408.7 867.0,410.9 868.5,402.6 870.0,408.9 871.5,403.6 873.0,400.5 874.5,404.3 876.0,403.7 877.5,397.7 879.0,393.3 880.5,398.3 882.0,395.4 883.5,392.1 885.0,393.6 886.5,384.6 888.0,384.0 889.5,383.7 891.0,382.0 892.5,387.2 894.0,385.8 895.5,380.4 897.0,380.1 898.5,379.4 900.0,382.4 901.5,382.6 903.0,384.9 904.5,379.3 906.0,384.5 907.5,379.4 909.0,378.8 910.5,377.3 912.0,376.9 913.5,383.2 915.0,383.1 916.5,380.4 918.0,375.5 919.5,375.3 921.0,374.9 922.5,376.4 924.0,379.5 925.5,373.4 927.0,377.3 928.5,378.4 930.0,372.5 931.5,376.1 932.0,490.0 552.0,490.0"/>
<polygon fill="#6ba0cd" points="552.0,422.8 553.5,420.9 555.0,419.8 556.5,423.5 558.0,420.7 559.5,418.0 561.0,418.2 562.5,422.8 564.0,421.8 565.5,422.0 567.0,418.5 568.5,414.4 570.0,414.4 571.5,415.9 573.0,418.4 574.5,411.9 576.0,418.8 577.5,418.3 579.0,415.5 580.5,410.9 582.0,418.4 583.5,415.4 585.0,418.1 586.5,417.6 588.0,419.5 589.5,417.0 591.0,422.4 592.5,422.8 594.0,423.0 595.5,420.6 597.0,418.3 598.5,419.3 600.0,418.7 601.5,424.9 603.0,424.3 604.5,424.7 606.0,425.5 607.5,427.5 609.0,425.2 610.5,422.3 612.0,426.7 613.5,422.7 615.0,426.3 616.5,422.7 618.0,429.4 619.5,426.5 621.0,425.2 622.5,431.6 624.0,424.6 625.5,432.8 627.0,431.8 628.5,426.9 630.0,432.9 631.5,431.8 633.0,435.4 634.5,433.1 636.0,432.2 637.5,437.4 639.0,430.3 640.5,437.1 642.0,431.5 643.5,433.6 645.0,432.7 646.5,440.1 648.0,436.8 649.5,439.9 651.0,436.2 652.5,441.0 654.0,440.8 655.5,436.4 657.0,440.5 658.5,443.1 660.0,439.0 661.5,443.2 663.0,440.0 664.5,441.0 666.0,446.2 667.5,446.6 669.0,447.3 670.5,442.3 672.0,443.8 673.5,446.1 675.0,445.9 676.5,443.4 678.0,447.2 679.5,443.2 681.0,448.4 682.5,444.3 684.0,441.3 685.5,447.2 687.0,441.9 688.5,446.9 690.0,441.5 691.5,450.1 693.0,446.3 694.5,448.2 696.0,443.0 697.5,447.7 699.0,445.6 700.5,444.6 702.0,450.0 703.5,443.2 705.0,447.5 706.5,444.2 708.0,451.3 709.5,452.0 711.0,444.5 712.5,448.6 714.0,448.9 715.5,451.4 717.0,451.8 718.5,448.5 720.0,454.1 721.5,447.6 723.0,447.4 724.5,453.8 726.0,447.8 727.5,448.6 729.0,451.7 730.5,450.5 732.0,449.2 733.5,456.4 735.0,452.5 736.5,455.6 738.0,451.0 739.5,457.2 741.0,451.4 742.5,458.1 744.0,455.9 745.5,459.7 747.0,458.4 748.5,457.6 750.0,457.2 751.5,460.6 753.0,457.4 754.5,454.8 756.0,462.6 757.5,462.1 759.0,461.5 760.5,462.6 762.0,458.6 763.5,461.4 765.0,465.3 766.5,467.2 768.0,467.4 769.5,461.2 771.0,466.6 772.5,466.1 774.0,465.4 775.5,463.9 777.0,464.2 778.5,467.9 780.0,468.7 781.5,466.2 783.0,466.6 784.5,467.8 786.0,469.2 787.5,467.2 789.0,462.9 790.5,468.9 792.0,463.8 793.5,468.6 795.0,468.3 796.5,460.3 798.0,463.8 799.5,466.8 801.0,460.1 802.5,459.8 804.0,455.8 805.5,451.4 807.0,451.2 808.5,448.6 810.0,448.3 811.5,449.5 813.0,447.1 814.5,448.7 816.0,444.5 817.5,439.8 819.0,443.3 820.5,439.0 822.0,437.5 823.5,439.8 825.0,437.4 826.5,434.0 828.0,435.6 829.5,432.2 831.0,437.6 832.5,430.4 834.0,436.4 835.5,427.6 837.0,426.4 838.5,430.7 840.0,427.0 841.5,428.9 843.0,424.7 844.5,430.4 846.0,428.1 847.5,427.5 849.0,428.9 850.5,428.8 852.0,425.2 853.5,424.8 855.0,417.6 856.5,417.3 858.0,419.9 859.5,424.1 861.0,417.2 862.5,418.4 864.0,412.4 865.5,415.0 867.0,418.3 868.5,414.4 870.0,415.5 871.5,407.1 873.0,407.7 874.5,406.5 876.0,410.6 877.5,402.0 879.0,407.4 880.5,399.3 882.0,402.8 883.5,397.4 885.0,393.6 886.5,398.6 888.0,392.7 889.5,394.5 891.0,388.0 892.5,394.1 894.0,394.6 895.5,386.0 897.0,390.9 898.5,385.8 900.0,383.8 901.5,385.6 903.0,388.0 904.5,390.5 906.0,390.6 907.5,390.4 909.0,386.8 910.5,386.9 912.0,382.3 913.5,387.2 915.0,385.4 916.5,383.5 918.0,388.2 919.5,382.2 921.0,380.9 922.5,380.9 924.0,380.6 925.5,384.4 927.0,386.1 928.5,380.1 930.0,383.0 931.5,383.7 932.0,490.0 552.0,490.0"/>
<polygon fill="#6093c6" points="552.0,424.9 553.5,423.6 555.0,424.8 556.5,420.0 558.0,420.4 559.5,423.7 561.0,422.0 562.5,426.7 564.0,422.1 565.5,427.3 567.0,422.1 568.5,420.7 570.0,424.2 571.5,423.4 573.0,422.9 574.5,426.8 576.0,421.9 577.5,425.9 579.0,427.4 580.5,424.2 582.0,425.1 583.5,429.5 585.0,427.1 586.5,423.9 588.0,423.4 589.5,424.1 591.0,426.8 592.5,425.2 594.0,430.8 595.5,429.3 597.0,428.8 598.5,431.2 600.0,435.5 601.5,429.7 603.0,429.4 604.5,431.2 606.0,431.8 607.5,437.5 609.0,436.2 610.5,434.1 612.0,432.2 613.5,431.6 615.0,432.7 616.5,439.7 618.0,438.3 619.5,434.4 621.0,439.1 622.5,434.7 624.0,439.3 625.5,438.4 627.0,436.9 628.5,443.3 630.0,443.7 631.5,442.4 633.0,439.9 634.5,445.1 636.0,443.6 637.5,446.2 639.0,441.7 640.5,449.6 642.0,442.1 643.5,444.6 645.0,446.7 646.5,445.5 648.0,445.1 649.5,451.0 651.0,454.3 652.5,448.9 654.0,448.9 655.5,453.1 657.0,449.6 658.5,451.8 660.0,454.9 661.5,452.7 663.0,450.4 664.5,449.8 666.0,454.2 667.5,458.4 669.0,458.0 670.5,450.8 672.0,454.5 673.5,454.6 675.0,452.1 676.5,456.5 678.0,455.1 679.5,458.1 681.0,453.6 682.5,459.6 684.0,458.7 685.5,455.8 687.0,452.9 688.5,456.2 690.0,453.1 691.5,458.3 693.0,458.6 694.5,457.7 696.0,461.4 697.5,453.2 699.0,459.4 700.5,460.4 702.0,454.4 703.5,456.6 705.0,454.4 706.5,459.4 708.0,460.9 709.5,457.8 711.0,461.2 712.5,458.5 714.0,461.8 715.5,458.1 717.0,464.7 718.5,460.1 720.0,456.4 721.5,457.5 723.0,463.4 724.5,464.9 726.0,463.1 727.5,459.0 729.0,465.7 730.5,464.6 732.0,459.4 733.5,462.1 735.0,464.9 736.5,459.2 738.0,459.8 739.5,462.8 741.0,467.9 742.5,469.6 744.0,464.0 745.5,469.9 747.0,469.3 748.5,470.5 750.0,468.6 751.5,472.6 753.0,470.2 754.5,473.5 756.0,470.6 757.5,467.8 759.0,471.2 760.5,471.5 762.0,471.0 763.5,472.0 765.0,474.0 766.5,475.5 768.0,473.0 769.5,474.2 771.0,477.0 772.5,477.8 774.0,477.8 775.5,480.8 777.0,477.2 778.5,481.1 780.0,479.6 781.5,483.5 783.0,482.4 784.5,482.6 786.0,479.7 787.5,476.8 789.0,482.4 790.5,478.1 792.0,476.4 793.5,475.1 795.0,475.6 796.5,477.9 798.0,478.3 799.5,474.8 801.0,475.5 802.5,468.9 804.0,469.0 805.5,466.2 807.0,463.7 808.5,462.1 810.0,463.7 811.5,461.5 813.0,454.7 814.5,453.0 816.0,455.9 817.5,452.7 819.0,450.9 820.5,449.0 822.0,448.9 823.5,444.4 825.0,441.8 826.5,443.9 828.0,440.3 829.5,448.0 831.0,443.4 832.5,444.0 834.0,446.0 835.5,443.9 837.0,438.1 838.5,438.4 840.0,435.7 841.5,441.1 843.0,439.8 844.5,436.8 846.0,435.0 847.5,433.4 849.0,434.6 850.5,435.9 852.0,436.8 853.5,435.6 855.0,435.0 856.5,430.4 858.0,429.5 859.5,427.8 861.0,432.7 862.5,424.5 864.0,423.1 865.5,423.1 867.0,427.8 868.5,426.0 870.0,420.2 871.5,423.8 873.0,423.0 874.5,417.7 876.0,413.7 877.5,416.6 879.0,410.6 880.5,406.0 882.0,410.7 883.5,404.2 885.0,401.5 886.5,402.4 888.0,398.5 889.5,395.6 891.0,398.1 892.5,397.1 894.0,393.0 895.5,395.4 897.0,398.0 898.5,393.3 900.0,395.6 901.5,395.0 903.0,391.0 904.5,389.3 906.0,395.1 907.5,394.4 909.0,391.4 910.5,390.4 912.0,396.2 913.5,396.5 915.0,390.3 916.5,393.3 918.0,393.0 919.5,390.6 921.0,387.8 922.5,390.3 924.0,393.0 925.5,392.4 927.0,391.4 928.5,387.8 930.0,388.4 931.5,389.3 932.0,490.0 552.0,490.0"/>
<polygon fill="#5686be" points="552.0,428.9 553.5,428.4 555.0,433.3 556.5,426.3 558.0,434.5 559.5,428.2 561.0,434.2 562.5,429.0 564.0,432.5 565.5,431.0 567.0,428.4 568.5,435.6 570.0,436.1 571.5,431.6 573.0,436.6 574.5,434.3 576.0,439.2 577.5,431.2 579.0,434.6 580.5,433.7 582.0,437.9 583.5,440.0 585.0,441.3 586.5,439.3 588.0,438.6 589.5,443.0 591.0,437.4 592.5,439.5 594.0,444.6 595.5,442.5 597.0,448.2 598.5,440.7 600.0,444.8 601.5,443.0 603.0,441.5 604.5,442.8 606.0,443.2 607.5,446.2 609.0,447.2 610.5,448.3 612.0,446.8 613.5,451.0 615.0,449.7 616.5,454.4 618.0,447.5 619.5,451.0 621.0,451.5 622.5,451.1 624.0,456.1 625.5,450.9 627.0,457.6 628.5,453.6 630.0,454.1 631.5,457.3 633.0,457.5 634.5,455.6 636.0,454.5 637.5,463.0 639.0,458.4 640.5,456.8 642.0,462.2 643.5,461.7 645.0,460.4 646.5,461.0 648.0,466.2 649.5,462.2 651.0,463.5 652.5,468.9 654.0,464.2 655.5,465.1 657.0,463.5 658.5,468.6 660.0,469.2 661.5,467.3 663.0,467.1 664.5,465.7 666.0,470.8 667.5,468.0 669.0,471.5 670.5,467.5 672.0,470.8 673.5,464.6 675.0,466.5 676.5,473.2 678.0,470.9 679.5,470.9 681.0,469.5 682.5,469.4 684.0,467.0 685.5,466.9 687.0,471.3 688.5,471.9 690.0,468.1 691.5,471.7 693.0,467.2 694.5,471.6 696.0,467.8 697.5,471.0 699.0,469.3 700.5,471.6 702.0,468.1 703.5,471.5 705.0,472.9 706.5,468.8 708.0,470.6 709.5,474.2 711.0,473.3 712.5,474.1 714.0,475.8 715.5,474.2 717.0,471.3 718.5,473.5 720.0,477.2 721.5,475.1 723.0,477.0 724.5,473.8 726.0,474.8 727.5,479.7 729.0,478.6 730.5,477.3 732.0,472.6 733.5,477.4 735.0,472.5 736.5,480.8 738.0,481.4 739.5,479.4 741.0,475.8 742.5,481.6 744.0,476.1 745.5,482.6 747.0,480.4 748.5,476.5 750.0,484.9 751.5,481.5 753.0,485.6 754.5,484.9 756.0,484.1 757.5,487.7 759.0,482.3 760.5,489.3 762.0,485.2 763.5,483.3 765.0,487.0 766.5,485.5 768.0,486.4 769.5,492.3 771.0,488.7 772.5,490.0 774.0,492.1 775.5,492.9 777.0,499.6 778.5,500.3 780.0,500.9 781.5,501.5 783.0,496.0 784.5,498.6 786.0,493.4 787.5,498.7 789.0,497.1 790.5,495.9 792.0,490.8 793.5,489.0 795.0,496.0 796.5,492.0 798.0,492.0 799.5,493.7 801.0,485.6 802.5,488.4 804.0,484.0 805.5,484.7 807.0,479.5 808.5,474.9 810.0,479.5 811.5,471.2 813.0,473.1 814.5,471.7 816.0,464.2 817.5,466.0 819.0,461.1 820.5,457.8 822.0,457.0 823.5,463.0 825.0,457.0 826.5,457.6 828.0,456.8 829.5,451.8 831.0,457.7 832.5,456.9 834.0,457.4 835.5,452.0 837.0,450.0 838.5,450.5 840.0,453.3 841.5,451.9 843.0,448.9 844.5,449.2 846.0,445.1 847.5,451.2 849.0,446.4 850.5,446.0 852.0,447.8 853.5,441.7 855.0,445.7 856.5,441.6 858.0,445.0 859.5,437.8 861.0,438.4 862.5,440.4 864.0,437.9 865.5,435.7 867.0,436.3 868.5,431.9 870.0,432.7 871.5,427.6 873.0,433.5 874.5,427.4 876.0,430.4 877.5,425.3 879.0,423.0 880.5,420.6 882.0,413.4 883.5,416.6 885.0,409.5 886.5,413.8 888.0,412.2 889.5,410.4 891.0,410.8 892.5,406.5 894.0,407.8 895.5,409.4 897.0,401.7 898.5,400.0 900.0,402.0 901.5,402.8 903.0,399.6 904.5,400.2 906.0,406.0 907.5,401.7 909.0,399.5 910.5,399.8 912.0,403.2 913.5,399.6 915.0,402.1 916.5,402.5 918.0,401.5 919.5,401.9 921.0,404.8 922.5,397.3 924.0,405.4 925.5,398.7 927.0,397.1 928.5,403.5 930.0,401.6 931.5,401.3 932.0,490.0 552.0,490.0"/>
<polygon fill="#ffffff" opacity="0.14" points="637.0,420.5 639.9,421.5 639.9,430.8 638.4,433.8 637.0,430.8"/>
<polygon fill="#5a8cc4" opacity="0.14" points="856.2,433.7 858.3,434.7 858.3,441.9 857.2,444.9 856.2,441.9"/>
<polygon fill="#4575b4" opacity="0.14" points="760.9,441.4 764.0,442.4 764.0,448.8 762.4,451.8 760.9,448.8"/>
<polygon fill="#e2f2f2" opacity="0.4" points="629.4,341.4 632.6,342.4 632.6,351.0 631.0,354.0 629.4,351.0"/>
<polygon fill="#e2f2f2" opacity="0.4" points="738.0,373.7 740.5,374.7 740.5,383.9 739.3,386.9 738.0,383.9"/>
<polygon fill="#4575b4" opacity="0.14" points="646.3,437.1 649.3,438.1 649.3,448.9 647.8,451.9 646.3,448.9"/>
<polygon fill="#4575b4" opacity="0.14" points="598.6,404.3 601.1,405.3 601.1,416.7 599.8,419.7 598.6,416.7"/>
<polygon fill="#4575b4" opacity="0.14" points="709.2,455.6 711.3,456.6 711.3,467.1 710.2,470.1 709.2,467.1"/>
<polygon fill="#4575b4" opacity="0.14" points="786.2,456.6 789.0,457.6 789.0,473.1 787.6,476.1 786.2,473.1"/>
<polygon fill="#e0f3f8" opacity="0.14" points="841.9,423.6 843.8,424.6 843.8,436.2 842.8,439.2 841.9,436.2"/>
<polygon fill="#ffffff" opacity="0.14" points="892.9,386.3 894.5,387.3 894.5,395.2 893.7,398.2 892.9,395.2"/>
<polygon fill="#4575b4" opacity="0.14" points="727.6,413.1 730.2,414.1 730.2,422.5 728.9,425.5 727.6,422.5"/>
<polygon fill="#e0f3f8" opacity="0.14" points="560.9,403.6 564.1,404.6 564.1,418.5 562.5,421.5 560.9,418.5"/>
<polygon fill="#ffffff" opacity="0.14" points="860.2,419.4 863.0,420.4 863.0,431.5 861.6,434.5 860.2,431.5"/>
<polygon fill="#e0f3f8" opacity="0.2" points="609.1,361.1 611.2,362.1 611.2,367.1 610.1,370.1 609.1,367.1"/>
<polygon fill="#f6f0d4" opacity="0.4" points="720.3,379.6 722.5,380.6 722.5,394.0 721.4,397.0 720.3,394.0"/>
<polygon fill="#4575b4" opacity="0.14" points="851.9,402.1 853.6,403.1 853.6,410.4 852.8,413.4 851.9,410.4"/>
<polygon fill="#4575b4" opacity="0.14" points="818.2,408.5 821.2,409.5 821.2,423.4 819.7,426.4 818.2,423.4"/>
<polygon fill="#ffffff" opacity="0.2" points="599.8,367.6 602.2,368.6 602.2,380.4 601.0,383.4 599.8,380.4"/>
<polygon fill="#f3f1dc" opacity="0.4" points="717.9,366.7 720.1,367.7 720.1,386.3 719.0,389.3 717.9,386.3"/>
<polygon fill="#ffffff" opacity="0.2" points="820.9,378.2 823.5,379.2 823.5,391.5 822.2,394.5 820.9,391.5"/>
<polygon fill="#ffffff" opacity="0.14" points="774.1,433.2 777.4,434.2 777.4,442.9 775.8,445.9 774.1,442.9"/>
<polygon fill="#4575b4" opacity="0.14" points="719.9,435.8 721.7,436.8 721.7,445.6 720.8,448.6 719.9,445.6"/>
<polygon fill="#f6f0d4" opacity="0.4" points="619.7,332.6 622.9,333.6 622.9,342.4 621.3,345.4 619.7,342.4"/>
<polygon fill="#e0f3f8" opacity="0.2" points="764.6,398.5 767.0,399.5 767.0,405.0 765.8,408.0 764.6,405.0"/>
<polygon fill="#ffffff" opacity="0.2" points="894.9,352.9 896.6,353.9 896.6,369.6 895.7,372.6 894.9,369.6"/>
<polygon fill="#e0f3f8" opacity="0.2" points="706.7,400.3 709.8,401.3 709.8,417.7 708.3,420.7 706.7,417.7"/>
<polygon fill="#ffffff" opacity="0.2" points="603.1,369.7 604.9,370.7 604.9,375.9 604.0,378.9 603.1,375.9"/>
<polygon fill="#4575b4" opacity="0.14" points="793.5,455.5 796.2,456.5 796.2,469.2 794.8,472.2 793.5,469.2"/>
<polygon fill="#ffffff" opacity="0.14" points="606.9,415.9 608.9,416.9 608.9,427.7 607.9,430.7 606.9,427.7"/>
<polygon fill="#4575b4" opacity="0.14" points="672.3,455.4 675.8,456.4 675.8,469.3 674.1,472.3 672.3,469.3"/>
<polygon fill="#ffffff" opacity="0.2" points="907.4,344.3 910.6,345.3 910.6,358.6 909.0,361.6 907.4,358.6"/>
<polygon fill="#5a8cc4" opacity="0.14" points="715.2,410.4 718.3,411.4 718.3,419.4 716.8,422.4 715.2,419.4"/>
<polygon fill="#e2f2f2" opacity="0.4" points="808.1,372.2 809.6,373.2 809.6,386.3 808.8,389.3 808.1,386.3"/>
<polygon fill="#f6f0d4" opacity="0.4" points="773.9,381.1 776.7,382.1 776.7,390.9 775.3,393.9 773.9,390.9"/>
<polygon fill="#e0f3f8" opacity="0.2" points="591.0,374.9 593.3,375.9 593.3,385.7 592.1,388.7 591.0,385.7"/>
<polygon fill="#e0f3f8" opacity="0.2" points="745.3,407.4 747.5,408.4 747.5,423.5 746.4,426.5 745.3,423.5"/>
<polygon fill="#ffffff" opacity="0.2" points="895.9,358.6 898.6,359.6 898.6,372.9 897.3,375.9 895.9,372.9"/>
<polygon fill="#4575b4" opacity="0.14" points="924.4,390.2 927.5,391.2 927.5,399.8 925.9,402.8 924.4,399.8"/>
<polygon fill="#f3f1dc" opacity="0.4" points="854.2,337.2 855.9,338.2 855.9,350.9 855.1,353.9 854.2,350.9"/>
<polygon fill="#4575b4" opacity="0.14" points="812.6,454.1 814.5,455.1 814.5,465.7 813.5,468.7 812.6,465.7"/>
<polygon fill="#4575b4" opacity="0.14" points="667.7,432.5 670.5,433.5 670.5,441.0 669.1,444.0 667.7,441.0"/>
<polygon fill="#e2f2f2" opacity="0.4" points="811.7,338.4 815.1,339.4 815.1,347.0 813.4,350.0 811.7,347.0"/>
<polygon fill="#f3f1dc" opacity="0.4" points="810.9,358.7 813.5,359.7 813.5,374.0 812.2,377.0 810.9,374.0"/>
<polygon fill="#e0f3f8" opacity="0.14" points="662.3,411.9 664.6,412.9 664.6,423.5 663.5,426.5 662.3,423.5"/>
<polygon fill="#e0f3f8" opacity="0.14" points="909.2,393.9 912.7,394.9 912.7,410.7 910.9,413.7 909.2,410.7"/>
<polygon fill="#e2f2f2" opacity="0.4" points="763.7,364.9 766.8,365.9 766.8,375.9 765.3,378.9 763.7,375.9"/>
<polygon fill="#f6f0d4" opacity="0.4" points="732.8,380.6 735.9,381.6 735.9,391.7 734.4,394.7 732.8,391.7"/>
<polygon fill="#4575b4" opacity="0.14" points="870.2,389.7 872.0,390.7 872.0,398.1 871.1,401.1 870.2,398.1"/>
<polygon fill="#ffffff" opacity="0.2" points="753.2,405.6 755.7,406.6 755.7,423.7 754.5,426.7 753.2,423.7"/>
<polygon fill="#e2f2f2" opacity="0.4" points="822.7,359.1 824.9,360.1 824.9,377.0 823.8,380.0 822.7,377.0"/>
<polygon fill="#e2f2f2" opacity="0.4" points="668.6,359.4 670.1,360.4 670.1,370.9 669.3,373.9 668.6,370.9"/>
<polygon fill="#ffffff" opacity="0.2" points="637.8,378.0 640.6,379.0 640.6,390.2 639.2,393.2 637.8,390.2"/>
<polygon fill="#4575b4" opacity="0.14" points="590.9,426.8 592.9,427.8 592.9,438.4 591.9,441.4 590.9,438.4"/>
<polygon fill="#ffffff" opacity="0.14" points="593.0,398.5 595.5,399.5 595.5,412.7 594.3,415.7 593.0,412.7"/>
<polygon fill="#f6f0d4" opacity="0.4" points="722.8,365.8 725.5,366.8 725.5,372.6 724.1,375.6 722.8,372.6"/>
<polygon fill="#e0f3f8" opacity="0.14" points="820.5,429.9 823.1,430.9 823.1,445.7 821.8,448.7 820.5,445.7"/>
<polygon fill="#ffffff" opacity="0.14" points="613.4,381.4 615.7,382.4 615.7,391.1 614.6,394.1 613.4,391.1"/>
<polygon fill="#5a8cc4" opacity="0.14" points="589.5,430.9 592.3,431.9 592.3,447.9 590.9,450.9 589.5,447.9"/>
<polygon fill="#5a8cc4" opacity="0.14" points="778.9,475.5 781.5,476.5 781.5,492.9 780.2,495.9 778.9,492.9"/>
<polygon fill="#e0f3f8" opacity="0.2" points="573.6,381.2 575.2,382.2 575.2,394.3 574.4,397.3 573.6,394.3"/>
<polygon fill="#e0f3f8" opacity="0.14" points="818.8,446.4 821.6,447.4 821.6,461.4 820.2,464.4 818.8,461.4"/>
<polygon fill="#e0f3f8" opacity="0.2" points="845.4,377.4 848.4,378.4 848.4,389.9 846.9,392.9 845.4,389.9"/>
<polygon fill="#ffffff" opacity="0.14" points="898.2,372.3 900.0,373.3 900.0,380.7 899.1,383.7 898.2,380.7"/>
<polygon fill="#e2f2f2" opacity="0.4" points="633.9,342.5 635.8,343.5 635.8,357.8 634.9,360.8 633.9,357.8"/>
<polygon fill="#ffffff" opacity="0.2" points="926.8,342.5 929.5,343.5 929.5,359.6 928.2,362.6 926.8,359.6"/>
<polygon fill="#f6f0d4" opacity="0.4" points="858.7,326.1 860.3,327.1 860.3,338.4 859.5,341.4 858.7,338.4"/>
<polygon fill="#e0f3f8" opacity="0.2" points="562.6,392.4 566.0,393.4 566.0,404.2 564.3,407.2 562.6,404.2"/>
<polygon fill="#e2f2f2" opacity="0.4" points="642.3,334.2 644.6,335.2 644.6,340.9 643.5,343.9 642.3,340.9"/>
<polygon fill="#abd9e9" opacity="0.2" points="669.4,390.3 672.2,391.3 672.2,401.8 670.8,404.8 669.4,401.8"/>
<polygon fill="#e0f3f8" opacity="0.14" points="638.4,449.0 641.6,450.0 641.6,455.4 640.0,458.4 638.4,455.4"/>
<polygon fill="#ffffff" opacity="0.2" points="875.4,367.2 877.7,368.2 877.7,380.1 876.6,383.1 875.4,380.1"/>
<polygon fill="#5a8cc4" opacity="0.14" points="773.9,422.7 776.2,423.7 776.2,428.8 775.1,431.8 773.9,428.8"/>
<polygon fill="#4575b4" opacity="0.14" points="708.3,459.0 710.8,460.0 710.8,472.0 709.6,475.0 708.3,472.0"/>
<polygon fill="#abd9e9" opacity="0.2" points="739.0,393.5 742.0,394.5 742.0,401.0 740.5,404.0 739.0,401.0"/>
<polygon fill="#e2f2f2" opacity="0.4" points="778.5,352.6 781.8,353.6 781.8,367.0 780.1,370.0 778.5,367.0"/>
<polygon fill="#4575b4" opacity="0.14" points="573.0,417.0 575.1,418.0 575.1,432.3 574.1,435.3 573.0,432.3"/>
<polygon fill="#e0f3f8" opacity="0.14" points="863.3,419.6 866.0,420.6 866.0,429.0 864.6,432.0 863.3,429.0"/>
<polygon fill="#5a8cc4" opacity="0.14" points="594.5,388.6 596.1,389.6 596.1,403.1 595.3,406.1 594.5,403.1"/>
<polygon fill="#4575b4" opacity="0.14" points="758.0,466.7 761.3,467.7 761.3,480.6 759.7,483.6 758.0,480.6"/>
<polygon fill="#4575b4" opacity="0.14" points="853.2,398.2 856.5,399.2 856.5,410.2 854.9,413.2 853.2,410.2"/>
<polygon fill="#4575b4" opacity="0.14" points="916.4,361.4 919.1,362.4 919.1,374.1 917.8,377.1 916.4,374.1"/>
<polygon fill="#ffffff" opacity="0.14" points="820.0,417.1 822.0,418.1 822.0,433.9 821.0,436.9 820.0,433.9"/>
<polygon fill="#f3f1dc" opacity="0.4" points="853.7,349.4 855.7,350.4 855.7,360.7 854.7,363.7 853.7,360.7"/>
<polygon fill="#ffffff" opacity="0.14" points="823.1,449.2 825.8,450.2 825.8,465.9 824.5,468.9 823.1,465.9"/>
<polygon fill="#4575b4" opacity="0.14" points="911.1,376.7 913.0,377.7 913.0,396.0 912.1,399.0 911.1,396.0"/>
<polygon fill="#4575b4" opacity="0.14" points="885.7,401.4 888.1,402.4 888.1,409.6 886.9,412.6 885.7,409.6"/>
<polygon fill="#f6f0d4" opacity="0.4" points="852.1,328.8 855.3,329.8 855.3,336.5 853.7,339.5 852.1,336.5"/>
<polygon fill="#5a8cc4" opacity="0.14" points="703.8,405.1 705.4,406.1 705.4,424.1 704.6,427.1 703.8,424.1"/>
<polygon fill="#ffffff" opacity="0.2" points="582.5,360.0 585.0,361.0 585.0,379.1 583.7,382.1 582.5,379.1"/>
<polygon fill="#f6f0d4" opacity="0.4" points="771.9,355.5 774.4,356.5 774.4,372.7 773.2,375.7 771.9,372.7"/>
<polygon fill="#ffffff" opacity="0.14" points="737.2,448.3 740.5,449.3 740.5,456.0 738.9,459.0 737.2,456.0"/>
<polygon fill="#e2f2f2" opacity="0.4" points="857.5,346.5 860.7,347.5 860.7,352.5 859.1,355.5 857.5,352.5"/>
<polygon fill="#5a8cc4" opacity="0.14" points="592.3,405.4 595.1,406.4 595.1,422.2 593.7,425.2 592.3,422.2"/>
<polygon fill="#e2f2f2" opacity="0.4" points="702.0,352.7 704.4,353.7 704.4,368.1 703.2,371.1 702.0,368.1"/>
<polygon fill="#f6f0d4" opacity="0.4" points="781.0,362.4 783.2,363.4 783.2,377.0 782.1,380.0 781.0,377.0"/>
<polygon fill="#5a8cc4" opacity="0.14" points="646.1,412.2 647.9,413.2 647.9,427.6 647.0,430.6 646.1,427.6"/>
<polygon fill="#f3f1dc" opacity="0.4" points="841.1,363.6 843.1,364.6 843.1,370.9 842.1,373.9 841.1,370.9"/>
<polygon fill="#5a8cc4" opacity="0.14" points="729.6,444.2 731.3,445.2 731.3,452.4 730.5,455.4 729.6,452.4"/>
<polygon fill="#f6f0d4" opacity="0.4" points="705.5,357.9 708.9,358.9 708.9,366.8 707.2,369.8 705.5,366.8"/>
<polygon fill="#4575b4" opacity="0.14" points="590.0,393.1 592.0,394.1 592.0,400.3 591.0,403.3 590.0,400.3"/>
<polygon fill="#e0f3f8" opacity="0.2" points="881.0,356.5 882.5,357.5 882.5,368.8 881.8,371.8 881.0,368.8"/>
<polygon fill="#e0f3f8" opacity="0.14" points="630.8,392.6 633.0,393.6 633.0,404.7 631.9,407.7 630.8,404.7"/>
<polygon fill="#5a8cc4" opacity="0.14" points="753.8,434.9 756.1,435.9 756.1,442.7 754.9,445.7 753.8,442.7"/>
<polygon fill="#e2f2f2" opacity="0.4" points="711.7,373.6 714.1,374.6 714.1,381.3 712.9,384.3 711.7,381.3"/>
<polygon fill="#e0f3f8" opacity="0.14" points="661.1,440.2 663.5,441.2 663.5,455.2 662.3,458.2 661.1,455.2"/>
<polygon fill="#e2f2f2" opacity="0.4" points="787.6,347.2 789.2,348.2 789.2,354.8 788.4,357.8 787.6,354.8"/>
<polygon fill="#f3f1dc" opacity="0.4" points="876.9,342.1 878.6,343.1 878.6,351.7 877.7,354.7 876.9,351.7"/>
<polygon fill="#4575b4" opacity="0.14" points="816.7,412.8 818.6,413.8 818.6,426.0 817.7,429.0 816.7,426.0"/>
<polygon fill="#e0f3f8" opacity="0.2" points="735.0,389.9 738.3,390.9 738.3,407.7 736.6,410.7 735.0,407.7"/>
<polygon fill="#e0f3f8" opacity="0.14" points="794.6,416.4 796.2,417.4 796.2,432.5 795.4,435.5 794.6,432.5"/>
<polygon fill="#e2f2f2" opacity="0.4" points="801.5,377.4 803.6,378.4 803.6,390.6 802.6,393.6 801.5,390.6"/>
<polygon fill="#f3f1dc" opacity="0.4" points="864.9,349.9 868.0,350.9 868.0,368.0 866.5,371.0 864.9,368.0"/>
<polygon fill="#4575b4" opacity="0.14" points="733.8,464.0 737.2,465.0 737.2,471.9 735.5,474.9 733.8,471.9"/>
<polygon fill="#abd9e9" opacity="0.2" points="880.6,357.0 882.1,358.0 882.1,376.9 881.3,379.9 880.6,376.9"/>
<polygon fill="#f6f0d4" opacity="0.4" points="860.8,361.5 862.8,362.5 862.8,379.1 861.8,382.1 860.8,379.1"/>
<polygon fill="#abd9e9" opacity="0.2" points="730.3,392.7 733.4,393.7 733.4,401.4 731.8,404.4 730.3,401.4"/>
<polygon fill="#ffffff" opacity="0.14" points="590.5,389.5 592.6,390.5 592.6,409.4 591.6,412.4 590.5,409.4"/>
<polygon fill="#e0f3f8" opacity="0.14" points="710.3,410.0 713.7,411.0 713.7,428.5 712.0,431.5 710.3,428.5"/>
<polygon fill="#f3f1dc" opacity="0.4" points="692.0,344.8 694.5,345.8 694.5,351.8 693.3,354.8 692.0,351.8"/>
<polygon fill="#4575b4" opacity="0.14" points="834.7,418.4 837.6,419.4 837.6,437.5 836.1,440.5 834.7,437.5"/>
<polygon fill="#f3f1dc" opacity="0.4" points="711.5,358.1 714.2,359.1 714.2,377.3 712.9,380.3 711.5,377.3"/>
<polygon fill="#f3f1dc" opacity="0.4" points="828.1,335.7 830.6,336.7 830.6,348.7 829.3,351.7 828.1,348.7"/>
<polygon fill="#ffffff" opacity="0.14" points="756.0,413.4 757.6,414.4 757.6,420.0 756.8,423.0 756.0,420.0"/>
<polygon fill="#e0f3f8" opacity="0.2" points="812.3,382.5 815.5,383.5 815.5,401.4 813.9,404.4 812.3,401.4"/>
<polygon fill="#f6f0d4" opacity="0.4" points="690.5,348.8 692.8,349.8 692.8,359.4 691.6,362.4 690.5,359.4"/>
<polygon fill="#abd9e9" opacity="0.2" points="572.3,381.4 575.3,382.4 575.3,387.9 573.8,390.9 572.3,387.9"/>
<polygon fill="#e2f2f2" opacity="0.4" points="826.4,375.6 828.4,376.6 828.4,395.4 827.4,398.4 826.4,395.4"/>
<polygon fill="#5a8cc4" opacity="0.14" points="623.5,420.4 626.4,421.4 626.4,432.7 625.0,435.7 623.5,432.7"/>
<polygon fill="#f3f1dc" opacity="0.4" points="838.4,344.7 841.5,345.7 841.5,360.7 839.9,363.7 838.4,360.7"/>
<polygon fill="#4575b4" opacity="0.14" points="643.9,426.7 646.1,427.7 646.1,440.5 645.0,443.5 643.9,440.5"/>
<polygon fill="#f3f1dc" opacity="0.4" points="869.6,317.5 872.9,318.5 872.9,329.7 871.3,332.7 869.6,329.7"/>
<polygon fill="#e2f2f2" opacity="0.4" points="823.4,368.2 826.3,369.2 826.3,377.5 824.9,380.5 823.4,377.5"/>
<polygon fill="#5a8cc4" opacity="0.14" points="633.5,399.5 636.0,400.5 636.0,413.3 634.8,416.3 633.5,413.3"/>
<polygon fill="#4575b4" opacity="0.14" points="859.3,432.7 862.8,433.7 862.8,444.0 861.1,447.0 859.3,444.0"/>
<polygon fill="#5a8cc4" opacity="0.14" points="770.0,446.8 772.9,447.8 772.9,461.1 771.5,464.1 770.0,461.1"/>
<polygon fill="#ffffff" opacity="0.2" points="741.2,397.9 743.9,398.9 743.9,413.0 742.6,416.0 741.2,413.0"/>
<polygon fill="#e2f2f2" opacity="0.4" points="738.0,346.5 740.0,347.5 740.0,363.3 739.0,366.3 738.0,363.3"/>
<polygon fill="#ffffff" opacity="0.14" points="845.2,406.3 848.1,407.3 848.1,416.4 846.7,419.4 845.2,416.4"/>
<polygon fill="#ffffff" opacity="0.2" points="792.8,399.7 795.6,400.7 795.6,416.0 794.2,419.0 792.8,416.0"/>
<polygon fill="#e0f3f8" opacity="0.2" points="662.0,388.7 665.4,389.7 665.4,397.3 663.7,400.3 662.0,397.3"/>
<polygon fill="#f6f0d4" opacity="0.4" points="704.1,337.2 707.4,338.2 707.4,347.4 705.8,350.4 704.1,347.4"/>
<polygon fill="#f3f1dc" opacity="0.4" points="770.9,363.2 772.6,364.2 772.6,379.4 771.7,382.4 770.9,379.4"/>
<polygon fill="#4575b4" opacity="0.14" points="656.5,441.6 658.5,442.6 658.5,460.7 657.5,463.7 656.5,460.7"/>
<polygon fill="#ffffff" opacity="0.14" points="683.8,415.8 686.8,416.8 686.8,435.4 685.3,438.4 683.8,435.4"/>
<polygon fill="#e2f2f2" opacity="0.4" points="678.8,369.4 681.2,370.4 681.2,378.2 680.0,381.2 678.8,378.2"/>
<polygon fill="#5a8cc4" opacity="0.14" points="564.9,415.5 566.4,416.5 566.4,425.8 565.6,428.8 564.9,425.8"/>
<polygon fill="#e0f3f8" opacity="0.2" points="745.0,397.5 748.4,398.5 748.4,404.7 746.7,407.7 745.0,404.7"/>
<polygon fill="#5a8cc4" opacity="0.14" points="669.5,395.0 672.4,396.0 672.4,411.9 670.9,414.9 669.5,411.9"/>
<polygon fill="#e0f3f8" opacity="0.14" points="712.5,416.5 714.4,417.5 714.4,426.1 713.4,429.1 712.5,426.1"/>
<polygon fill="#f6f0d4" opacity="0.4" points="678.6,344.2 681.3,345.2 681.3,362.6 680.0,365.6 678.6,362.6"/>
<polygon fill="#f3f1dc" opacity="0.4" points="643.6,349.6 645.5,350.6 645.5,359.1 644.6,362.1 643.6,359.1"/>
<polygon fill="#e0f3f8" opacity="0.14" points="644.6,389.4 646.8,390.4 646.8,407.1 645.7,410.1 644.6,407.1"/>
<polygon fill="#f3f1dc" opacity="0.4" points="694.9,339.2 696.9,340.2 696.9,354.6 695.9,357.6 694.9,354.6"/>
<polygon fill="#f6f0d4" opacity="0.4" points="658.0,335.6 660.5,336.6 660.5,343.7 659.3,346.7 658.0,343.7"/>
<polygon fill="#e0f3f8" opacity="0.14" points="910.8,363.2 912.6,364.2 912.6,376.5 911.7,379.5 910.8,376.5"/>
<polygon fill="#4575b4" opacity="0.14" points="683.9,456.9 685.8,457.9 685.8,475.4 684.9,478.4 683.9,475.4"/>
<polygon fill="#ffffff" opacity="0.14" points="743.0,466.9 745.4,467.9 745.4,482.6 744.2,485.6 743.0,482.6"/>
<polygon fill="#f3f1dc" opacity="0.4" points="779.5,349.9 781.2,350.9 781.2,369.3 780.3,372.3 779.5,369.3"/>
<polygon fill="#f3f1dc" opacity="0.4" points="825.0,369.6 827.4,370.6 827.4,385.2 826.2,388.2 825.0,385.2"/>
<polygon fill="#e0f3f8" opacity="0.14" points="572.1,422.1 575.2,423.1 575.2,433.5 573.7,436.5 572.1,433.5"/>
<polygon fill="#f6f0d4" opacity="0.4" points="656.5,366.5 659.7,367.5 659.7,383.9 658.1,386.9 656.5,383.9"/>
<polygon fill="#e2f2f2" opacity="0.4" points="738.0,351.9 740.9,352.9 740.9,370.0 739.4,373.0 738.0,370.0"/>
<polygon fill="#4575b4" opacity="0.14" points="626.0,409.6 628.9,410.6 628.9,416.5 627.4,419.5 626.0,416.5"/>
<polygon fill="#e0f3f8" opacity="0.14" points="817.9,422.4 819.5,423.4 819.5,436.9 818.7,439.9 817.9,436.9"/>
<polygon fill="#4575b4" opacity="0.14" points="719.1,414.1 721.2,415.1 721.2,431.5 720.2,434.5 719.1,431.5"/>
<polygon fill="#e0f3f8" opacity="0.14" points="708.7,408.3 710.7,409.3 710.7,421.7 709.7,424.7 708.7,421.7"/>
<polygon fill="#4575b4" opacity="0.14" points="926.1,370.7 927.9,371.7 927.9,379.6 927.0,382.6 926.1,379.6"/>
<polygon fill="#e0f3f8" opacity="0.2" points="656.3,386.4 659.6,387.4 659.6,397.5 658.0,400.5 656.3,397.5"/>
<polygon fill="#f3f1dc" opacity="0.4" points="711.9,343.4 713.6,344.4 713.6,363.4 712.8,366.4 711.9,363.4"/>
<polygon fill="#e0f3f8" opacity="0.14" points="868.9,397.4 871.8,398.4 871.8,404.0 870.4,407.0 868.9,404.0"/>
<polygon fill="#f6f0d4" opacity="0.4" points="842.9,347.5 845.2,348.5 845.2,364.4 844.0,367.4 842.9,364.4"/>
<polygon fill="#4575b4" opacity="0.14" points="743.3,461.9 745.0,462.9 745.0,471.8 744.2,474.8 743.3,471.8"/>
<polygon fill="#4575b4" opacity="0.14" points="727.0,422.3 730.3,423.3 730.3,436.3 728.7,439.3 727.0,436.3"/>
<polygon fill="#f6f0d4" opacity="0.4" points="755.0,366.8 756.7,367.8 756.7,380.1 755.9,383.1 755.0,380.1"/>
<polygon fill="#f6f0d4" opacity="0.4" points="678.2,368.2 680.5,369.2 680.5,375.9 679.4,378.9 678.2,375.9"/>
<polygon fill="#abd9e9" opacity="0.2" points="590.4,370.3 593.3,371.3 593.3,388.4 591.8,391.4 590.4,388.4"/>
<polygon fill="#ffffff" opacity="0.2" points="634.5,369.3 637.2,370.3 637.2,385.8 635.9,388.8 634.5,385.8"/>
<polygon fill="#5a8cc4" opacity="0.14" points="762.4,423.0 764.2,424.0 764.2,439.9 763.3,442.9 762.4,439.9"/>
<polygon fill="#f3f1dc" opacity="0.4" points="762.7,370.1 766.0,371.1 766.0,380.8 764.3,383.8 762.7,380.8"/>
<polygon fill="#f3f1dc" opacity="0.4" points="634.2,328.7 637.2,329.7 637.2,344.8 635.7,347.8 634.2,344.8"/>
<polygon fill="#4575b4" opacity="0.14" points="749.5,465.7 751.3,466.7 751.3,479.8 750.4,482.8 749.5,479.8"/>
<polygon fill="#4575b4" opacity="0.14" points="800.0,419.8 803.0,420.8 803.0,432.7 801.5,435.7 800.0,432.7"/>
<polygon fill="#e0f3f8" opacity="0.2" points="645.3,387.4 647.1,388.4 647.1,400.7 646.2,403.7 645.3,400.7"/>
<polygon fill="#4575b4" opacity="0.14" points="694.2,458.7 695.7,459.7 695.7,466.0 694.9,469.0 694.2,466.0"/>
<polygon fill="#ffffff" opacity="0.2" points="703.0,392.2 705.3,393.2 705.3,406.5 704.1,409.5 703.0,406.5"/>
<polygon fill="#e2f2f2" opacity="0.4" points="766.3,361.3 769.2,362.3 769.2,368.0 767.7,371.0 766.3,368.0"/>
<polygon fill="#ffffff" opacity="0.14" points="806.6,459.2 808.5,460.2 808.5,478.0 807.6,481.0 806.6,478.0"/>
<polygon fill="#e0f3f8" opacity="0.14" points="722.8,444.3 726.1,445.3 726.1,462.6 724.4,465.6 722.8,462.6"/>
<polygon fill="#e2f2f2" opacity="0.4" points="700.1,363.7 703.4,364.7 703.4,380.9 701.7,383.9 700.1,380.9"/>
<polygon fill="#e0f3f8" opacity="0.14" points="598.5,384.3 601.5,385.3 601.5,404.1 600.0,407.1 598.5,404.1"/>
<polygon fill="#e0f3f8" opacity="0.14" points="896.4,396.9 898.3,397.9 898.3,408.8 897.3,411.8 896.4,408.8"/>
<polygon fill="#abd9e9" opacity="0.2" points="803.6,400.3 807.0,401.3 807.0,418.8 805.3,421.8 803.6,418.8"/>
<polygon fill="#4575b4" opacity="0.14" points="604.5,398.9 606.8,399.9 606.8,405.1 605.7,408.1 604.5,405.1"/>
<polygon fill="#5a8cc4" opacity="0.14" points="901.5,374.5 903.4,375.5 903.4,382.2 902.4,385.2 901.5,382.2"/>
<polygon fill="#ffffff" opacity="0.14" points="636.9,435.7 639.6,436.7 639.6,443.0 638.2,446.0 636.9,443.0"/>
<polygon fill="#ffffff" opacity="0.2" points="826.8,392.9 829.8,393.9 829.8,412.4 828.3,415.4 826.8,412.4"/>
<polygon fill="#4575b4" opacity="0.14" points="677.8,407.6 680.1,408.6 680.1,415.2 679.0,418.2 677.8,415.2"/>
<polygon fill="#e0f3f8" opacity="0.2" points="621.2,378.5 623.6,379.5 623.6,396.3 622.4,399.3 621.2,396.3"/>
<polygon fill="#f3f1dc" opacity="0.4" points="764.5,364.5 767.2,365.5 767.2,374.8 765.9,377.8 764.5,374.8"/>
<polygon fill="#ffffff" opacity="0.14" points="655.5,445.1 657.9,446.1 657.9,460.7 656.7,463.7 655.5,460.7"/>
<polygon fill="#4575b4" opacity="0.14" points="665.1,418.3 667.8,419.3 667.8,427.3 666.4,430.3 665.1,427.3"/>
<polygon fill="#e2f2f2" opacity="0.4" points="627.6,331.3 629.7,332.3 629.7,340.3 628.6,343.3 627.6,340.3"/>
<polygon fill="#f6f0d4" opacity="0.4" points="860.5,353.7 864.0,354.7 864.0,371.6 862.3,374.6 860.5,371.6"/>
<polygon fill="#5a8cc4" opacity="0.14" points="844.0,430.8 847.4,431.8 847.4,442.8 845.7,445.8 844.0,442.8"/>
<polygon fill="#5a8cc4" opacity="0.14" points="621.6,432.8 623.5,433.8 623.5,443.5 622.5,446.5 621.6,443.5"/>
<polygon fill="#e2f2f2" opacity="0.4" points="863.2,332.5 866.7,333.5 866.7,351.3 865.0,354.3 863.2,351.3"/>
<polygon fill="#4575b4" opacity="0.14" points="746.8,419.8 749.6,420.8 749.6,427.8 748.2,430.8 746.8,427.8"/>
<polygon fill="#5a8cc4" opacity="0.14" points="654.6,411.8 656.5,412.8 656.5,428.2 655.6,431.2 654.6,428.2"/>
<polygon fill="#4575b4" opacity="0.14" points="778.5,485.0 781.6,486.0 781.6,502.6 780.1,505.6 778.5,502.6"/>
<polygon fill="#4575b4" opacity="0.14" points="815.7,444.5 817.4,445.5 817.4,459.7 816.6,462.7 815.7,459.7"/>
<polygon fill="#4575b4" opacity="0.14" points="564.5,396.3 566.2,397.3 566.2,414.4 565.3,417.4 564.5,414.4"/>
<polygon fill="#e2f2f2" opacity="0.4" points="877.9,335.6 880.5,336.6 880.5,348.4 879.2,351.4 877.9,348.4"/>
<polygon fill="#4575b4" opacity="0.14" points="725.0,447.7 728.5,448.7 728.5,457.9 726.8,460.9 725.0,457.9"/>
<polygon fill="#4575b4" opacity="0.14" points="703.9,435.1 706.5,436.1 706.5,452.1 705.2,455.1 703.9,452.1"/>
<polygon fill="#5a8cc4" opacity="0.14" points="833.7,441.2 836.4,442.2 836.4,459.2 835.0,462.2 833.7,459.2"/>
<polygon fill="#f6f0d4" opacity="0.4" points="660.9,358.0 664.4,359.0 664.4,365.2 662.7,368.2 660.9,365.2"/>
<polygon fill="#e0f3f8" opacity="0.2" points="587.6,359.3 590.4,360.3 590.4,373.3 589.0,376.3 587.6,373.3"/>
<polygon fill="#ffffff" opacity="0.2" points="800.4,407.9 803.7,408.9 803.7,416.4 802.0,419.4 800.4,416.4"/>
<polygon fill="#f6f0d4" opacity="0.4" points="761.6,346.1 764.2,347.1 764.2,357.2 762.9,360.2 761.6,357.2"/>
<polygon fill="#4575b4" opacity="0.14" points="761.9,440.9 764.4,441.9 764.4,459.4 763.2,462.4 761.9,459.4"/>
<polygon fill="#f6f0d4" opacity="0.4" points="694.5,342.8 697.7,343.8 697.7,357.9 696.1,360.9 694.5,357.9"/>
<polygon fill="#4575b4" opacity="0.14" points="780.0,454.5 782.1,455.5 782.1,462.3 781.1,465.3 780.0,462.3"/>
<polygon fill="#f3f1dc" opacity="0.4" points="744.4,362.7 747.2,363.7 747.2,381.2 745.8,384.2 744.4,381.2"/>
<polygon fill="#e2f2f2" opacity="0.4" points="801.1,379.2 803.0,380.2 803.0,387.1 802.1,390.1 801.1,387.1"/>
<polygon fill="#f6f0d4" opacity="0.4" points="623.1,353.2 625.2,354.2 625.2,361.1 624.2,364.1 623.1,361.1"/>
<polygon fill="#e0f3f8" opacity="0.14" points="706.2,438.2 708.4,439.2 708.4,445.4 707.3,448.4 706.2,445.4"/>
<polygon fill="#4575b4" opacity="0.14" points="877.5,410.2 880.1,411.2 880.1,426.9 878.8,429.9 877.5,426.9"/>
<polygon fill="#5a8cc4" opacity="0.14" points="878.8,373.1 880.6,374.1 880.6,387.6 879.7,390.6 878.8,387.6"/>
<polygon fill="#abd9e9" opacity="0.2" points="675.8,380.3 677.5,381.3 677.5,393.9 676.6,396.9 675.8,393.9"/>
<polygon fill="#ffffff" opacity="0.2" points="904.6,346.8 906.6,347.8 906.6,366.0 905.6,369.0 904.6,366.0"/>
<polygon fill="#5a8cc4" opacity="0.14" points="610.1,409.1 612.4,410.1 612.4,424.8 611.2,427.8 610.1,424.8"/>
<polygon fill="#4575b4" opacity="0.14" points="798.3,470.2 801.1,471.2 801.1,482.6 799.7,485.6 798.3,482.6"/>
<polygon fill="#f6f0d4" opacity="0.4" points="682.4,370.4 685.4,371.4 685.4,383.6 683.9,386.6 682.4,383.6"/>
<polygon fill="#4575b4" opacity="0.14" points="687.4,421.1 690.6,422.1 690.6,432.7 689.0,435.7 687.4,432.7"/>
<polygon fill="#e2f2f2" opacity="0.4" points="762.6,391.2 765.8,392.2 765.8,401.0 764.2,404.0 762.6,401.0"/>
<polygon fill="#4575b4" opacity="0.14" points="789.8,438.3 792.1,439.3 792.1,453.5 790.9,456.5 789.8,453.5"/>
<polygon fill="#e0f3f8" opacity="0.14" points="857.3,381.1 859.9,382.1 859.9,394.8 858.6,397.8 857.3,394.8"/>
<polygon fill="#ffffff" opacity="0.14" points="895.8,360.8 897.8,361.8 897.8,368.7 896.8,371.7 895.8,368.7"/>
<polygon fill="#ffffff" opacity="0.2" points="910.8,345.9 913.9,346.9 913.9,360.7 912.4,363.7 910.8,360.7"/>
<polygon fill="#f6f0d4" opacity="0.4" points="845.8,343.5 848.8,344.5 848.8,356.9 847.3,359.9 845.8,356.9"/>
<polygon fill="#e0f3f8" opacity="0.14" points="872.9,408.6 875.6,409.6 875.6,425.2 874.3,428.2 872.9,425.2"/>
<polygon fill="#e2f2f2" opacity="0.4" points="856.9,320.9 858.9,321.9 858.9,338.6 857.9,341.6 856.9,338.6"/>
<polygon fill="#5a8cc4" opacity="0.14" points="669.2,423.2 672.3,424.2 672.3,436.0 670.7,439.0 669.2,436.0"/>
<polygon fill="#f3f1dc" opacity="0.4" points="718.3,353.7 720.0,354.7 720.0,368.4 719.1,371.4 718.3,368.4"/>
<polygon fill="#e0f3f8" opacity="0.14" points="855.4,382.0 856.9,383.0 856.9,401.5 856.2,404.5 855.4,401.5"/>
<polygon fill="#e0f3f8" opacity="0.14" points="761.3,416.7 763.8,417.7 763.8,422.8 762.5,425.8 761.3,422.8"/>
<polygon fill="#4575b4" opacity="0.14" points="694.7,461.7 696.3,462.7 696.3,476.8 695.5,479.8 694.7,476.8"/>
<polygon fill="#f3f1dc" opacity="0.4" points="730.5,351.5 732.4,352.5 732.4,363.1 731.5,366.1 730.5,363.1"/>
<polygon fill="#f3f1dc" opacity="0.4" points="722.5,348.4 725.7,349.4 725.7,367.2 724.1,370.2 722.5,367.2"/>
<polygon fill="#e0f3f8" opacity="0.14" points="902.6,361.3 905.2,362.3 905.2,374.7 903.9,377.7 902.6,374.7"/>
<polygon fill="#4575b4" opacity="0.14" points="918.9,392.0 922.0,393.0 922.0,408.2 920.5,411.2 918.9,408.2"/>
<polygon fill="#abd9e9" opacity="0.2" points="709.8,401.3 712.4,402.3 712.4,417.3 711.1,420.3 709.8,417.3"/>
<polygon fill="#4575b4" opacity="0.14" points="866.4,424.5 868.4,425.5 868.4,433.6 867.4,436.6 866.4,433.6"/>
<polygon fill="#f3f1dc" opacity="0.4" points="705.3,371.6 707.6,372.6 707.6,377.8 706.5,380.8 705.3,377.8"/>
<polygon fill="#abd9e9" opacity="0.2" points="849.1,369.1 852.1,370.1 852.1,385.3 850.6,388.3 849.1,385.3"/>
<polygon fill="#5a8cc4" opacity="0.14" points="812.4,426.3 814.8,427.3 814.8,438.8 813.6,441.8 812.4,438.8"/>
<polygon fill="#f3f1dc" opacity="0.4" points="705.3,347.2 707.4,348.2 707.4,366.4 706.3,369.4 705.3,366.4"/>
<polygon fill="#e0f3f8" opacity="0.14" points="875.9,408.1 879.1,409.1 879.1,426.1 877.5,429.1 875.9,426.1"/>
<polygon fill="#e2f2f2" opacity="0.4" points="780.0,384.9 783.4,385.9 783.4,399.0 781.7,402.0 780.0,399.0"/>
<polygon fill="#f3f1dc" opacity="0.4" points="778.3,352.2 780.5,353.2 780.5,370.0 779.4,373.0 778.3,370.0"/>
<polygon fill="#f3f1dc" opacity="0.4" points="678.5,367.2 681.9,368.2 681.9,375.7 680.2,378.7 678.5,375.7"/>
<polygon fill="#5a8cc4" opacity="0.14" points="871.3,409.9 874.8,410.9 874.8,422.4 873.1,425.4 871.3,422.4"/>
<polygon fill="#e0f3f8" opacity="0.14" points="922.0,389.8 924.2,390.8 924.2,397.3 923.1,400.3 922.0,397.3"/>
<polygon fill="#4575b4" opacity="0.14" points="755.0,469.4 756.5,470.4 756.5,479.0 755.7,482.0 755.0,479.0"/>
<polygon fill="#e0f3f8" opacity="0.14" points="654.1,395.9 656.8,396.9 656.8,407.0 655.5,410.0 654.1,407.0"/>
<polygon fill="#4575b4" opacity="0.14" points="710.9,457.6 713.1,458.6 713.1,467.1 712.0,470.1 710.9,467.1"/>
<polygon fill="#4575b4" opacity="0.14" points="577.8,381.7 580.3,382.7 580.3,395.1 579.1,398.1 577.8,395.1"/>
<polygon fill="#4575b4" opacity="0.14" points="726.7,441.0 730.0,442.0 730.0,460.6 728.4,463.6 726.7,460.6"/>
<polygon fill="#e0f3f8" opacity="0.14" points="856.9,428.1 860.1,429.1 860.1,438.9 858.5,441.9 856.9,438.9"/>
<polygon fill="#ffffff" opacity="0.14" points="805.2,451.6 807.8,452.6 807.8,463.3 806.5,466.3 805.2,463.3"/>
<polygon fill="#e9f4ea" opacity="0.6" points="600.6,346.9 601.6,346.3 602.6,345.7 603.6,342.9 604.6,343.5 605.6,343.9 606.6,343.4 607.6,342.8 608.6,342.4 609.6,341.9 610.6,341.4 611.6,340.9 612.6,340.4 613.6,338.0 614.6,339.4 615.6,338.9 616.6,338.4 617.6,337.9 618.6,337.2 619.6,336.4 620.6,335.6 621.6,334.5 622.6,332.9 623.6,332.0 624.6,332.5 625.6,332.0 626.6,331.5 627.6,331.0 628.6,330.5 629.6,330.0 630.6,328.7 631.6,329.0 632.6,328.5 633.6,328.0 634.6,325.0 635.6,327.0 636.6,325.4 637.6,326.0 638.6,324.9 639.6,325.0 640.6,324.5 641.6,324.0 642.6,321.1 643.6,323.0 644.6,322.5 645.6,322.0 646.6,321.3 647.6,321.2 648.6,318.3 649.6,320.6 650.6,319.1 651.6,320.0 652.6,319.6 653.6,319.3 654.6,318.5 655.6,318.6 656.6,318.3 657.6,317.8 658.6,316.3 659.6,316.5 660.6,315.8 661.6,314.5 662.6,314.6 663.6,314.3 664.6,314.0 665.6,313.6 666.6,313.4 667.6,312.0 668.6,312.8 669.6,308.6 670.6,311.6 671.6,311.9 672.6,311.6 673.6,311.3 674.6,310.9 675.6,309.2 676.6,309.2 677.6,308.3 678.6,309.6 679.6,308.7 680.6,309.1 681.6,307.7 682.6,308.6 683.6,308.3 684.6,305.7 685.6,307.7 686.6,306.3 687.6,303.5 688.6,308.6 689.6,305.6 690.6,309.7 691.6,309.9 692.6,311.0 693.6,310.5 694.6,311.7 695.6,312.8 696.6,310.4 697.6,313.0 698.6,312.9 699.6,312.7 700.6,312.6 701.6,312.5 702.6,312.3 703.6,312.2 704.6,309.2 705.6,311.9 706.6,311.8 707.6,311.7 708.6,311.8 709.6,308.6 710.6,311.4 711.6,312.8 712.6,312.4 713.6,313.5 714.6,311.3 715.6,314.1 716.6,312.8 717.6,313.9 718.6,313.7 719.6,314.7 720.6,311.5 721.6,315.0 722.6,315.2 723.6,314.7 724.6,314.7 725.6,314.6 726.6,314.7 727.6,315.2 728.6,315.0 729.6,314.8 730.6,312.9 731.6,313.4 732.6,313.0 733.6,313.9 734.6,313.3 735.6,313.9 736.6,314.8 737.6,315.8 738.6,316.6 739.6,316.5 740.6,314.9 741.6,317.6 742.6,316.4 743.6,316.1 744.6,316.6 745.6,316.3 746.6,313.8 747.6,315.6 748.6,319.5 749.6,320.7 750.6,320.6 751.6,321.2 752.6,322.6 753.6,323.0 754.6,323.3 755.6,323.6 756.6,323.9 757.6,324.3 758.6,324.6 759.6,323.4 760.6,325.6 761.6,324.3 762.6,325.9 763.6,327.7 764.6,328.4 765.6,326.6 766.6,326.6 767.6,328.1 768.6,328.1 769.6,327.9 770.6,327.8 771.6,327.6 772.6,327.4 773.6,327.2 774.6,327.0 775.6,326.8 776.6,326.7 777.6,322.4 778.6,323.9 779.6,326.1 780.6,324.2 781.6,322.6 782.6,324.8 783.6,325.5 784.6,323.9 785.6,325.1 786.6,325.0 787.6,325.1 788.6,324.0 789.6,325.6 790.6,325.6 791.6,326.1 792.6,326.5 793.6,326.7 794.6,325.7 795.6,325.2 796.6,327.0 797.6,325.6 798.6,325.5 799.6,322.0 800.6,324.4 801.6,325.6 802.6,325.4 803.6,325.1 804.6,324.8 805.6,324.5 806.6,323.6 807.6,321.5 808.6,322.4 809.6,323.0 810.6,321.5 811.6,321.0 812.6,321.3 813.6,321.1 814.6,319.2 815.6,320.2 816.6,317.9 817.6,319.9 818.6,318.5 819.6,320.2 820.6,322.6 821.6,323.9 822.6,326.3 823.6,328.8 824.6,331.4 825.6,332.4 826.6,331.8 827.6,332.3 828.6,332.1 829.6,332.2 830.6,332.1 831.6,331.5 832.6,332.0 833.6,328.0 834.6,331.9 835.6,331.9 836.6,331.9 837.6,331.8 838.6,332.0 839.6,332.2 840.6,332.2 841.6,328.6 842.6,332.7 843.6,332.3 844.6,331.4 845.6,333.3 846.6,332.7 847.6,333.6 848.6,333.8 849.6,334.0 850.6,334.2 851.6,334.4 852.6,333.9 853.6,334.7 854.6,333.4 855.6,334.8 856.6,333.7 857.6,333.6 858.6,335.0 859.6,335.1 860.6,335.2 861.6,334.8 862.6,333.8 863.6,335.4 864.6,334.4 865.6,333.6 866.6,335.6 867.6,335.6 868.6,335.7 869.6,336.4 870.6,336.3 871.6,338.4 872.6,338.0 873.6,340.4 874.6,340.8 875.6,343.4 876.6,345.8 877.6,348.2 878.6,349.6 879.6,351.0 879.6,357.0 878.6,355.6 877.6,354.2 876.6,351.8 875.6,349.4 874.6,346.8 873.6,346.4 872.6,344.0 871.6,344.4 870.6,342.3 869.6,342.4 868.6,341.7 867.6,341.6 866.6,341.6 865.6,339.6 864.6,340.4 863.6,341.4 862.6,339.8 861.6,340.8 860.6,341.2 859.6,341.1 858.6,341.0 857.6,339.6 856.6,339.7 855.6,340.8 854.6,339.4 853.6,340.7 852.6,339.9 851.6,340.4 850.6,340.2 849.6,340.0 848.6,339.8 847.6,339.6 846.6,338.7 845.6,339.3 844.6,337.4 843.6,338.3 842.6,338.7 841.6,334.6 840.6,338.2 839.6,338.2 838.6,338.0 837.6,337.8 836.6,337.9 835.6,337.9 834.6,337.9 833.6,334.0 832.6,338.0 831.6,337.5 830.6,338.1 829.6,338.2 828.6,338.1 827.6,338.3 826.6,337.8 825.6,338.4 824.6,337.4 823.6,334.8 822.6,332.3 821.6,329.9 820.6,328.6 819.6,326.2 818.6,324.5 817.6,325.9 816.6,323.9 815.6,326.2 814.6,325.2 813.6,327.1 812.6,327.3 811.6,327.0 810.6,327.5 809.6,329.0 808.6,328.4 807.6,327.5 806.6,329.6 805.6,330.5 804.6,330.8 803.6,331.1 802.6,331.4 801.6,331.6 800.6,330.4 799.6,328.0 798.6,331.5 797.6,331.6 796.6,333.0 795.6,331.2 794.6,331.7 793.6,332.7 792.6,332.5 791.6,332.1 790.6,331.6 789.6,331.6 788.6,330.0 787.6,331.1 786.6,331.0 785.6,331.1 784.6,329.9 783.6,331.5 782.6,330.8 781.6,328.6 780.6,330.2 779.6,332.1 778.6,329.9 777.6,328.4 776.6,332.7 775.6,332.8 774.6,333.0 773.6,333.2 772.6,333.4 771.6,333.6 770.6,333.8 769.6,333.9 768.6,334.1 767.6,334.1 766.6,332.6 765.6,332.6 764.6,334.4 763.6,333.7 762.6,331.9 761.6,330.3 760.6,331.6 759.6,329.4 758.6,330.6 757.6,330.3 756.6,329.9 755.6,329.6 754.6,329.3 753.6,329.0 752.6,328.6 751.6,327.2 750.6,326.6 749.6,326.7 748.6,325.5 747.6,321.6 746.6,319.8 745.6,322.3 744.6,322.6 743.6,322.1 742.6,322.4 741.6,323.6 740.6,320.9 739.6,322.5 738.6,322.6 737.6,321.8 736.6,320.8 735.6,319.9 734.6,319.3 733.6,319.9 732.6,319.0 731.6,319.4 730.6,318.9 729.6,320.8 728.6,321.0 727.6,321.2 726.6,320.7 725.6,320.6 724.6,320.7 723.6,320.7 722.6,321.2 721.6,321.0 720.6,317.5 719.6,320.7 718.6,319.7 717.6,319.9 716.6,318.8 715.6,320.1 714.6,317.3 713.6,319.5 712.6,318.4 711.6,318.8 710.6,317.4 709.6,314.6 708.6,317.8 707.6,317.7 706.6,317.8 705.6,317.9 704.6,315.2 703.6,318.2 702.6,318.3 701.6,318.5 700.6,318.6 699.6,318.7 698.6,318.9 697.6,319.0 696.6,316.4 695.6,318.8 694.6,317.7 693.6,316.5 692.6,317.0 691.6,315.9 690.6,315.7 689.6,311.6 688.6,314.6 687.6,309.5 686.6,312.3 685.6,313.7 684.6,311.7 683.6,314.3 682.6,314.6 681.6,313.7 680.6,315.1 679.6,314.7 678.6,315.6 677.6,314.3 676.6,315.2 675.6,315.2 674.6,316.9 673.6,317.3 672.6,317.6 671.6,317.9 670.6,317.6 669.6,314.6 668.6,318.8 667.6,318.0 666.6,319.4 665.6,319.6 664.6,320.0 663.6,320.3 662.6,320.6 661.6,320.5 660.6,321.8 659.6,322.5 658.6,322.3 657.6,323.8 656.6,324.3 655.6,324.6 654.6,324.5 653.6,325.3 652.6,325.6 651.6,326.0 650.6,325.1 649.6,326.6 648.6,324.3 647.6,327.2 646.6,327.3 645.6,328.0 644.6,328.5 643.6,329.0 642.6,327.1 641.6,330.0 640.6,330.5 639.6,331.0 638.6,330.9 637.6,332.0 636.6,331.4 635.6,333.0 634.6,331.0 633.6,334.0 632.6,334.5 631.6,335.0 630.6,334.7 629.6,336.0 628.6,336.5 627.6,337.0 626.6,337.5 625.6,338.0 624.6,338.5 623.6,338.0 622.6,338.9 621.6,340.5 620.6,341.6 619.6,342.4 618.6,343.2 617.6,343.9 616.6,344.4 615.6,344.9 614.6,345.4 613.6,344.0 612.6,346.4 611.6,346.9 610.6,347.4 609.6,347.9 608.6,348.4 607.6,348.8 606.6,349.4 605.6,349.9 604.6,349.5 603.6,348.9 602.6,351.7 601.6,352.3 600.6,352.9"/>
</g>
<path d="M511.5 302.5V461.5M511.5 302.5h7M511.5 329.5h7M511.5 356.5h7M511.5 381.5h7M511.5 408.5h7M511.5 435.5h7M511.5 461.5h7" stroke="#f8f4aa" fill="none"/>
<polygon points="660.5,477 660.5,316.5 795.5,247.5 795.5,407.5" fill="none" stroke="#ff0000"/>
<text x="495" y="306.0" fill="#f4f0b0" text-anchor="end" font-size="16" >0</text>
<text x="495" y="332.5" fill="#f4f0b0" text-anchor="end" font-size="16" >-20</text>
<text x="495" y="359.0" fill="#f4f0b0" text-anchor="end" font-size="16" >-40</text>
<text x="495" y="385.5" fill="#f4f0b0" text-anchor="end" font-size="16" >-60</text>
<text x="495" y="412.0" fill="#f4f0b0" text-anchor="end" font-size="16" >-80</text>
<text x="495" y="438.5" fill="#f4f0b0" text-anchor="end" font-size="16" >-100</text>
<text x="495" y="465.0" fill="#f4f0b0" text-anchor="end" font-size="16" >-120</text>
<text x="503.5" y="471.3" fill="#f4f0b0" text-anchor="middle" font-size="16" >19:12:00</text>
<text x="556.7" y="480.66" fill="#f4f0b0" text-anchor="middle" font-size="16" >19:12:20</text>
<text x="609.9" y="490.02" fill="#f4f0b0" text-anchor="middle" font-size="16" >19:12:40</text>
<text x="663.1" y="499.38" fill="#f4f0b0" text-anchor="middle" font-size="16" >19:13:00</text>
<text x="716.3" y="508.74" fill="#f4f0b0" text-anchor="middle" font-size="16" >19:13:20</text>
<text x="769.5" y="518.1" fill="#f4f0b0" text-anchor="middle" font-size="16" >19:13:40</text>
<text x="817.0" y="515.3" fill="#f4f0b0" text-anchor="middle" font-size="16" >1210</text>
<text x="839.1" y="503.84999999999997" fill="#f4f0b0" text-anchor="middle" font-size="16" >1215</text>
<text x="861.2" y="492.4" fill="#f4f0b0" text-anchor="middle" font-size="16" >1220</text>
<text x="883.3" y="480.94999999999993" fill="#f4f0b0" text-anchor="middle" font-size="16" >1225</text>
<text x="905.4" y="469.49999999999994" fill="#f4f0b0" text-anchor="middle" font-size="16" >1230</text>
<text x="927.5" y="458.04999999999995" fill="#f4f0b0" text-anchor="middle" font-size="16" >1235</text>
<text x="949.6" y="446.59999999999997" fill="#f4f0b0" text-anchor="middle" font-size="16" >1240</text>
<text x="971.7" y="435.15" fill="#f4f0b0" text-anchor="middle" font-size="16" >1245</text>
<text transform="translate(437,382) rotate(-90)" fill="#f4f0b0" text-anchor="middle" font-size="16">PSD (dBm)</text>
<text transform="translate(597,512) rotate(10)" fill="#f4f0b0" text-anchor="middle" font-size="16">Time (UTC)</text>
<text transform="translate(934,485) rotate(-27)" fill="#f4f0b0" text-anchor="middle" font-size="16">Frequency (MHz)</text>
<line x1="270.5" y1="632.5" x2="270.5" y2="707.5" stroke="#c0c0c0" stroke-dasharray="2,2"/>
<line x1="450.5" y1="632.5" x2="450.5" y2="707.5" stroke="#c0c0c0" stroke-dasharray="2,2"/>
<line x1="630.5" y1="632.5" x2="630.5" y2="707.5" stroke="#c0c0c0" stroke-dasharray="2,2"/>
<line x1="810.5" y1="632.5" x2="810.5" y2="707.5" stroke="#c0c0c0" stroke-dasharray="2,2"/>
<line x1="90.5" y1="662.5" x2="990.5" y2="662.5" stroke="#c0c0c0" stroke-dasharray="2,2"/>
<polyline fill="none" stroke="#eeee00" stroke-width="1" points="225.2,685.5 233.4,681.7 252.2,677.5 268.6,675.6 285.0,674.7 295.5,674.7 308.4,675.6 316.6,677.5 327.2,682.2 341.2,686.4 350.6,684.0 369.4,675.6 385.8,670.5 392.8,669.5 418.6,669.5 428.0,671.0 440.0,672.3 449.4,673.5 461.0,673.5 470.5,670.5 487.0,665.3 503.3,659.7 512.7,657.3 519.7,656.4 532.6,656.2 540.3,654.3 547.8,656.2 556.0,657.3 561.9,657.3 565.4,656.4 570.0,656.4 578.3,658.8 590.0,662.3 602.9,667.4 614.6,667.4 629.8,663.4 639.2,660.6 647.4,657.6 660.0,657.3 667.0,656.4 675.2,656.4 683.4,660.6 692.8,665.8 702.2,680.3 711.1,684.5 720.9,678.7 738.5,668.6 751.4,668.6 753.8,667.4 765.5,667.4 774.4,674.5 787.7,674.5 793.6,673.3 801.3,670.2 810.5,674.7 819.4,670.2 827.6,673.3 839.3,673.5 853.4,677.0 863.9,677.5 873.3,682.4 882.6,662.5"/>
<path d="M90.5 707.5v-8M90.5 632.5v8M180.5 707.5v-4M180.5 632.5v4M270.5 707.5v-8M270.5 632.5v8M360.5 707.5v-4M360.5 632.5v4M450.5 707.5v-8M450.5 632.5v8M540.5 707.5v-4M540.5 632.5v4M630.5 707.5v-8M630.5 632.5v8M720.5 707.5v-4M720.5 632.5v4M810.5 707.5v-8M810.5 632.5v8M900.5 707.5v-4M900.5 632.5v4M990.5 707.5v-8M990.5 632.5v8M90.5 662.5h8M990.5 662.5h-8M90.5 707.5h8M990.5 707.5h-8" stroke="#f8f4aa" fill="none"/>
<rect x="90.5" y="632.5" width="900.0" height="75.0" fill="none" stroke="#f8f4aa"/>
<line x1="540.5" y1="632.5" x2="540.5" y2="707.5" stroke="#ff0000" stroke-width="1"/>
<text x="77.3" y="666" fill="#f4f0b0" text-anchor="end" font-size="16" >-100</text>
<text x="77.3" y="711" fill="#f4f0b0" text-anchor="end" font-size="16" >-120</text>
<text x="89.3" y="730" fill="#f4f0b0" text-anchor="middle" font-size="16" >19:12:00</text>
<text x="269.3" y="730" fill="#f4f0b0" text-anchor="middle" font-size="16" >19:12:20</text>
<text x="449.3" y="730" fill="#f4f0b0" text-anchor="middle" font-size="16" >19:12:40</text>
<text x="629.3" y="730" fill="#f4f0b0" text-anchor="middle" font-size="16" >19:13:00</text>
<text x="809.3" y="730" fill="#f4f0b0" text-anchor="middle" font-size="16" >19:13:20</text>
<text x="989.3" y="730" fill="#f4f0b0" text-anchor="middle" font-size="16" >19:13:40</text>
<text transform="translate(19.5,671) rotate(-90)" fill="#f4f0b0" text-anchor="middle" font-size="16">Power (dBm)</text>
</g>
</svg>
</body></html>
